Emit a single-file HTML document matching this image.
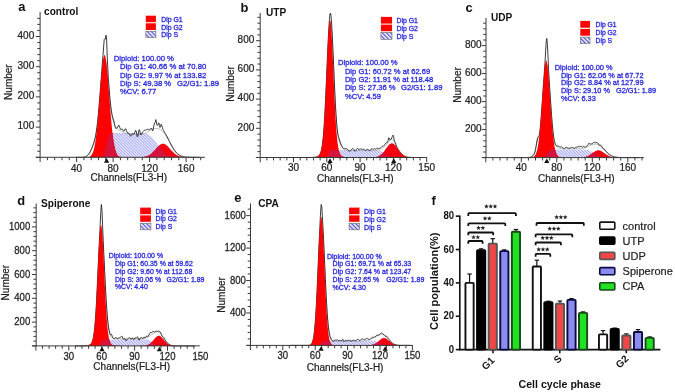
<!DOCTYPE html><html><head><meta charset="utf-8"><style>html,body{margin:0;padding:0;background:#fff;overflow:hidden}svg{display:block;filter:blur(0.4px)}</style></head><body>
<svg width="675" height="392" viewBox="0 0 675 392">
<defs><pattern id="hatch" patternUnits="userSpaceOnUse" width="2.1" height="2.1" patternTransform="rotate(-45)"><rect width="2.1" height="2.1" fill="#eaeafd" fill-opacity="0.85"/><rect width="0.8" height="2.1" fill="#9a9af2"/></pattern>
<pattern id="hatch2" patternUnits="userSpaceOnUse" width="2.9" height="2.9" patternTransform="rotate(-45)"><rect width="2.9" height="2.9" fill="#f4f2ff"/><rect width="1.2" height="2.9" fill="#5050c8"/></pattern></defs>
<rect width="675" height="392" fill="#fff"/>
<defs><clipPath id="csa"><path d="M75,157.3 L75,157.3 75.5,157.3 76,157.3 76.5,157.3 77,157.3 77.5,157.3 78,157.3 78.5,157.3 79,157.3 79.5,157.3 80,157.3 80.5,157.3 81,157.3 81.5,157.3 82,157.3 82.5,157.3 83,157.3 83.5,157.3 84,157.3 84.5,157.3 85,157.3 85.5,157.3 86,157.3 86.5,157.3 87,157.3 87.5,157.3 88,157.3 88.5,157.3 89,157.3 89.5,157.3 90,157.3 90.5,157.3 91,157.3 91.5,157.3 92,157.3 92.5,157.3 93,157.3 93.5,157.3 94,157.3 94.5,157.3 95,157.3 95.5,157.3 96,157.3 96.5,157.3 97,157.3 97.5,157.3 98,157.3 98.5,157.3 99,157.3 99.5,157.29 100,157.29 100.5,157.27 101,157.23 101.5,157.15 102,157 102.5,156.75 103,156.33 103.5,155.68 104,154.73 104.5,153.44 105,151.79 105.5,149.8 106,147.55 106.5,145.15 107,142.75 107.5,140.5 108,138.51 108.5,136.86 109,135.57 109.5,134.62 110,133.97 110.5,133.55 111,133.3 111.5,133.15 112,133.07 112.5,133.03 113,133.01 113.5,133.01 114,133 114.5,133 115,133 115.5,133 116,133 116.5,133 117,133 117.5,133 118,133 118.5,133 119,133 119.5,133 120,133 120.5,133 121,133 121.5,133 122,133 122.5,133 123,133 123.5,133 124,133 124.5,133 125,133 125.5,133 126,133 126.5,133 127,133 127.5,133 128,133 128.5,133 129,133 129.5,133 130,133 130.5,133 131,133 131.5,133 132,133 132.5,133 133,133 133.5,133 134,133 134.5,133 135,133 135.5,133.01 136,133.01 136.5,133.01 137,133.02 137.5,133.02 138,133.03 138.5,133.03 139,133.04 139.5,133.05 140,133.07 140.5,133.09 141,133.11 141.5,133.14 142,133.17 142.5,133.21 143,133.26 143.5,133.31 144,133.38 144.5,133.46 145,133.55 145.5,133.66 146,133.79 146.5,133.93 147,134.1 147.5,134.29 148,134.51 148.5,134.75 149,135.02 149.5,135.32 150,135.65 150.5,136.02 151,136.42 151.5,136.86 152,137.33 152.5,137.83 153,138.37 153.5,138.94 154,139.54 154.5,140.17 155,140.83 155.5,141.51 156,142.21 156.5,142.93 157,143.66 157.5,144.41 158,145.15 158.5,145.89 159,146.64 159.5,147.37 160,148.09 160.5,148.79 161,149.47 161.5,150.13 162,150.76 162.5,151.36 163,151.93 163.5,152.47 164,152.97 164.5,153.44 165,153.88 165.5,154.28 166,154.65 166.5,154.98 167,155.28 167.5,155.55 168,155.79 168.5,156.01 169,156.2 169.5,156.37 170,156.51 170.5,156.64 171,156.75 171.5,156.84 172,156.92 172.5,156.99 173,157.04 173.5,157.09 174,157.13 174.5,157.16 175,157.19 175.5,157.21 176,157.23 176.5,157.25 177,157.26 177.5,157.27 178,157.27 178.5,157.28 179,157.28 179.5,157.29 180,157.29 180.5,157.29 181,157.3 181.5,157.3 182,157.3 182.5,157.3 183,157.3 183.5,157.3 184,157.3 184.5,157.3 185,157.3 185.5,157.3 186,157.3 186.5,157.3 187,157.3 187.5,157.3 188,157.3 188.5,157.3 189,157.3 189.5,157.3 190,157.3 190.5,157.3 191,157.3 191.5,157.3 192,157.3 192.5,157.3 193,157.3 193.5,157.3 194,157.3 194.5,157.3 195,157.3 195.5,157.3 196,157.3 196.5,157.3 197,157.3 197.5,157.3 198,157.3 198.5,157.3 199,157.3 199.5,157.3 200,157.3 L200,157.3 Z"/></clipPath></defs>
<path d="M75,157.3 L75,157.3 75.5,157.3 76,157.3 76.5,157.3 77,157.3 77.5,157.3 78,157.3 78.5,157.3 79,157.3 79.5,157.3 80,157.3 80.5,157.3 81,157.3 81.5,157.3 82,157.3 82.5,157.3 83,157.3 83.5,157.3 84,157.3 84.5,157.3 85,157.3 85.5,157.3 86,157.3 86.5,157.3 87,157.3 87.5,157.3 88,157.3 88.5,157.3 89,157.3 89.5,157.3 90,157.3 90.5,157.3 91,157.3 91.5,157.3 92,157.3 92.5,157.3 93,157.3 93.5,157.3 94,157.3 94.5,157.3 95,157.3 95.5,157.3 96,157.3 96.5,157.3 97,157.3 97.5,157.3 98,157.3 98.5,157.3 99,157.3 99.5,157.29 100,157.29 100.5,157.27 101,157.23 101.5,157.15 102,157 102.5,156.75 103,156.33 103.5,155.68 104,154.73 104.5,153.44 105,151.79 105.5,149.8 106,147.55 106.5,145.15 107,142.75 107.5,140.5 108,138.51 108.5,136.86 109,135.57 109.5,134.62 110,133.97 110.5,133.55 111,133.3 111.5,133.15 112,133.07 112.5,133.03 113,133.01 113.5,133.01 114,133 114.5,133 115,133 115.5,133 116,133 116.5,133 117,133 117.5,133 118,133 118.5,133 119,133 119.5,133 120,133 120.5,133 121,133 121.5,133 122,133 122.5,133 123,133 123.5,133 124,133 124.5,133 125,133 125.5,133 126,133 126.5,133 127,133 127.5,133 128,133 128.5,133 129,133 129.5,133 130,133 130.5,133 131,133 131.5,133 132,133 132.5,133 133,133 133.5,133 134,133 134.5,133 135,133 135.5,133.01 136,133.01 136.5,133.01 137,133.02 137.5,133.02 138,133.03 138.5,133.03 139,133.04 139.5,133.05 140,133.07 140.5,133.09 141,133.11 141.5,133.14 142,133.17 142.5,133.21 143,133.26 143.5,133.31 144,133.38 144.5,133.46 145,133.55 145.5,133.66 146,133.79 146.5,133.93 147,134.1 147.5,134.29 148,134.51 148.5,134.75 149,135.02 149.5,135.32 150,135.65 150.5,136.02 151,136.42 151.5,136.86 152,137.33 152.5,137.83 153,138.37 153.5,138.94 154,139.54 154.5,140.17 155,140.83 155.5,141.51 156,142.21 156.5,142.93 157,143.66 157.5,144.41 158,145.15 158.5,145.89 159,146.64 159.5,147.37 160,148.09 160.5,148.79 161,149.47 161.5,150.13 162,150.76 162.5,151.36 163,151.93 163.5,152.47 164,152.97 164.5,153.44 165,153.88 165.5,154.28 166,154.65 166.5,154.98 167,155.28 167.5,155.55 168,155.79 168.5,156.01 169,156.2 169.5,156.37 170,156.51 170.5,156.64 171,156.75 171.5,156.84 172,156.92 172.5,156.99 173,157.04 173.5,157.09 174,157.13 174.5,157.16 175,157.19 175.5,157.21 176,157.23 176.5,157.25 177,157.26 177.5,157.27 178,157.27 178.5,157.28 179,157.28 179.5,157.29 180,157.29 180.5,157.29 181,157.3 181.5,157.3 182,157.3 182.5,157.3 183,157.3 183.5,157.3 184,157.3 184.5,157.3 185,157.3 185.5,157.3 186,157.3 186.5,157.3 187,157.3 187.5,157.3 188,157.3 188.5,157.3 189,157.3 189.5,157.3 190,157.3 190.5,157.3 191,157.3 191.5,157.3 192,157.3 192.5,157.3 193,157.3 193.5,157.3 194,157.3 194.5,157.3 195,157.3 195.5,157.3 196,157.3 196.5,157.3 197,157.3 197.5,157.3 198,157.3 198.5,157.3 199,157.3 199.5,157.3 200,157.3 L200,157.3 Z" fill="url(#hatch)"/>
<path d="M85,157.49 85.6,157.29 86.2,157.01 86.8,156.63 87.4,156.15 88,155.55 88.6,154.82 89.2,153.96 89.8,152.98 90.4,151.89 91,150.69 91.6,149.41 92.2,148.04 92.8,146.56 93.4,144.92 94,143.1 94.6,141.06 95.2,138.67 95.8,135.81 96.4,132.35 97,128.19 97.6,123.26 98.2,117.58 98.8,111.2 99.4,104.28 100,97 100.6,89.62 101.2,82.42 101.8,75.71 102.4,69.78 103,64.9 103.6,61.32 104.2,59.21 104.8,58.68 105.4,59.75 106,62.36 106.6,66.37 107.2,71.57 107.8,77.65 108.4,84.26 109,91.02 109.6,97.55 110.2,103.5 110.8,108.64 111.4,112.87 112,116.22 112.6,118.84 113.2,120.92 113.8,122.61 114.4,124.04 115,125.26 115.6,126.29 116.2,127.16 116.8,127.89 117.4,128.53 118,129.16 118.6,129.72 119.2,130.18 119.8,130.58 120.4,130.93 121,131.25 121.6,131.55 122.2,131.85 122.8,132.13 123.4,132.4 124,132.65 124.6,132.9 125.2,133.12 125.8,133.32 126.4,133.5 127,133.66 127.6,133.79 128.2,133.9 128.8,134 129.4,134.08 130,134.14 130.6,134.19 131.2,134.22 131.8,134.25 132.4,134.27 133,134.29 133.6,134.3 134.2,134.31 134.8,134.31 135.4,134.31 136,134.31 136.6,134.31 137.2,134.31 137.8,134.3 138.4,134.29 139,134.28 139.6,134.26 140.2,134.24 140.8,134.2 141.4,134.15 142,134.09 142.6,134.01 143.2,133.9 143.8,133.76 144.4,133.58 145,133.37 145.6,133.12 146.2,132.83 146.8,132.5 147.4,132.13 148,131.74 148.6,131.33 149.2,130.91 149.8,130.5 150.4,130.11 151,129.75 151.6,129.43 152.2,129.17 152.8,128.95 153.4,128.79 154,128.67 154.6,128.6 155.2,128.57 155.8,128.56 156.4,128.59 157,128.64 157.6,128.72 158.2,128.83 158.8,128.97 159.4,129.16 160,129.39 160.6,129.69 161.2,130.06 161.8,130.51 162.4,131.05 163,131.68 163.6,132.39 164.2,133.17 164.8,134.03 165.4,134.95 166,135.93 166.6,136.97 167.2,138.05 167.8,139.17 168.4,140.31 169,141.46 169.6,142.62 170.2,143.76 170.8,144.89 171.4,146 172,147.06 172.6,148.08 173.2,149.06 173.8,149.98 174.4,150.84 175,151.64 175.6,152.38 176.2,153.06 176.8,153.68 177.4,154.23 178,154.73 178.6,155.18 179.2,155.58 179.8,155.92 180.4,156.23 181,156.49 181.6,156.72 182.2,156.92 182.8,157.08 183.4,157.23 184,157.34 184.6,157.45" fill="none" stroke="#9a9a9a" stroke-width="0.7"/>
<path d="M76,157.3 76.6,157.3 77.2,157.3 77.8,157.3 78.4,157.3 79,157.3 79.6,157.3 80.2,157.29 80.8,157.29 81.4,157.28 82,157.26 82.6,157.24 83.2,157.2 83.8,157.13 84.4,157.03 85,156.88 85.6,156.67 86.2,156.38 86.8,156 87.4,155.5 88,154.87 88.6,154.12 89.2,153.23 89.8,152.22 90.4,151.1 91,149.87 91.6,148.55 92.2,147.14 92.8,145.6 93.4,143.92 94,142.04 94.6,139.94 95.2,137.48 95.8,134.53 96.4,130.96 97,126.67 97.6,121.59 98.2,115.72 98.8,109.14 99.4,101.96 100,94.36 100.6,86.51 101.2,78.59 101.8,70.75 102.4,63.13 103,55.55 103.6,47.02 104.2,39.67 104.8,38.78 105.4,39.15 106,35.16 106.6,39.03 107.2,55.05 107.8,68.97 108.4,78.6 109,86.9 109.6,94.39 110.2,100.92 110.8,106.4 111.4,110.84 112,114.32 112.6,116.89 113.2,118.89 113.8,120.77 114.4,123.73 115,126.48 115.6,128.27 116.2,128.35 116.8,128.28 117.4,127.61 118,126.38 118.6,125.09 119.2,125.84 119.8,127.57 120.4,129.26 121,129.4 121.6,129.21 122.2,129.01 122.8,129.92 123.4,130.83 124,131.38 124.6,130.2 125.2,129 125.8,128.76 126.4,130.45 127,132.11 127.6,133 128.2,133.11 128.8,133.2 129.4,134.01 130,135.16 130.6,136.3 131.2,135.66 131.8,134.67 132.4,133.67 133,133.85 133.6,134.01 134.2,133.88 134.8,132.26 135.4,130.64 136,130.56 136.6,133.6 137.2,136.64 137.8,136.46 138.4,133.07 139,129.67 139.6,130.16 140.2,132.58 140.8,135 141.4,134.39 142,133.16 142.6,131.91 143.2,131.35 143.8,130.76 144.4,130.24 145,130.2 145.6,130.12 146.2,129.94 146.8,129.58 147.4,129.19 148,129.21 148.6,129.64 149.2,130.06 149.8,129.66 150.4,128.86 151,128.09 151.6,128.78 152.2,129.79 152.8,130.86 153.4,128.01 154,125.2 154.6,122.99 155.2,122.63 155.8,119.6 156.4,121.75 157,125.22 157.6,125.39 158.2,124.57 158.8,122.84 159.4,125.37 160,127.45 160.6,126.06 161.2,124.12 161.8,125.39 162.4,127.39 163,129.47 163.6,130.49 164.2,131.57 164.8,132.69 165.4,133.64 166,134.65 166.6,135.72 167.2,136.84 167.8,137.99 168.4,139.16 169,140.35 169.6,141.54 170.2,142.73 170.8,143.89 171.4,145.03 172,146.13 172.6,147.18 173.2,148.18 173.8,149.13 174.4,150.02 175,150.85 175.6,151.61 176.2,152.31 176.8,152.95 177.4,153.52 178,154.04 178.6,154.5 179.2,154.9 179.8,155.26 180.4,155.58 181,155.85 181.6,156.08 182.2,156.29 182.8,156.46 183.4,156.6 184,156.73 184.6,156.83 185.2,156.92 185.8,156.99 186.4,157.05 187,157.1 187.6,157.14 188.2,157.17 188.8,157.2 189.4,157.22 190,157.24 190.6,157.25 191.2,157.26 191.8,157.27 192.4,157.28 193,157.28 193.6,157.29 194.2,157.29 194.8,157.29 195.4,157.29 196,157.3 196.6,157.3 197.2,157.3 197.8,157.3 198.4,157.3 199,157.3 199.6,157.3" fill="none" stroke="#1a1a1a" stroke-width="0.85"/>
<path d="M75,157.3 L75,157.3 75.5,157.3 76,157.3 76.5,157.3 77,157.3 77.5,157.3 78,157.3 78.5,157.3 79,157.3 79.5,157.3 80,157.3 80.5,157.3 81,157.3 81.5,157.3 82,157.3 82.5,157.3 83,157.3 83.5,157.3 84,157.29 84.5,157.29 85,157.28 85.5,157.27 86,157.26 86.5,157.23 87,157.2 87.5,157.15 88,157.08 88.5,156.99 89,156.86 89.5,156.67 90,156.42 90.5,156.09 91,155.65 91.5,155.07 92,154.32 92.5,153.37 93,152.17 93.5,150.69 94,148.86 94.5,146.66 95,144.03 95.5,140.95 96,137.36 96.5,133.27 97,128.66 97.5,123.56 98,117.99 98.5,112.01 99,105.72 99.5,99.21 100,92.61 100.5,86.08 101,79.77 101.5,73.85 102,68.5 102.5,63.86 103,60.08 103.5,57.29 104,55.58 104.5,55 105,55.58 105.5,57.29 106,60.08 106.5,63.86 107,68.5 107.5,73.85 108,79.77 108.5,86.08 109,92.61 109.5,99.21 110,105.72 110.5,112.01 111,117.99 111.5,123.56 112,128.66 112.5,133.27 113,137.36 113.5,140.95 114,144.03 114.5,146.66 115,148.86 115.5,150.69 116,152.17 116.5,153.37 117,154.32 117.5,155.07 118,155.65 118.5,156.09 119,156.42 119.5,156.67 120,156.86 120.5,156.99 121,157.08 121.5,157.15 122,157.2 122.5,157.23 123,157.26 123.5,157.27 124,157.28 124.5,157.29 125,157.29 125.5,157.3 126,157.3 126.5,157.3 127,157.3 127.5,157.3 128,157.3 128.5,157.3 129,157.3 129.5,157.3 130,157.3 130.5,157.3 131,157.3 131.5,157.3 132,157.3 132.5,157.3 133,157.3 133.5,157.3 134,157.3 134.5,157.3 135,157.3 135.5,157.3 136,157.3 136.5,157.3 137,157.3 137.5,157.3 138,157.3 138.5,157.3 139,157.3 139.5,157.3 140,157.3 140.5,157.3 141,157.3 141.5,157.3 142,157.3 142.5,157.3 143,157.3 143.5,157.3 144,157.3 144.5,157.3 145,157.3 145.5,157.3 146,157.3 146.5,157.3 147,157.3 147.5,157.3 148,157.3 148.5,157.3 149,157.3 149.5,157.3 150,157.3 150.5,157.3 151,157.3 151.5,157.3 152,157.3 152.5,157.3 153,157.3 153.5,157.3 154,157.3 154.5,157.3 155,157.3 155.5,157.3 156,157.3 156.5,157.3 157,157.3 157.5,157.3 158,157.3 158.5,157.3 159,157.3 159.5,157.3 160,157.3 160.5,157.3 161,157.3 161.5,157.3 162,157.3 162.5,157.3 163,157.3 163.5,157.3 164,157.3 164.5,157.3 165,157.3 165.5,157.3 166,157.3 166.5,157.3 167,157.3 167.5,157.3 168,157.3 168.5,157.3 169,157.3 169.5,157.3 170,157.3 170.5,157.3 171,157.3 171.5,157.3 172,157.3 172.5,157.3 173,157.3 173.5,157.3 174,157.3 174.5,157.3 175,157.3 175.5,157.3 176,157.3 176.5,157.3 177,157.3 177.5,157.3 178,157.3 178.5,157.3 179,157.3 179.5,157.3 180,157.3 180.5,157.3 181,157.3 181.5,157.3 182,157.3 182.5,157.3 183,157.3 183.5,157.3 184,157.3 184.5,157.3 185,157.3 185.5,157.3 186,157.3 186.5,157.3 187,157.3 187.5,157.3 188,157.3 188.5,157.3 189,157.3 189.5,157.3 190,157.3 190.5,157.3 191,157.3 191.5,157.3 192,157.3 192.5,157.3 193,157.3 193.5,157.3 194,157.3 194.5,157.3 195,157.3 195.5,157.3 196,157.3 196.5,157.3 197,157.3 197.5,157.3 198,157.3 198.5,157.3 199,157.3 199.5,157.3 200,157.3 L200,157.3 Z" fill="#ff0000"/>
<path d="M75,157.3 L75,157.3 75.5,157.3 76,157.3 76.5,157.3 77,157.3 77.5,157.3 78,157.3 78.5,157.3 79,157.3 79.5,157.3 80,157.3 80.5,157.3 81,157.3 81.5,157.3 82,157.3 82.5,157.3 83,157.3 83.5,157.3 84,157.3 84.5,157.3 85,157.3 85.5,157.3 86,157.3 86.5,157.3 87,157.3 87.5,157.3 88,157.3 88.5,157.3 89,157.3 89.5,157.3 90,157.3 90.5,157.3 91,157.3 91.5,157.3 92,157.3 92.5,157.3 93,157.3 93.5,157.3 94,157.3 94.5,157.3 95,157.3 95.5,157.3 96,157.3 96.5,157.3 97,157.3 97.5,157.3 98,157.3 98.5,157.3 99,157.3 99.5,157.3 100,157.3 100.5,157.3 101,157.3 101.5,157.3 102,157.3 102.5,157.3 103,157.3 103.5,157.3 104,157.3 104.5,157.3 105,157.3 105.5,157.3 106,157.3 106.5,157.3 107,157.3 107.5,157.3 108,157.3 108.5,157.3 109,157.3 109.5,157.3 110,157.3 110.5,157.3 111,157.3 111.5,157.3 112,157.3 112.5,157.3 113,157.3 113.5,157.3 114,157.3 114.5,157.3 115,157.3 115.5,157.3 116,157.3 116.5,157.3 117,157.3 117.5,157.3 118,157.3 118.5,157.3 119,157.3 119.5,157.3 120,157.3 120.5,157.3 121,157.3 121.5,157.3 122,157.3 122.5,157.3 123,157.3 123.5,157.3 124,157.3 124.5,157.3 125,157.3 125.5,157.3 126,157.3 126.5,157.3 127,157.3 127.5,157.3 128,157.3 128.5,157.3 129,157.3 129.5,157.3 130,157.3 130.5,157.3 131,157.3 131.5,157.3 132,157.3 132.5,157.3 133,157.3 133.5,157.3 134,157.3 134.5,157.29 135,157.29 135.5,157.29 136,157.29 136.5,157.28 137,157.28 137.5,157.27 138,157.27 138.5,157.26 139,157.25 139.5,157.23 140,157.22 140.5,157.2 141,157.17 141.5,157.14 142,157.11 142.5,157.06 143,157.01 143.5,156.95 144,156.88 144.5,156.8 145,156.7 145.5,156.59 146,156.46 146.5,156.32 147,156.15 147.5,155.96 148,155.75 148.5,155.51 149,155.25 149.5,154.96 150,154.64 150.5,154.29 151,153.91 151.5,153.5 152,153.07 152.5,152.6 153,152.12 153.5,151.6 154,151.07 154.5,150.53 155,149.96 155.5,149.39 156,148.82 156.5,148.25 157,147.69 157.5,147.14 158,146.61 158.5,146.11 159,145.64 159.5,145.22 160,144.83 160.5,144.5 161,144.21 161.5,143.99 162,143.83 162.5,143.73 163,143.7 163.5,143.73 164,143.83 164.5,143.99 165,144.21 165.5,144.5 166,144.83 166.5,145.22 167,145.64 167.5,146.11 168,146.61 168.5,147.14 169,147.69 169.5,148.25 170,148.82 170.5,149.39 171,149.96 171.5,150.53 172,151.07 172.5,151.6 173,152.12 173.5,152.6 174,153.07 174.5,153.5 175,153.91 175.5,154.29 176,154.64 176.5,154.96 177,155.25 177.5,155.51 178,155.75 178.5,155.96 179,156.15 179.5,156.32 180,156.46 180.5,156.59 181,156.7 181.5,156.8 182,156.88 182.5,156.95 183,157.01 183.5,157.06 184,157.11 184.5,157.14 185,157.17 185.5,157.2 186,157.22 186.5,157.23 187,157.25 187.5,157.26 188,157.27 188.5,157.27 189,157.28 189.5,157.28 190,157.29 190.5,157.29 191,157.29 191.5,157.29 192,157.3 192.5,157.3 193,157.3 193.5,157.3 194,157.3 194.5,157.3 195,157.3 195.5,157.3 196,157.3 196.5,157.3 197,157.3 197.5,157.3 198,157.3 198.5,157.3 199,157.3 199.5,157.3 200,157.3 L200,157.3 Z" fill="#f00010"/>
<g clip-path="url(#csa)"><path d="M75,157.3 L75,157.3 75.5,157.3 76,157.3 76.5,157.3 77,157.3 77.5,157.3 78,157.3 78.5,157.3 79,157.3 79.5,157.3 80,157.3 80.5,157.3 81,157.3 81.5,157.3 82,157.3 82.5,157.3 83,157.3 83.5,157.3 84,157.29 84.5,157.29 85,157.28 85.5,157.27 86,157.26 86.5,157.23 87,157.2 87.5,157.15 88,157.08 88.5,156.99 89,156.86 89.5,156.67 90,156.42 90.5,156.09 91,155.65 91.5,155.07 92,154.32 92.5,153.37 93,152.17 93.5,150.69 94,148.86 94.5,146.66 95,144.03 95.5,140.95 96,137.36 96.5,133.27 97,128.66 97.5,123.56 98,117.99 98.5,112.01 99,105.72 99.5,99.21 100,92.61 100.5,86.08 101,79.77 101.5,73.85 102,68.5 102.5,63.86 103,60.08 103.5,57.29 104,55.58 104.5,55 105,55.58 105.5,57.29 106,60.08 106.5,63.86 107,68.5 107.5,73.85 108,79.77 108.5,86.08 109,92.61 109.5,99.21 110,105.72 110.5,112.01 111,117.99 111.5,123.56 112,128.66 112.5,133.27 113,137.36 113.5,140.95 114,144.03 114.5,146.66 115,148.86 115.5,150.69 116,152.17 116.5,153.37 117,154.32 117.5,155.07 118,155.65 118.5,156.09 119,156.42 119.5,156.67 120,156.86 120.5,156.99 121,157.08 121.5,157.15 122,157.2 122.5,157.23 123,157.26 123.5,157.27 124,157.28 124.5,157.29 125,157.29 125.5,157.3 126,157.3 126.5,157.3 127,157.3 127.5,157.3 128,157.3 128.5,157.3 129,157.3 129.5,157.3 130,157.3 130.5,157.3 131,157.3 131.5,157.3 132,157.3 132.5,157.3 133,157.3 133.5,157.3 134,157.3 134.5,157.3 135,157.3 135.5,157.3 136,157.3 136.5,157.3 137,157.3 137.5,157.3 138,157.3 138.5,157.3 139,157.3 139.5,157.3 140,157.3 140.5,157.3 141,157.3 141.5,157.3 142,157.3 142.5,157.3 143,157.3 143.5,157.3 144,157.3 144.5,157.3 145,157.3 145.5,157.3 146,157.3 146.5,157.3 147,157.3 147.5,157.3 148,157.3 148.5,157.3 149,157.3 149.5,157.3 150,157.3 150.5,157.3 151,157.3 151.5,157.3 152,157.3 152.5,157.3 153,157.3 153.5,157.3 154,157.3 154.5,157.3 155,157.3 155.5,157.3 156,157.3 156.5,157.3 157,157.3 157.5,157.3 158,157.3 158.5,157.3 159,157.3 159.5,157.3 160,157.3 160.5,157.3 161,157.3 161.5,157.3 162,157.3 162.5,157.3 163,157.3 163.5,157.3 164,157.3 164.5,157.3 165,157.3 165.5,157.3 166,157.3 166.5,157.3 167,157.3 167.5,157.3 168,157.3 168.5,157.3 169,157.3 169.5,157.3 170,157.3 170.5,157.3 171,157.3 171.5,157.3 172,157.3 172.5,157.3 173,157.3 173.5,157.3 174,157.3 174.5,157.3 175,157.3 175.5,157.3 176,157.3 176.5,157.3 177,157.3 177.5,157.3 178,157.3 178.5,157.3 179,157.3 179.5,157.3 180,157.3 180.5,157.3 181,157.3 181.5,157.3 182,157.3 182.5,157.3 183,157.3 183.5,157.3 184,157.3 184.5,157.3 185,157.3 185.5,157.3 186,157.3 186.5,157.3 187,157.3 187.5,157.3 188,157.3 188.5,157.3 189,157.3 189.5,157.3 190,157.3 190.5,157.3 191,157.3 191.5,157.3 192,157.3 192.5,157.3 193,157.3 193.5,157.3 194,157.3 194.5,157.3 195,157.3 195.5,157.3 196,157.3 196.5,157.3 197,157.3 197.5,157.3 198,157.3 198.5,157.3 199,157.3 199.5,157.3 200,157.3 L200,157.3 Z" fill="#d4143c"/><path d="M75,157.3 L75,157.3 75.5,157.3 76,157.3 76.5,157.3 77,157.3 77.5,157.3 78,157.3 78.5,157.3 79,157.3 79.5,157.3 80,157.3 80.5,157.3 81,157.3 81.5,157.3 82,157.3 82.5,157.3 83,157.3 83.5,157.3 84,157.3 84.5,157.3 85,157.3 85.5,157.3 86,157.3 86.5,157.3 87,157.3 87.5,157.3 88,157.3 88.5,157.3 89,157.3 89.5,157.3 90,157.3 90.5,157.3 91,157.3 91.5,157.3 92,157.3 92.5,157.3 93,157.3 93.5,157.3 94,157.3 94.5,157.3 95,157.3 95.5,157.3 96,157.3 96.5,157.3 97,157.3 97.5,157.3 98,157.3 98.5,157.3 99,157.3 99.5,157.3 100,157.3 100.5,157.3 101,157.3 101.5,157.3 102,157.3 102.5,157.3 103,157.3 103.5,157.3 104,157.3 104.5,157.3 105,157.3 105.5,157.3 106,157.3 106.5,157.3 107,157.3 107.5,157.3 108,157.3 108.5,157.3 109,157.3 109.5,157.3 110,157.3 110.5,157.3 111,157.3 111.5,157.3 112,157.3 112.5,157.3 113,157.3 113.5,157.3 114,157.3 114.5,157.3 115,157.3 115.5,157.3 116,157.3 116.5,157.3 117,157.3 117.5,157.3 118,157.3 118.5,157.3 119,157.3 119.5,157.3 120,157.3 120.5,157.3 121,157.3 121.5,157.3 122,157.3 122.5,157.3 123,157.3 123.5,157.3 124,157.3 124.5,157.3 125,157.3 125.5,157.3 126,157.3 126.5,157.3 127,157.3 127.5,157.3 128,157.3 128.5,157.3 129,157.3 129.5,157.3 130,157.3 130.5,157.3 131,157.3 131.5,157.3 132,157.3 132.5,157.3 133,157.3 133.5,157.3 134,157.3 134.5,157.29 135,157.29 135.5,157.29 136,157.29 136.5,157.28 137,157.28 137.5,157.27 138,157.27 138.5,157.26 139,157.25 139.5,157.23 140,157.22 140.5,157.2 141,157.17 141.5,157.14 142,157.11 142.5,157.06 143,157.01 143.5,156.95 144,156.88 144.5,156.8 145,156.7 145.5,156.59 146,156.46 146.5,156.32 147,156.15 147.5,155.96 148,155.75 148.5,155.51 149,155.25 149.5,154.96 150,154.64 150.5,154.29 151,153.91 151.5,153.5 152,153.07 152.5,152.6 153,152.12 153.5,151.6 154,151.07 154.5,150.53 155,149.96 155.5,149.39 156,148.82 156.5,148.25 157,147.69 157.5,147.14 158,146.61 158.5,146.11 159,145.64 159.5,145.22 160,144.83 160.5,144.5 161,144.21 161.5,143.99 162,143.83 162.5,143.73 163,143.7 163.5,143.73 164,143.83 164.5,143.99 165,144.21 165.5,144.5 166,144.83 166.5,145.22 167,145.64 167.5,146.11 168,146.61 168.5,147.14 169,147.69 169.5,148.25 170,148.82 170.5,149.39 171,149.96 171.5,150.53 172,151.07 172.5,151.6 173,152.12 173.5,152.6 174,153.07 174.5,153.5 175,153.91 175.5,154.29 176,154.64 176.5,154.96 177,155.25 177.5,155.51 178,155.75 178.5,155.96 179,156.15 179.5,156.32 180,156.46 180.5,156.59 181,156.7 181.5,156.8 182,156.88 182.5,156.95 183,157.01 183.5,157.06 184,157.11 184.5,157.14 185,157.17 185.5,157.2 186,157.22 186.5,157.23 187,157.25 187.5,157.26 188,157.27 188.5,157.27 189,157.28 189.5,157.28 190,157.29 190.5,157.29 191,157.29 191.5,157.29 192,157.3 192.5,157.3 193,157.3 193.5,157.3 194,157.3 194.5,157.3 195,157.3 195.5,157.3 196,157.3 196.5,157.3 197,157.3 197.5,157.3 198,157.3 198.5,157.3 199,157.3 199.5,157.3 200,157.3 L200,157.3 Z" fill="#d4143c"/></g>
<g stroke="#3a3a3a" stroke-width="1" fill="none">
<line x1="40.1" y1="12" x2="40.1" y2="157.3"/>
<line x1="35.9" y1="157.3" x2="204.9" y2="157.3"/>
<line x1="35.8" y1="157.3" x2="40.1" y2="157.3"/>
<line x1="37.3" y1="151.26" x2="40.1" y2="151.26"/>
<line x1="37.3" y1="145.22" x2="40.1" y2="145.22"/>
<line x1="37.3" y1="139.18" x2="40.1" y2="139.18"/>
<line x1="37.3" y1="133.14" x2="40.1" y2="133.14"/>
<line x1="35.8" y1="127.1" x2="40.1" y2="127.1"/>
<line x1="37.3" y1="121.06" x2="40.1" y2="121.06"/>
<line x1="37.3" y1="115.02" x2="40.1" y2="115.02"/>
<line x1="37.3" y1="108.98" x2="40.1" y2="108.98"/>
<line x1="37.3" y1="102.94" x2="40.1" y2="102.94"/>
<line x1="35.8" y1="96.9" x2="40.1" y2="96.9"/>
<line x1="37.3" y1="90.86" x2="40.1" y2="90.86"/>
<line x1="37.3" y1="84.82" x2="40.1" y2="84.82"/>
<line x1="37.3" y1="78.78" x2="40.1" y2="78.78"/>
<line x1="37.3" y1="72.74" x2="40.1" y2="72.74"/>
<line x1="35.8" y1="66.7" x2="40.1" y2="66.7"/>
<line x1="37.3" y1="60.66" x2="40.1" y2="60.66"/>
<line x1="37.3" y1="54.62" x2="40.1" y2="54.62"/>
<line x1="37.3" y1="48.58" x2="40.1" y2="48.58"/>
<line x1="37.3" y1="42.54" x2="40.1" y2="42.54"/>
<line x1="35.8" y1="36.5" x2="40.1" y2="36.5"/>
<line x1="37.3" y1="30.46" x2="40.1" y2="30.46"/>
<line x1="37.3" y1="24.42" x2="40.1" y2="24.42"/>
<line x1="37.3" y1="18.38" x2="40.1" y2="18.38"/>
<line x1="40.1" y1="157.3" x2="40.1" y2="162"/>
<line x1="47.4" y1="157.3" x2="47.4" y2="160.2"/>
<line x1="54.7" y1="157.3" x2="54.7" y2="160.2"/>
<line x1="62" y1="157.3" x2="62" y2="160.2"/>
<line x1="69.3" y1="157.3" x2="69.3" y2="160.2"/>
<line x1="76.6" y1="157.3" x2="76.6" y2="162"/>
<line x1="83.9" y1="157.3" x2="83.9" y2="160.2"/>
<line x1="91.2" y1="157.3" x2="91.2" y2="160.2"/>
<line x1="98.5" y1="157.3" x2="98.5" y2="160.2"/>
<line x1="105.8" y1="157.3" x2="105.8" y2="160.2"/>
<line x1="113.1" y1="157.3" x2="113.1" y2="162"/>
<line x1="120.4" y1="157.3" x2="120.4" y2="160.2"/>
<line x1="127.7" y1="157.3" x2="127.7" y2="160.2"/>
<line x1="135" y1="157.3" x2="135" y2="160.2"/>
<line x1="142.3" y1="157.3" x2="142.3" y2="160.2"/>
<line x1="149.6" y1="157.3" x2="149.6" y2="162"/>
<line x1="156.9" y1="157.3" x2="156.9" y2="160.2"/>
<line x1="164.2" y1="157.3" x2="164.2" y2="160.2"/>
<line x1="171.5" y1="157.3" x2="171.5" y2="160.2"/>
<line x1="178.8" y1="157.3" x2="178.8" y2="160.2"/>
<line x1="186.1" y1="157.3" x2="186.1" y2="162"/>
<line x1="193.4" y1="157.3" x2="193.4" y2="160.2"/>
<line x1="200.7" y1="157.3" x2="200.7" y2="160.2"/>
</g>
<g font-family='"Liberation Sans", sans-serif' font-size="10" fill="#222" stroke="#222" stroke-width="0.22">
<text transform="translate(34.2,129.4) scale(1,1)" text-anchor="end">100</text>
<text transform="translate(34.2,99.2) scale(1,1)" text-anchor="end">200</text>
<text transform="translate(34.2,69) scale(1,1)" text-anchor="end">300</text>
<text transform="translate(34.2,38.8) scale(1,1)" text-anchor="end">400</text>
<text transform="translate(76.6,171.6) scale(1,1)" text-anchor="middle">40</text>
<text transform="translate(113.1,171.6) scale(1,1)" text-anchor="middle">80</text>
<text transform="translate(149.6,171.6) scale(1,1)" text-anchor="middle">120</text>
<text transform="translate(186.1,171.6) scale(1,1)" text-anchor="middle">160</text>
</g>
<text x="128.8" y="181.4" font-family='"Liberation Sans", sans-serif' font-size="10" fill="#222" stroke="#222" stroke-width="0.22" text-anchor="middle">Channels(FL3-H)</text>
<text transform="translate(8.3,82.1) rotate(-90)" font-family='"Liberation Sans", sans-serif' font-size="10" fill="#222" stroke="#222" stroke-width="0.22" text-anchor="middle" dominant-baseline="central">Number</text>
<path d="M106.6,158.1 L104,162.7 L109.2,162.7 Z" fill="#111"/>
<text x="18.2" y="10.8" font-family='"Liberation Sans", sans-serif' font-size="12.9" font-weight="bold" fill="#111">a</text>
<text x="44.1" y="14.5" font-family='"Liberation Sans", sans-serif' font-size="10.1" font-weight="bold" fill="#111">control</text>
<rect x="145.8" y="15.7" width="10.1" height="6.5" fill="#ff0000" stroke="none" stroke-width="0.6"/>
<text x="161.2" y="21.83" font-family='"Liberation Sans", sans-serif' font-size="6.9" fill="#2626dc" stroke="#2626dc" stroke-width="0.28">Dip G1</text>
<rect x="145.8" y="23.3" width="10.1" height="6.7" fill="#ff0000" stroke="none" stroke-width="0.6"/>
<text x="161.2" y="29.53" font-family='"Liberation Sans", sans-serif' font-size="6.9" fill="#2626dc" stroke="#2626dc" stroke-width="0.28">Dip G2</text>
<rect x="145.8" y="31.3" width="10.1" height="6.2" fill="url(#hatch2)" stroke="#666" stroke-width="0.6"/>
<text x="161.2" y="37.28" font-family='"Liberation Sans", sans-serif' font-size="6.9" fill="#2626dc" stroke="#2626dc" stroke-width="0.28">Dip S</text>
<text x="113.7" y="60.97" font-family='"Liberation Sans", sans-serif' font-size="7.7" fill="#2626dc" stroke="#2626dc" stroke-width="0.28">Diploid: 100.00 %</text>
<text x="119.9" y="68.97" font-family='"Liberation Sans", sans-serif' font-size="7.7" fill="#2626dc" stroke="#2626dc" stroke-width="0.28">Dip G1: 40.66 % at 70.80</text>
<text x="119.9" y="77.67" font-family='"Liberation Sans", sans-serif' font-size="7.7" fill="#2626dc" stroke="#2626dc" stroke-width="0.28">Dip G2: 9.97 % at 133.82</text>
<text x="119.9" y="86.17" font-family='"Liberation Sans", sans-serif' font-size="7.7" fill="#2626dc" stroke="#2626dc" stroke-width="0.28">Dip S: 49.38 %</text>
<text x="219" y="86.17" font-family='"Liberation Sans", sans-serif' font-size="7.7" fill="#2626dc" stroke="#2626dc" stroke-width="0.28" text-anchor="end">G2/G1: 1.89</text>
<text x="119.9" y="94.27" font-family='"Liberation Sans", sans-serif' font-size="7.7" fill="#2626dc" stroke="#2626dc" stroke-width="0.28">%CV: 6.77</text>
<defs><clipPath id="csb"><path d="M300,157.5 L300,157.5 300.5,157.5 301,157.5 301.5,157.5 302,157.5 302.5,157.5 303,157.5 303.5,157.5 304,157.5 304.5,157.5 305,157.5 305.5,157.5 306,157.5 306.5,157.5 307,157.5 307.5,157.5 308,157.5 308.5,157.5 309,157.5 309.5,157.5 310,157.5 310.5,157.5 311,157.5 311.5,157.5 312,157.5 312.5,157.5 313,157.5 313.5,157.5 314,157.5 314.5,157.5 315,157.5 315.5,157.5 316,157.5 316.5,157.5 317,157.5 317.5,157.5 318,157.5 318.5,157.5 319,157.5 319.5,157.5 320,157.5 320.5,157.5 321,157.5 321.5,157.5 322,157.5 322.5,157.5 323,157.5 323.5,157.49 324,157.48 324.5,157.46 325,157.4 325.5,157.27 326,157.03 326.5,156.64 327,156.05 327.5,155.27 328,154.34 328.5,153.35 329,152.4 329.5,151.59 330,150.96 330.5,150.53 331,150.27 331.5,150.12 332,150.05 332.5,150.02 333,150.01 333.5,150 334,150 334.5,150 335,150 335.5,150 336,150 336.5,150 337,150 337.5,150 338,150 338.5,150 339,150 339.5,150 340,150 340.5,150 341,150 341.5,150 342,150 342.5,150 343,150 343.5,150 344,150 344.5,150 345,150 345.5,150 346,150 346.5,150 347,150 347.5,150 348,150 348.5,150 349,150 349.5,150 350,150 350.5,150 351,150 351.5,150 352,150 352.5,150 353,150 353.5,150 354,150 354.5,150 355,150 355.5,150 356,150 356.5,150 357,150 357.5,150 358,150 358.5,150 359,150 359.5,150 360,150 360.5,150 361,150 361.5,150 362,150 362.5,150 363,150 363.5,150 364,150 364.5,150 365,150 365.5,150 366,150 366.5,150 367,150 367.5,150 368,150 368.5,150 369,150 369.5,150 370,150 370.5,150 371,150 371.5,150 372,150 372.5,150 373,150 373.5,150 374,150 374.5,150.01 375,150.01 375.5,150.02 376,150.03 376.5,150.05 377,150.07 377.5,150.11 378,150.17 378.5,150.25 379,150.36 379.5,150.5 380,150.68 380.5,150.91 381,151.19 381.5,151.52 382,151.89 382.5,152.31 383,152.77 383.5,153.25 384,153.75 384.5,154.25 385,154.73 385.5,155.19 386,155.61 386.5,155.98 387,156.31 387.5,156.59 388,156.82 388.5,157 389,157.14 389.5,157.25 390,157.33 390.5,157.39 391,157.43 391.5,157.45 392,157.47 392.5,157.48 393,157.49 393.5,157.49 394,157.5 394.5,157.5 395,157.5 395.5,157.5 396,157.5 396.5,157.5 397,157.5 397.5,157.5 398,157.5 398.5,157.5 399,157.5 399.5,157.5 400,157.5 400.5,157.5 401,157.5 401.5,157.5 402,157.5 402.5,157.5 403,157.5 403.5,157.5 404,157.5 404.5,157.5 405,157.5 405.5,157.5 406,157.5 406.5,157.5 407,157.5 407.5,157.5 408,157.5 408.5,157.5 409,157.5 409.5,157.5 410,157.5 410.5,157.5 411,157.5 411.5,157.5 412,157.5 412.5,157.5 413,157.5 413.5,157.5 414,157.5 414.5,157.5 415,157.5 415.5,157.5 416,157.5 416.5,157.5 417,157.5 417.5,157.5 418,157.5 418.5,157.5 419,157.5 419.5,157.5 420,157.5 420.5,157.5 421,157.5 421.5,157.5 422,157.5 422.5,157.5 423,157.5 423.5,157.5 424,157.5 424.5,157.5 425,157.5 L425,157.5 Z"/></clipPath></defs>
<path d="M300,157.5 L300,157.5 300.5,157.5 301,157.5 301.5,157.5 302,157.5 302.5,157.5 303,157.5 303.5,157.5 304,157.5 304.5,157.5 305,157.5 305.5,157.5 306,157.5 306.5,157.5 307,157.5 307.5,157.5 308,157.5 308.5,157.5 309,157.5 309.5,157.5 310,157.5 310.5,157.5 311,157.5 311.5,157.5 312,157.5 312.5,157.5 313,157.5 313.5,157.5 314,157.5 314.5,157.5 315,157.5 315.5,157.5 316,157.5 316.5,157.5 317,157.5 317.5,157.5 318,157.5 318.5,157.5 319,157.5 319.5,157.5 320,157.5 320.5,157.5 321,157.5 321.5,157.5 322,157.5 322.5,157.5 323,157.5 323.5,157.49 324,157.48 324.5,157.46 325,157.4 325.5,157.27 326,157.03 326.5,156.64 327,156.05 327.5,155.27 328,154.34 328.5,153.35 329,152.4 329.5,151.59 330,150.96 330.5,150.53 331,150.27 331.5,150.12 332,150.05 332.5,150.02 333,150.01 333.5,150 334,150 334.5,150 335,150 335.5,150 336,150 336.5,150 337,150 337.5,150 338,150 338.5,150 339,150 339.5,150 340,150 340.5,150 341,150 341.5,150 342,150 342.5,150 343,150 343.5,150 344,150 344.5,150 345,150 345.5,150 346,150 346.5,150 347,150 347.5,150 348,150 348.5,150 349,150 349.5,150 350,150 350.5,150 351,150 351.5,150 352,150 352.5,150 353,150 353.5,150 354,150 354.5,150 355,150 355.5,150 356,150 356.5,150 357,150 357.5,150 358,150 358.5,150 359,150 359.5,150 360,150 360.5,150 361,150 361.5,150 362,150 362.5,150 363,150 363.5,150 364,150 364.5,150 365,150 365.5,150 366,150 366.5,150 367,150 367.5,150 368,150 368.5,150 369,150 369.5,150 370,150 370.5,150 371,150 371.5,150 372,150 372.5,150 373,150 373.5,150 374,150 374.5,150.01 375,150.01 375.5,150.02 376,150.03 376.5,150.05 377,150.07 377.5,150.11 378,150.17 378.5,150.25 379,150.36 379.5,150.5 380,150.68 380.5,150.91 381,151.19 381.5,151.52 382,151.89 382.5,152.31 383,152.77 383.5,153.25 384,153.75 384.5,154.25 385,154.73 385.5,155.19 386,155.61 386.5,155.98 387,156.31 387.5,156.59 388,156.82 388.5,157 389,157.14 389.5,157.25 390,157.33 390.5,157.39 391,157.43 391.5,157.45 392,157.47 392.5,157.48 393,157.49 393.5,157.49 394,157.5 394.5,157.5 395,157.5 395.5,157.5 396,157.5 396.5,157.5 397,157.5 397.5,157.5 398,157.5 398.5,157.5 399,157.5 399.5,157.5 400,157.5 400.5,157.5 401,157.5 401.5,157.5 402,157.5 402.5,157.5 403,157.5 403.5,157.5 404,157.5 404.5,157.5 405,157.5 405.5,157.5 406,157.5 406.5,157.5 407,157.5 407.5,157.5 408,157.5 408.5,157.5 409,157.5 409.5,157.5 410,157.5 410.5,157.5 411,157.5 411.5,157.5 412,157.5 412.5,157.5 413,157.5 413.5,157.5 414,157.5 414.5,157.5 415,157.5 415.5,157.5 416,157.5 416.5,157.5 417,157.5 417.5,157.5 418,157.5 418.5,157.5 419,157.5 419.5,157.5 420,157.5 420.5,157.5 421,157.5 421.5,157.5 422,157.5 422.5,157.5 423,157.5 423.5,157.5 424,157.5 424.5,157.5 425,157.5 L425,157.5 Z" fill="url(#hatch)"/>
<path d="M315.6,157.69 316.2,157.56 316.8,157.41 317.4,157.2 318,156.92 318.6,156.53 319.2,155.98 319.8,155.2 320.4,154.08 321,152.47 321.6,150.19 322.2,147.01 322.8,142.69 323.4,136.99 324,129.69 324.6,120.67 325.2,109.95 325.8,97.71 326.4,84.37 327,70.54 327.6,57 328.2,44.63 328.8,34.29 329.4,26.73 330,22.55 330.6,22.1 331.2,25.47 331.8,32.44 332.4,42.44 333,54.62 333.6,67.99 334.2,81.57 334.8,94.52 335.4,106.21 336,116.23 336.6,124.37 337.2,130.59 337.8,135.07 338.4,138.17 339,140.4 339.6,142.26 340.2,143.78 340.8,144.98 341.4,145.99 342,146.85 342.6,147.61 343.2,148.27 343.8,148.83 344.4,149.29 345,149.67 345.6,149.96 346.2,150.18 346.8,150.33 347.4,150.45 348,150.52 348.6,150.57 349.2,150.61 349.8,150.63 350.4,150.65 351,150.66 351.6,150.67 352.2,150.67 352.8,150.67 353.4,150.68 354,150.68 354.6,150.68 355.2,150.68 355.8,150.68 356.4,150.68 357,150.68 357.6,150.68 358.2,150.68 358.8,150.68 359.4,150.68 360,150.68 360.6,150.68 361.2,150.68 361.8,150.68 362.4,150.68 363,150.68 363.6,150.68 364.2,150.68 364.8,150.68 365.4,150.68 366,150.68 366.6,150.68 367.2,150.68 367.8,150.67 368.4,150.67 369,150.67 369.6,150.66 370.2,150.66 370.8,150.65 371.4,150.64 372,150.62 372.6,150.6 373.2,150.56 373.8,150.52 374.4,150.47 375,150.4 375.6,150.32 376.2,150.21 376.8,150.09 377.4,149.94 378,149.77 378.6,149.59 379.2,149.38 379.8,149.17 380.4,148.94 381,148.7 381.6,148.45 382.2,148.17 382.8,147.87 383.4,147.53 384,147.12 384.6,146.65 385.2,146.1 385.8,145.46 386.4,144.75 387,143.98 387.6,143.17 388.2,142.36 388.8,141.59 389.4,140.88 390,140.29 390.6,139.83 391.2,139.55 391.8,139.45 392.4,139.59 393,140.11 393.6,140.98 394.2,142.09 394.8,143.35 395.4,144.67 396,145.97 396.6,147.21 397.2,148.36 397.8,149.42 398.4,150.4 399,151.3 399.6,152.14 400.2,152.91 400.8,153.62 401.4,154.27 402,154.85 402.6,155.37 403.2,155.83 403.8,156.24 404.4,156.58 405,156.88 405.6,157.12 406.2,157.33 406.8,157.49 407.4,157.63" fill="none" stroke="#9a9a9a" stroke-width="0.7"/>
<path d="M300,157.5 300.6,157.5 301.2,157.5 301.8,157.5 302.4,157.5 303,157.5 303.6,157.5 304.2,157.5 304.8,157.5 305.4,157.5 306,157.5 306.6,157.5 307.2,157.49 307.8,157.49 308.4,157.49 309,157.48 309.6,157.48 310.2,157.47 310.8,157.46 311.4,157.44 312,157.42 312.6,157.39 313.2,157.36 313.8,157.31 314.4,157.25 315,157.17 315.6,157.07 316.2,156.95 316.8,156.78 317.4,156.57 318,156.28 318.6,155.88 319.2,155.32 319.8,154.51 320.4,153.36 321,151.7 321.6,149.34 322.2,146.07 322.8,141.62 323.4,135.74 324,128.21 324.6,118.92 325.2,107.86 325.8,95.24 326.4,81.49 327,67.22 327.6,53.24 328.2,40.3 328.8,28.97 329.4,19.75 330,13.86 330.6,13.1 331.2,17.87 331.8,26.67 332.4,37.9 333,50.75 333.6,64.6 334.2,78.6 334.8,91.96 335.4,104.01 336,114.34 336.6,122.72 337.2,129.14 337.8,133.76 338.4,136.55 339,138.24 339.6,140.09 340.2,142.15 340.8,143.83 341.4,145.18 342,146.38 342.6,147.49 343.2,148.5 343.8,148.6 344.4,148.61 345,148.66 345.6,148.65 346.2,148.71 346.8,148.76 347.4,149.18 348,149.97 348.6,150.63 349.2,151.07 349.8,151.33 350.4,150.72 351,150.1 351.6,149.41 352.2,148.72 352.8,148.72 353.4,148.84 354,149.68 354.6,150.86 355.2,151.13 355.8,150.48 356.4,149.75 357,148.86 357.6,148.24 358.2,149.01 358.8,149.77 359.4,149.27 360,148.77 360.6,148.89 361.2,149.14 361.8,149.26 362.4,149.33 363,149.31 363.6,149.21 364.2,149.33 364.8,149.92 365.4,150.36 366,150.07 366.6,149.78 367.2,149.54 367.8,149.3 368.4,149.64 369,150.1 369.6,150.37 370.2,150.56 370.8,150.08 371.4,148.92 372,148.36 372.6,148.97 373.2,149.42 373.8,149.04 374.4,148.65 375,148.96 375.6,149.24 376.2,148.77 376.8,148.12 377.4,148.2 378,148.63 378.6,148.73 379.2,148.5 379.8,148.21 380.4,147.85 381,147.45 381.6,146.84 382.2,146.22 382.8,146.21 383.4,146.15 384,145.52 384.6,144.71 385.2,143.95 385.8,143.18 386.4,142.75 387,142.68 387.6,142.09 388.2,140.12 388.8,137.7 389.4,138.42 390,140.03 390.6,139.62 391.2,139.12 391.8,137.92 392.4,136.36 393,135.11 393.6,136.36 394.2,139.98 394.8,141.55 395.4,142.73 396,144.59 396.6,146.3 397.2,147.49 397.8,148.59 398.4,149.58 399,150.49 399.6,151.35 400.2,152.15 400.8,152.88 401.4,153.55 402,154.15 402.6,154.69 403.2,155.16 403.8,155.58 404.4,155.93 405,156.24 405.6,156.49 406.2,156.7 406.8,156.88 407.4,157.02 408,157.13 408.6,157.22 409.2,157.29 409.8,157.34 410.4,157.38 411,157.42 411.6,157.44 412.2,157.46 412.8,157.47 413.4,157.48 414,157.48 414.6,157.49 415.2,157.49 415.8,157.5 416.4,157.5 417,157.5 417.6,157.5 418.2,157.5 418.8,157.5 419.4,157.5 420,157.5 420.6,157.5 421.2,157.5 421.8,157.5 422.4,157.5 423,157.5 423.6,157.5 424.2,157.5 424.8,157.5" fill="none" stroke="#1a1a1a" stroke-width="0.85"/>
<path d="M300,157.5 L300,157.5 300.5,157.5 301,157.5 301.5,157.5 302,157.5 302.5,157.5 303,157.5 303.5,157.5 304,157.5 304.5,157.5 305,157.5 305.5,157.5 306,157.5 306.5,157.5 307,157.49 307.5,157.49 308,157.49 308.5,157.49 309,157.48 309.5,157.48 310,157.47 310.5,157.46 311,157.45 311.5,157.43 312,157.41 312.5,157.39 313,157.36 313.5,157.32 314,157.27 314.5,157.21 315,157.14 315.5,157.05 316,156.95 316.5,156.81 317,156.65 317.5,156.44 318,156.16 318.5,155.8 319,155.32 319.5,154.67 320,153.79 320.5,152.6 321,151 321.5,148.87 322,146.07 322.5,142.45 323,137.87 323.5,132.19 324,125.31 324.5,117.19 325,107.86 325.5,97.44 326,86.17 326.5,74.4 327,62.56 327.5,51.19 328,40.84 328.5,32.07 329,25.4 329.5,21.22 330,19.8 330.5,21.22 331,25.4 331.5,32.07 332,40.84 332.5,51.19 333,62.56 333.5,74.4 334,86.17 334.5,97.44 335,107.86 335.5,117.19 336,125.31 336.5,132.19 337,137.87 337.5,142.45 338,146.07 338.5,148.87 339,151 339.5,152.6 340,153.79 340.5,154.67 341,155.32 341.5,155.8 342,156.16 342.5,156.44 343,156.65 343.5,156.81 344,156.95 344.5,157.05 345,157.14 345.5,157.21 346,157.27 346.5,157.32 347,157.36 347.5,157.39 348,157.41 348.5,157.43 349,157.45 349.5,157.46 350,157.47 350.5,157.48 351,157.48 351.5,157.49 352,157.49 352.5,157.49 353,157.49 353.5,157.5 354,157.5 354.5,157.5 355,157.5 355.5,157.5 356,157.5 356.5,157.5 357,157.5 357.5,157.5 358,157.5 358.5,157.5 359,157.5 359.5,157.5 360,157.5 360.5,157.5 361,157.5 361.5,157.5 362,157.5 362.5,157.5 363,157.5 363.5,157.5 364,157.5 364.5,157.5 365,157.5 365.5,157.5 366,157.5 366.5,157.5 367,157.5 367.5,157.5 368,157.5 368.5,157.5 369,157.5 369.5,157.5 370,157.5 370.5,157.5 371,157.5 371.5,157.5 372,157.5 372.5,157.5 373,157.5 373.5,157.5 374,157.5 374.5,157.5 375,157.5 375.5,157.5 376,157.5 376.5,157.5 377,157.5 377.5,157.5 378,157.5 378.5,157.5 379,157.5 379.5,157.5 380,157.5 380.5,157.5 381,157.5 381.5,157.5 382,157.5 382.5,157.5 383,157.5 383.5,157.5 384,157.5 384.5,157.5 385,157.5 385.5,157.5 386,157.5 386.5,157.5 387,157.5 387.5,157.5 388,157.5 388.5,157.5 389,157.5 389.5,157.5 390,157.5 390.5,157.5 391,157.5 391.5,157.5 392,157.5 392.5,157.5 393,157.5 393.5,157.5 394,157.5 394.5,157.5 395,157.5 395.5,157.5 396,157.5 396.5,157.5 397,157.5 397.5,157.5 398,157.5 398.5,157.5 399,157.5 399.5,157.5 400,157.5 400.5,157.5 401,157.5 401.5,157.5 402,157.5 402.5,157.5 403,157.5 403.5,157.5 404,157.5 404.5,157.5 405,157.5 405.5,157.5 406,157.5 406.5,157.5 407,157.5 407.5,157.5 408,157.5 408.5,157.5 409,157.5 409.5,157.5 410,157.5 410.5,157.5 411,157.5 411.5,157.5 412,157.5 412.5,157.5 413,157.5 413.5,157.5 414,157.5 414.5,157.5 415,157.5 415.5,157.5 416,157.5 416.5,157.5 417,157.5 417.5,157.5 418,157.5 418.5,157.5 419,157.5 419.5,157.5 420,157.5 420.5,157.5 421,157.5 421.5,157.5 422,157.5 422.5,157.5 423,157.5 423.5,157.5 424,157.5 424.5,157.5 425,157.5 L425,157.5 Z" fill="#ff0000"/>
<path d="M300,157.5 L300,157.5 300.5,157.5 301,157.5 301.5,157.5 302,157.5 302.5,157.5 303,157.5 303.5,157.5 304,157.5 304.5,157.5 305,157.5 305.5,157.5 306,157.5 306.5,157.5 307,157.5 307.5,157.5 308,157.5 308.5,157.5 309,157.5 309.5,157.5 310,157.5 310.5,157.5 311,157.5 311.5,157.5 312,157.5 312.5,157.5 313,157.5 313.5,157.5 314,157.5 314.5,157.5 315,157.5 315.5,157.5 316,157.5 316.5,157.5 317,157.5 317.5,157.5 318,157.5 318.5,157.5 319,157.5 319.5,157.5 320,157.5 320.5,157.5 321,157.5 321.5,157.5 322,157.5 322.5,157.5 323,157.5 323.5,157.5 324,157.5 324.5,157.5 325,157.5 325.5,157.5 326,157.5 326.5,157.5 327,157.5 327.5,157.5 328,157.5 328.5,157.5 329,157.5 329.5,157.5 330,157.5 330.5,157.5 331,157.5 331.5,157.5 332,157.5 332.5,157.5 333,157.5 333.5,157.5 334,157.5 334.5,157.5 335,157.5 335.5,157.5 336,157.5 336.5,157.5 337,157.5 337.5,157.5 338,157.5 338.5,157.5 339,157.5 339.5,157.5 340,157.5 340.5,157.5 341,157.5 341.5,157.5 342,157.5 342.5,157.5 343,157.5 343.5,157.5 344,157.5 344.5,157.5 345,157.5 345.5,157.5 346,157.5 346.5,157.5 347,157.5 347.5,157.5 348,157.5 348.5,157.5 349,157.5 349.5,157.5 350,157.5 350.5,157.5 351,157.5 351.5,157.5 352,157.5 352.5,157.5 353,157.5 353.5,157.5 354,157.5 354.5,157.5 355,157.5 355.5,157.5 356,157.5 356.5,157.5 357,157.5 357.5,157.5 358,157.5 358.5,157.5 359,157.5 359.5,157.5 360,157.5 360.5,157.5 361,157.5 361.5,157.5 362,157.5 362.5,157.5 363,157.5 363.5,157.5 364,157.5 364.5,157.5 365,157.5 365.5,157.5 366,157.5 366.5,157.5 367,157.5 367.5,157.5 368,157.49 368.5,157.49 369,157.49 369.5,157.49 370,157.48 370.5,157.47 371,157.47 371.5,157.45 372,157.44 372.5,157.42 373,157.4 373.5,157.36 374,157.33 374.5,157.28 375,157.22 375.5,157.15 376,157.06 376.5,156.95 377,156.82 377.5,156.67 378,156.49 378.5,156.28 379,156.04 379.5,155.76 380,155.45 380.5,155.09 381,154.69 381.5,154.25 382,153.76 382.5,153.23 383,152.66 383.5,152.05 384,151.4 384.5,150.73 385,150.03 385.5,149.32 386,148.6 386.5,147.89 387,147.19 387.5,146.52 388,145.88 388.5,145.29 389,144.77 389.5,144.31 390,143.92 390.5,143.63 391,143.43 391.5,143.32 392,143.31 392.5,143.4 393,143.58 393.5,143.86 394,144.22 394.5,144.67 395,145.18 395.5,145.76 396,146.39 396.5,147.05 397,147.75 397.5,148.46 398,149.17 398.5,149.89 399,150.59 399.5,151.27 400,151.92 400.5,152.54 401,153.12 401.5,153.66 402,154.15 402.5,154.6 403,155.01 403.5,155.38 404,155.7 404.5,155.99 405,156.24 405.5,156.45 406,156.64 406.5,156.79 407,156.93 407.5,157.04 408,157.13 408.5,157.2 409,157.27 409.5,157.32 410,157.36 410.5,157.39 411,157.42 411.5,157.44 412,157.45 412.5,157.46 413,157.47 413.5,157.48 414,157.48 414.5,157.49 415,157.49 415.5,157.49 416,157.5 416.5,157.5 417,157.5 417.5,157.5 418,157.5 418.5,157.5 419,157.5 419.5,157.5 420,157.5 420.5,157.5 421,157.5 421.5,157.5 422,157.5 422.5,157.5 423,157.5 423.5,157.5 424,157.5 424.5,157.5 425,157.5 L425,157.5 Z" fill="#f00010"/>
<g clip-path="url(#csb)"><path d="M300,157.5 L300,157.5 300.5,157.5 301,157.5 301.5,157.5 302,157.5 302.5,157.5 303,157.5 303.5,157.5 304,157.5 304.5,157.5 305,157.5 305.5,157.5 306,157.5 306.5,157.5 307,157.49 307.5,157.49 308,157.49 308.5,157.49 309,157.48 309.5,157.48 310,157.47 310.5,157.46 311,157.45 311.5,157.43 312,157.41 312.5,157.39 313,157.36 313.5,157.32 314,157.27 314.5,157.21 315,157.14 315.5,157.05 316,156.95 316.5,156.81 317,156.65 317.5,156.44 318,156.16 318.5,155.8 319,155.32 319.5,154.67 320,153.79 320.5,152.6 321,151 321.5,148.87 322,146.07 322.5,142.45 323,137.87 323.5,132.19 324,125.31 324.5,117.19 325,107.86 325.5,97.44 326,86.17 326.5,74.4 327,62.56 327.5,51.19 328,40.84 328.5,32.07 329,25.4 329.5,21.22 330,19.8 330.5,21.22 331,25.4 331.5,32.07 332,40.84 332.5,51.19 333,62.56 333.5,74.4 334,86.17 334.5,97.44 335,107.86 335.5,117.19 336,125.31 336.5,132.19 337,137.87 337.5,142.45 338,146.07 338.5,148.87 339,151 339.5,152.6 340,153.79 340.5,154.67 341,155.32 341.5,155.8 342,156.16 342.5,156.44 343,156.65 343.5,156.81 344,156.95 344.5,157.05 345,157.14 345.5,157.21 346,157.27 346.5,157.32 347,157.36 347.5,157.39 348,157.41 348.5,157.43 349,157.45 349.5,157.46 350,157.47 350.5,157.48 351,157.48 351.5,157.49 352,157.49 352.5,157.49 353,157.49 353.5,157.5 354,157.5 354.5,157.5 355,157.5 355.5,157.5 356,157.5 356.5,157.5 357,157.5 357.5,157.5 358,157.5 358.5,157.5 359,157.5 359.5,157.5 360,157.5 360.5,157.5 361,157.5 361.5,157.5 362,157.5 362.5,157.5 363,157.5 363.5,157.5 364,157.5 364.5,157.5 365,157.5 365.5,157.5 366,157.5 366.5,157.5 367,157.5 367.5,157.5 368,157.5 368.5,157.5 369,157.5 369.5,157.5 370,157.5 370.5,157.5 371,157.5 371.5,157.5 372,157.5 372.5,157.5 373,157.5 373.5,157.5 374,157.5 374.5,157.5 375,157.5 375.5,157.5 376,157.5 376.5,157.5 377,157.5 377.5,157.5 378,157.5 378.5,157.5 379,157.5 379.5,157.5 380,157.5 380.5,157.5 381,157.5 381.5,157.5 382,157.5 382.5,157.5 383,157.5 383.5,157.5 384,157.5 384.5,157.5 385,157.5 385.5,157.5 386,157.5 386.5,157.5 387,157.5 387.5,157.5 388,157.5 388.5,157.5 389,157.5 389.5,157.5 390,157.5 390.5,157.5 391,157.5 391.5,157.5 392,157.5 392.5,157.5 393,157.5 393.5,157.5 394,157.5 394.5,157.5 395,157.5 395.5,157.5 396,157.5 396.5,157.5 397,157.5 397.5,157.5 398,157.5 398.5,157.5 399,157.5 399.5,157.5 400,157.5 400.5,157.5 401,157.5 401.5,157.5 402,157.5 402.5,157.5 403,157.5 403.5,157.5 404,157.5 404.5,157.5 405,157.5 405.5,157.5 406,157.5 406.5,157.5 407,157.5 407.5,157.5 408,157.5 408.5,157.5 409,157.5 409.5,157.5 410,157.5 410.5,157.5 411,157.5 411.5,157.5 412,157.5 412.5,157.5 413,157.5 413.5,157.5 414,157.5 414.5,157.5 415,157.5 415.5,157.5 416,157.5 416.5,157.5 417,157.5 417.5,157.5 418,157.5 418.5,157.5 419,157.5 419.5,157.5 420,157.5 420.5,157.5 421,157.5 421.5,157.5 422,157.5 422.5,157.5 423,157.5 423.5,157.5 424,157.5 424.5,157.5 425,157.5 L425,157.5 Z" fill="#d4143c"/><path d="M300,157.5 L300,157.5 300.5,157.5 301,157.5 301.5,157.5 302,157.5 302.5,157.5 303,157.5 303.5,157.5 304,157.5 304.5,157.5 305,157.5 305.5,157.5 306,157.5 306.5,157.5 307,157.5 307.5,157.5 308,157.5 308.5,157.5 309,157.5 309.5,157.5 310,157.5 310.5,157.5 311,157.5 311.5,157.5 312,157.5 312.5,157.5 313,157.5 313.5,157.5 314,157.5 314.5,157.5 315,157.5 315.5,157.5 316,157.5 316.5,157.5 317,157.5 317.5,157.5 318,157.5 318.5,157.5 319,157.5 319.5,157.5 320,157.5 320.5,157.5 321,157.5 321.5,157.5 322,157.5 322.5,157.5 323,157.5 323.5,157.5 324,157.5 324.5,157.5 325,157.5 325.5,157.5 326,157.5 326.5,157.5 327,157.5 327.5,157.5 328,157.5 328.5,157.5 329,157.5 329.5,157.5 330,157.5 330.5,157.5 331,157.5 331.5,157.5 332,157.5 332.5,157.5 333,157.5 333.5,157.5 334,157.5 334.5,157.5 335,157.5 335.5,157.5 336,157.5 336.5,157.5 337,157.5 337.5,157.5 338,157.5 338.5,157.5 339,157.5 339.5,157.5 340,157.5 340.5,157.5 341,157.5 341.5,157.5 342,157.5 342.5,157.5 343,157.5 343.5,157.5 344,157.5 344.5,157.5 345,157.5 345.5,157.5 346,157.5 346.5,157.5 347,157.5 347.5,157.5 348,157.5 348.5,157.5 349,157.5 349.5,157.5 350,157.5 350.5,157.5 351,157.5 351.5,157.5 352,157.5 352.5,157.5 353,157.5 353.5,157.5 354,157.5 354.5,157.5 355,157.5 355.5,157.5 356,157.5 356.5,157.5 357,157.5 357.5,157.5 358,157.5 358.5,157.5 359,157.5 359.5,157.5 360,157.5 360.5,157.5 361,157.5 361.5,157.5 362,157.5 362.5,157.5 363,157.5 363.5,157.5 364,157.5 364.5,157.5 365,157.5 365.5,157.5 366,157.5 366.5,157.5 367,157.5 367.5,157.5 368,157.49 368.5,157.49 369,157.49 369.5,157.49 370,157.48 370.5,157.47 371,157.47 371.5,157.45 372,157.44 372.5,157.42 373,157.4 373.5,157.36 374,157.33 374.5,157.28 375,157.22 375.5,157.15 376,157.06 376.5,156.95 377,156.82 377.5,156.67 378,156.49 378.5,156.28 379,156.04 379.5,155.76 380,155.45 380.5,155.09 381,154.69 381.5,154.25 382,153.76 382.5,153.23 383,152.66 383.5,152.05 384,151.4 384.5,150.73 385,150.03 385.5,149.32 386,148.6 386.5,147.89 387,147.19 387.5,146.52 388,145.88 388.5,145.29 389,144.77 389.5,144.31 390,143.92 390.5,143.63 391,143.43 391.5,143.32 392,143.31 392.5,143.4 393,143.58 393.5,143.86 394,144.22 394.5,144.67 395,145.18 395.5,145.76 396,146.39 396.5,147.05 397,147.75 397.5,148.46 398,149.17 398.5,149.89 399,150.59 399.5,151.27 400,151.92 400.5,152.54 401,153.12 401.5,153.66 402,154.15 402.5,154.6 403,155.01 403.5,155.38 404,155.7 404.5,155.99 405,156.24 405.5,156.45 406,156.64 406.5,156.79 407,156.93 407.5,157.04 408,157.13 408.5,157.2 409,157.27 409.5,157.32 410,157.36 410.5,157.39 411,157.42 411.5,157.44 412,157.45 412.5,157.46 413,157.47 413.5,157.48 414,157.48 414.5,157.49 415,157.49 415.5,157.49 416,157.5 416.5,157.5 417,157.5 417.5,157.5 418,157.5 418.5,157.5 419,157.5 419.5,157.5 420,157.5 420.5,157.5 421,157.5 421.5,157.5 422,157.5 422.5,157.5 423,157.5 423.5,157.5 424,157.5 424.5,157.5 425,157.5 L425,157.5 Z" fill="#d4143c"/></g>
<g stroke="#3a3a3a" stroke-width="1" fill="none">
<line x1="260.2" y1="13" x2="260.2" y2="157.5"/>
<line x1="256.5" y1="157.5" x2="427" y2="157.5"/>
<line x1="255.9" y1="157.5" x2="260.2" y2="157.5"/>
<line x1="257.4" y1="151.66" x2="260.2" y2="151.66"/>
<line x1="257.4" y1="145.82" x2="260.2" y2="145.82"/>
<line x1="257.4" y1="139.98" x2="260.2" y2="139.98"/>
<line x1="257.4" y1="134.14" x2="260.2" y2="134.14"/>
<line x1="255.9" y1="128.3" x2="260.2" y2="128.3"/>
<line x1="257.4" y1="122.46" x2="260.2" y2="122.46"/>
<line x1="257.4" y1="116.62" x2="260.2" y2="116.62"/>
<line x1="257.4" y1="110.78" x2="260.2" y2="110.78"/>
<line x1="257.4" y1="104.94" x2="260.2" y2="104.94"/>
<line x1="255.9" y1="99.1" x2="260.2" y2="99.1"/>
<line x1="257.4" y1="93.26" x2="260.2" y2="93.26"/>
<line x1="257.4" y1="87.42" x2="260.2" y2="87.42"/>
<line x1="257.4" y1="81.58" x2="260.2" y2="81.58"/>
<line x1="257.4" y1="75.74" x2="260.2" y2="75.74"/>
<line x1="255.9" y1="69.9" x2="260.2" y2="69.9"/>
<line x1="257.4" y1="64.06" x2="260.2" y2="64.06"/>
<line x1="257.4" y1="58.22" x2="260.2" y2="58.22"/>
<line x1="257.4" y1="52.38" x2="260.2" y2="52.38"/>
<line x1="257.4" y1="46.54" x2="260.2" y2="46.54"/>
<line x1="255.9" y1="40.7" x2="260.2" y2="40.7"/>
<line x1="257.4" y1="34.86" x2="260.2" y2="34.86"/>
<line x1="257.4" y1="29.02" x2="260.2" y2="29.02"/>
<line x1="257.4" y1="23.18" x2="260.2" y2="23.18"/>
<line x1="257.4" y1="17.34" x2="260.2" y2="17.34"/>
<line x1="260.2" y1="157.5" x2="260.2" y2="162.2"/>
<line x1="266.86" y1="157.5" x2="266.86" y2="160.4"/>
<line x1="273.52" y1="157.5" x2="273.52" y2="160.4"/>
<line x1="280.18" y1="157.5" x2="280.18" y2="160.4"/>
<line x1="286.84" y1="157.5" x2="286.84" y2="160.4"/>
<line x1="293.5" y1="157.5" x2="293.5" y2="162.2"/>
<line x1="300.16" y1="157.5" x2="300.16" y2="160.4"/>
<line x1="306.82" y1="157.5" x2="306.82" y2="160.4"/>
<line x1="313.48" y1="157.5" x2="313.48" y2="160.4"/>
<line x1="320.14" y1="157.5" x2="320.14" y2="160.4"/>
<line x1="326.8" y1="157.5" x2="326.8" y2="162.2"/>
<line x1="333.46" y1="157.5" x2="333.46" y2="160.4"/>
<line x1="340.12" y1="157.5" x2="340.12" y2="160.4"/>
<line x1="346.78" y1="157.5" x2="346.78" y2="160.4"/>
<line x1="353.44" y1="157.5" x2="353.44" y2="160.4"/>
<line x1="360.1" y1="157.5" x2="360.1" y2="162.2"/>
<line x1="366.76" y1="157.5" x2="366.76" y2="160.4"/>
<line x1="373.42" y1="157.5" x2="373.42" y2="160.4"/>
<line x1="380.08" y1="157.5" x2="380.08" y2="160.4"/>
<line x1="386.74" y1="157.5" x2="386.74" y2="160.4"/>
<line x1="393.4" y1="157.5" x2="393.4" y2="162.2"/>
<line x1="400.06" y1="157.5" x2="400.06" y2="160.4"/>
<line x1="406.72" y1="157.5" x2="406.72" y2="160.4"/>
<line x1="413.38" y1="157.5" x2="413.38" y2="160.4"/>
<line x1="420.04" y1="157.5" x2="420.04" y2="160.4"/>
<line x1="426.7" y1="157.5" x2="426.7" y2="162.2"/>
</g>
<g font-family='"Liberation Sans", sans-serif' font-size="10" fill="#222" stroke="#222" stroke-width="0.22">
<text transform="translate(254.3,130.6) scale(1,1)" text-anchor="end">200</text>
<text transform="translate(254.3,101.4) scale(1,1)" text-anchor="end">400</text>
<text transform="translate(254.3,72.2) scale(1,1)" text-anchor="end">600</text>
<text transform="translate(254.3,43) scale(1,1)" text-anchor="end">800</text>
<text transform="translate(293.5,171.4) scale(1,1)" text-anchor="middle">30</text>
<text transform="translate(326.8,171.4) scale(1,1)" text-anchor="middle">60</text>
<text transform="translate(360.1,171.4) scale(1,1)" text-anchor="middle">90</text>
<text transform="translate(393.4,171.4) scale(1,1)" text-anchor="middle">120</text>
<text transform="translate(426.7,171.4) scale(1,1)" text-anchor="middle">150</text>
</g>
<text x="355.3" y="181.5" font-family='"Liberation Sans", sans-serif' font-size="10" fill="#222" stroke="#222" stroke-width="0.22" text-anchor="middle">Channels(FL3-H)</text>
<text transform="translate(230.4,84) rotate(-90)" font-family='"Liberation Sans", sans-serif' font-size="10" fill="#222" stroke="#222" stroke-width="0.22" text-anchor="middle" dominant-baseline="central">Number</text>
<path d="M330,158.3 L327.4,162.9 L332.6,162.9 Z" fill="#111"/>
<path d="M393.8,158.3 L391.2,162.9 L396.4,162.9 Z" fill="#111"/>
<text x="240.5" y="11.5" font-family='"Liberation Sans", sans-serif' font-size="12.9" font-weight="bold" fill="#111">b</text>
<text x="266" y="15.8" font-family='"Liberation Sans", sans-serif' font-size="10.1" font-weight="bold" fill="#111">UTP</text>
<rect x="380.9" y="16.9" width="11.1" height="6.7" fill="#ff0000" stroke="none" stroke-width="0.6"/>
<text x="396.5" y="23.13" font-family='"Liberation Sans", sans-serif' font-size="6.9" fill="#2626dc" stroke="#2626dc" stroke-width="0.28">Dip G1</text>
<rect x="380.9" y="24.6" width="11.1" height="6.6" fill="#ff0000" stroke="none" stroke-width="0.6"/>
<text x="396.5" y="30.78" font-family='"Liberation Sans", sans-serif' font-size="6.9" fill="#2626dc" stroke="#2626dc" stroke-width="0.28">Dip G2</text>
<rect x="380.9" y="32.4" width="11.1" height="6.9" fill="url(#hatch2)" stroke="#666" stroke-width="0.6"/>
<text x="396.5" y="38.73" font-family='"Liberation Sans", sans-serif' font-size="6.9" fill="#2626dc" stroke="#2626dc" stroke-width="0.28">Dip S</text>
<text x="338" y="65.04" font-family='"Liberation Sans", sans-serif' font-size="7.6" fill="#2626dc" stroke="#2626dc" stroke-width="0.28">Diploid: 100.00 %</text>
<text x="344.9" y="73.54" font-family='"Liberation Sans", sans-serif' font-size="7.6" fill="#2626dc" stroke="#2626dc" stroke-width="0.28">Dip G1: 60.72 % at 62.69</text>
<text x="344.9" y="81.54" font-family='"Liberation Sans", sans-serif' font-size="7.6" fill="#2626dc" stroke="#2626dc" stroke-width="0.28">Dip G2: 11.91 % at 118.48</text>
<text x="344.9" y="90.34" font-family='"Liberation Sans", sans-serif' font-size="7.6" fill="#2626dc" stroke="#2626dc" stroke-width="0.28">Dip S: 27.36 %</text>
<text x="442.4" y="90.34" font-family='"Liberation Sans", sans-serif' font-size="7.6" fill="#2626dc" stroke="#2626dc" stroke-width="0.28" text-anchor="end">G2/G1: 1.89</text>
<text x="344.9" y="98.74" font-family='"Liberation Sans", sans-serif' font-size="7.6" fill="#2626dc" stroke="#2626dc" stroke-width="0.28">%CV: 4.59</text>
<defs><clipPath id="csc"><path d="M520,157.6 L520,157.6 520.5,157.6 521,157.6 521.5,157.6 522,157.6 522.5,157.6 523,157.6 523.5,157.6 524,157.6 524.5,157.6 525,157.6 525.5,157.6 526,157.6 526.5,157.6 527,157.6 527.5,157.6 528,157.6 528.5,157.6 529,157.6 529.5,157.6 530,157.6 530.5,157.6 531,157.6 531.5,157.6 532,157.6 532.5,157.6 533,157.6 533.5,157.6 534,157.6 534.5,157.6 535,157.6 535.5,157.6 536,157.6 536.5,157.6 537,157.6 537.5,157.6 538,157.6 538.5,157.6 539,157.6 539.5,157.6 540,157.6 540.5,157.6 541,157.59 541.5,157.58 542,157.56 542.5,157.52 543,157.44 543.5,157.29 544,157.06 544.5,156.7 545,156.2 545.5,155.55 546,154.78 546.5,153.91 547,153.01 547.5,152.16 548,151.4 548.5,150.79 549,150.32 549.5,149.99 550,149.77 550.5,149.64 551,149.57 551.5,149.53 552,149.51 552.5,149.51 553,149.5 553.5,149.5 554,149.5 554.5,149.5 555,149.5 555.5,149.5 556,149.5 556.5,149.5 557,149.5 557.5,149.5 558,149.5 558.5,149.5 559,149.5 559.5,149.5 560,149.5 560.5,149.5 561,149.5 561.5,149.5 562,149.5 562.5,149.5 563,149.5 563.5,149.5 564,149.5 564.5,149.5 565,149.5 565.5,149.5 566,149.5 566.5,149.5 567,149.5 567.5,149.5 568,149.5 568.5,149.5 569,149.5 569.5,149.5 570,149.5 570.5,149.5 571,149.5 571.5,149.5 572,149.5 572.5,149.5 573,149.5 573.5,149.5 574,149.5 574.5,149.5 575,149.5 575.5,149.5 576,149.5 576.5,149.5 577,149.5 577.5,149.5 578,149.5 578.5,149.5 579,149.5 579.5,149.5 580,149.5 580.5,149.5 581,149.5 581.5,149.51 582,149.51 582.5,149.52 583,149.52 583.5,149.54 584,149.55 584.5,149.57 585,149.6 585.5,149.64 586,149.68 586.5,149.75 587,149.82 587.5,149.92 588,150.04 588.5,150.18 589,150.36 589.5,150.56 590,150.79 590.5,151.05 591,151.34 591.5,151.65 592,152 592.5,152.37 593,152.75 593.5,153.15 594,153.55 594.5,153.95 595,154.35 595.5,154.73 596,155.1 596.5,155.45 597,155.76 597.5,156.05 598,156.31 598.5,156.54 599,156.74 599.5,156.92 600,157.06 600.5,157.18 601,157.28 601.5,157.35 602,157.42 602.5,157.46 603,157.5 603.5,157.53 604,157.55 604.5,157.56 605,157.58 605.5,157.58 606,157.59 606.5,157.59 607,157.6 607.5,157.6 608,157.6 608.5,157.6 609,157.6 609.5,157.6 610,157.6 610.5,157.6 611,157.6 611.5,157.6 612,157.6 612.5,157.6 613,157.6 613.5,157.6 614,157.6 614.5,157.6 615,157.6 615.5,157.6 616,157.6 616.5,157.6 617,157.6 617.5,157.6 618,157.6 618.5,157.6 619,157.6 619.5,157.6 620,157.6 620.5,157.6 621,157.6 621.5,157.6 622,157.6 622.5,157.6 623,157.6 623.5,157.6 624,157.6 624.5,157.6 625,157.6 625.5,157.6 626,157.6 626.5,157.6 627,157.6 627.5,157.6 628,157.6 628.5,157.6 629,157.6 629.5,157.6 630,157.6 630.5,157.6 631,157.6 631.5,157.6 632,157.6 632.5,157.6 633,157.6 633.5,157.6 634,157.6 634.5,157.6 635,157.6 635.5,157.6 636,157.6 636.5,157.6 637,157.6 637.5,157.6 638,157.6 638.5,157.6 639,157.6 639.5,157.6 640,157.6 L640,157.6 Z"/></clipPath></defs>
<path d="M520,157.6 L520,157.6 520.5,157.6 521,157.6 521.5,157.6 522,157.6 522.5,157.6 523,157.6 523.5,157.6 524,157.6 524.5,157.6 525,157.6 525.5,157.6 526,157.6 526.5,157.6 527,157.6 527.5,157.6 528,157.6 528.5,157.6 529,157.6 529.5,157.6 530,157.6 530.5,157.6 531,157.6 531.5,157.6 532,157.6 532.5,157.6 533,157.6 533.5,157.6 534,157.6 534.5,157.6 535,157.6 535.5,157.6 536,157.6 536.5,157.6 537,157.6 537.5,157.6 538,157.6 538.5,157.6 539,157.6 539.5,157.6 540,157.6 540.5,157.6 541,157.59 541.5,157.58 542,157.56 542.5,157.52 543,157.44 543.5,157.29 544,157.06 544.5,156.7 545,156.2 545.5,155.55 546,154.78 546.5,153.91 547,153.01 547.5,152.16 548,151.4 548.5,150.79 549,150.32 549.5,149.99 550,149.77 550.5,149.64 551,149.57 551.5,149.53 552,149.51 552.5,149.51 553,149.5 553.5,149.5 554,149.5 554.5,149.5 555,149.5 555.5,149.5 556,149.5 556.5,149.5 557,149.5 557.5,149.5 558,149.5 558.5,149.5 559,149.5 559.5,149.5 560,149.5 560.5,149.5 561,149.5 561.5,149.5 562,149.5 562.5,149.5 563,149.5 563.5,149.5 564,149.5 564.5,149.5 565,149.5 565.5,149.5 566,149.5 566.5,149.5 567,149.5 567.5,149.5 568,149.5 568.5,149.5 569,149.5 569.5,149.5 570,149.5 570.5,149.5 571,149.5 571.5,149.5 572,149.5 572.5,149.5 573,149.5 573.5,149.5 574,149.5 574.5,149.5 575,149.5 575.5,149.5 576,149.5 576.5,149.5 577,149.5 577.5,149.5 578,149.5 578.5,149.5 579,149.5 579.5,149.5 580,149.5 580.5,149.5 581,149.5 581.5,149.51 582,149.51 582.5,149.52 583,149.52 583.5,149.54 584,149.55 584.5,149.57 585,149.6 585.5,149.64 586,149.68 586.5,149.75 587,149.82 587.5,149.92 588,150.04 588.5,150.18 589,150.36 589.5,150.56 590,150.79 590.5,151.05 591,151.34 591.5,151.65 592,152 592.5,152.37 593,152.75 593.5,153.15 594,153.55 594.5,153.95 595,154.35 595.5,154.73 596,155.1 596.5,155.45 597,155.76 597.5,156.05 598,156.31 598.5,156.54 599,156.74 599.5,156.92 600,157.06 600.5,157.18 601,157.28 601.5,157.35 602,157.42 602.5,157.46 603,157.5 603.5,157.53 604,157.55 604.5,157.56 605,157.58 605.5,157.58 606,157.59 606.5,157.59 607,157.6 607.5,157.6 608,157.6 608.5,157.6 609,157.6 609.5,157.6 610,157.6 610.5,157.6 611,157.6 611.5,157.6 612,157.6 612.5,157.6 613,157.6 613.5,157.6 614,157.6 614.5,157.6 615,157.6 615.5,157.6 616,157.6 616.5,157.6 617,157.6 617.5,157.6 618,157.6 618.5,157.6 619,157.6 619.5,157.6 620,157.6 620.5,157.6 621,157.6 621.5,157.6 622,157.6 622.5,157.6 623,157.6 623.5,157.6 624,157.6 624.5,157.6 625,157.6 625.5,157.6 626,157.6 626.5,157.6 627,157.6 627.5,157.6 628,157.6 628.5,157.6 629,157.6 629.5,157.6 630,157.6 630.5,157.6 631,157.6 631.5,157.6 632,157.6 632.5,157.6 633,157.6 633.5,157.6 634,157.6 634.5,157.6 635,157.6 635.5,157.6 636,157.6 636.5,157.6 637,157.6 637.5,157.6 638,157.6 638.5,157.6 639,157.6 639.5,157.6 640,157.6 L640,157.6 Z" fill="url(#hatch)"/>
<path d="M530.6,157.68 531.2,157.42 531.8,157.08 532.4,156.67 533,156.16 533.6,155.49 534.2,154.49 534.8,152.91 535.4,150.58 536,147.52 536.6,144.11 537.2,140.91 537.8,138.46 538.4,137.67 539,137.14 539.6,134.92 540.2,130.4 540.8,124.05 541.4,116.51 542,108.24 542.6,99.63 543.2,91.06 543.8,82.98 544.4,75.85 545,70.09 545.6,66.09 546.2,64.11 546.8,64.29 547.4,66.62 548,70.94 548.6,76.95 549.2,84.27 549.8,92.45 550.4,101.02 551,109.53 551.6,117.59 552.2,124.85 552.8,131.07 553.4,136.12 554,139.96 554.6,142.7 555.2,144.52 555.8,145.67 556.4,146.4 557,146.89 557.6,147.27 558.2,147.58 558.8,147.85 559.4,148.07 560,148.25 560.6,148.38 561.2,148.48 561.8,148.55 562.4,148.61 563,148.65 563.6,148.68 564.2,148.7 564.8,148.72 565.4,148.73 566,148.74 566.6,148.75 567.2,148.75 567.8,148.76 568.4,148.76 569,148.76 569.6,148.77 570.2,148.77 570.8,148.77 571.4,148.77 572,148.77 572.6,148.77 573.2,148.77 573.8,148.77 574.4,148.77 575,148.76 575.6,148.76 576.2,148.76 576.8,148.75 577.4,148.74 578,148.73 578.6,148.72 579.2,148.69 579.8,148.67 580.4,148.63 581,148.58 581.6,148.52 582.2,148.45 582.8,148.36 583.4,148.25 584,148.11 584.6,147.96 585.2,147.77 585.8,147.57 586.4,147.34 587,147.08 587.6,146.81 588.2,146.52 588.8,146.22 589.4,145.92 590,145.62 590.6,145.33 591.2,145.05 591.8,144.81 592.4,144.59 593,144.41 593.6,144.26 594.2,144.16 594.8,144.11 595.4,144.11 596,144.17 596.6,144.28 597.2,144.45 597.8,144.69 598.4,145 599,145.35 599.6,145.74 600.2,146.19 600.8,146.68 601.4,147.22 602,147.79 602.6,148.4 603.2,149.03 603.8,149.68 604.4,150.34 605,151 605.6,151.65 606.2,152.28 606.8,152.89 607.4,153.47 608,154.01 608.6,154.51 609.2,154.98 609.8,155.4 610.4,155.78 611,156.12 611.6,156.43 612.2,156.69 612.8,156.93 613.4,157.13 614,157.3 614.6,157.45 615.2,157.58 615.8,157.69 616.4,157.78" fill="none" stroke="#9a9a9a" stroke-width="0.7"/>
<path d="M515,157.6 515.6,157.6 516.2,157.6 516.8,157.6 517.4,157.6 518,157.6 518.6,157.6 519.2,157.6 519.8,157.6 520.4,157.6 521,157.6 521.6,157.6 522.2,157.6 522.8,157.6 523.4,157.59 524,157.59 524.6,157.59 525.2,157.59 525.8,157.58 526.4,157.57 527,157.56 527.6,157.55 528.2,157.52 528.8,157.47 529.4,157.39 530,157.26 530.6,157.07 531.2,156.8 531.8,156.45 532.4,156.02 533,155.5 533.6,154.81 534.2,153.77 534.8,152.15 535.4,149.74 536,146.59 536.6,143.08 537.2,139.78 537.8,137.25 538.4,136.44 539,135.89 539.6,133.6 540.2,128.94 540.8,122.4 541.4,114.62 542,106.09 542.6,97.21 543.2,88.35 543.8,79.81 544.4,71.44 545,62.33 545.6,51.73 546.2,41.89 546.8,38.38 547.4,44.48 548,56.73 548.6,69.4 549.2,80.13 549.8,89.57 550.4,98.62 551,107.42 551.6,115.73 552.2,123.22 552.8,129.64 553.4,134.84 554,138.8 554.6,141.62 555.2,143.53 555.8,144.83 556.4,145.64 557,145.94 557.6,146.11 558.2,146.21 558.8,146.26 559.4,146.58 560,146.92 560.6,146.98 561.2,146.89 561.8,147.06 562.4,147.5 563,147.96 563.6,148.46 564.2,148.76 564.8,148.11 565.4,147.44 566,147.41 566.6,147.37 567.2,147.71 567.8,148.12 568.4,148.23 569,148.18 569.6,148.11 570.2,148.02 570.8,147.83 571.4,147.45 572,147.19 572.6,147.52 573.2,147.85 573.8,148.12 574.4,148.39 575,147.8 575.6,147.05 576.2,147.01 576.8,147.33 577.4,147.22 578,146.67 578.6,146.38 579.2,146.58 579.8,146.71 580.4,146.46 581,146.21 581.6,146.75 582.2,147.26 582.8,146.95 583.4,146.45 584,146.57 584.6,146.97 585.2,147.05 585.8,146.79 586.4,146.48 587,146.09 587.6,145.56 588.2,144.4 588.8,143.23 589.4,143.65 590,144.07 590.6,144.05 591.2,143.95 591.8,143.79 592.4,143.63 593,143.17 593.6,142.41 594.2,142.03 594.8,142.37 595.4,142.66 596,142.53 596.6,142.47 597.2,142.71 597.8,143.02 598.4,143.92 599,144.97 599.6,145.15 600.2,144.92 600.8,145.22 601.4,146.06 602,146.96 602.6,147.92 603.2,148.76 603.8,148.89 604.4,149.03 605,149.88 605.6,150.73 606.2,151.48 606.8,152.18 607.4,152.8 608,153.34 608.6,153.84 609.2,154.29 609.8,154.71 610.4,155.11 611,155.46 611.6,155.77 612.2,156.05 612.8,156.29 613.4,156.5 614,156.67 614.6,156.83 615.2,156.96 615.8,157.07 616.4,157.16 617,157.24 617.6,157.31 618.2,157.36 618.8,157.41 619.4,157.44 620,157.47 620.6,157.5 621.2,157.52 621.8,157.54 622.4,157.55 623,157.56 623.6,157.57 624.2,157.58 624.8,157.58 625.4,157.59 626,157.59 626.6,157.59 627.2,157.59 627.8,157.6 628.4,157.6 629,157.6 629.6,157.6 630.2,157.6 630.8,157.6 631.4,157.6 632,157.6 632.6,157.6 633.2,157.6 633.8,157.6 634.4,157.6 635,157.6 635.6,157.6 636.2,157.6 636.8,157.6 637.4,157.6 638,157.6 638.6,157.6 639.2,157.6 639.8,157.6" fill="none" stroke="#1a1a1a" stroke-width="0.85"/>
<path d="M520,157.6 L520,157.6 520.5,157.6 521,157.6 521.5,157.6 522,157.6 522.5,157.6 523,157.59 523.5,157.59 524,157.59 524.5,157.59 525,157.59 525.5,157.58 526,157.58 526.5,157.57 527,157.56 527.5,157.55 528,157.54 528.5,157.52 529,157.5 529.5,157.48 530,157.45 530.5,157.41 531,157.36 531.5,157.29 532,157.2 532.5,157.08 533,156.91 533.5,156.69 534,156.38 534.5,155.96 535,155.4 535.5,154.64 536,153.64 536.5,152.34 537,150.67 537.5,148.55 538,145.92 538.5,142.7 539,138.84 539.5,134.3 540,129.07 540.5,123.18 541,116.69 541.5,109.72 542,102.42 542.5,94.99 543,87.67 543.5,80.72 544,74.42 544.5,69.04 545,64.81 545.5,61.92 546,60.53 546.5,60.68 547,62.38 547.5,65.55 548,70.03 548.5,75.62 549,82.07 549.5,89.11 550,96.47 550.5,103.89 551,111.15 551.5,118.04 552,124.41 552.5,130.17 553,135.26 553.5,139.66 554,143.39 554.5,146.49 555,149.01 555.5,151.04 556,152.63 556.5,153.86 557,154.81 557.5,155.52 558,156.05 558.5,156.45 559,156.74 559.5,156.95 560,157.11 560.5,157.22 561,157.31 561.5,157.37 562,157.42 562.5,157.46 563,157.48 563.5,157.51 564,157.53 564.5,157.54 565,157.55 565.5,157.56 566,157.57 566.5,157.58 567,157.58 567.5,157.59 568,157.59 568.5,157.59 569,157.59 569.5,157.6 570,157.6 570.5,157.6 571,157.6 571.5,157.6 572,157.6 572.5,157.6 573,157.6 573.5,157.6 574,157.6 574.5,157.6 575,157.6 575.5,157.6 576,157.6 576.5,157.6 577,157.6 577.5,157.6 578,157.6 578.5,157.6 579,157.6 579.5,157.6 580,157.6 580.5,157.6 581,157.6 581.5,157.6 582,157.6 582.5,157.6 583,157.6 583.5,157.6 584,157.6 584.5,157.6 585,157.6 585.5,157.6 586,157.6 586.5,157.6 587,157.6 587.5,157.6 588,157.6 588.5,157.6 589,157.6 589.5,157.6 590,157.6 590.5,157.6 591,157.6 591.5,157.6 592,157.6 592.5,157.6 593,157.6 593.5,157.6 594,157.6 594.5,157.6 595,157.6 595.5,157.6 596,157.6 596.5,157.6 597,157.6 597.5,157.6 598,157.6 598.5,157.6 599,157.6 599.5,157.6 600,157.6 600.5,157.6 601,157.6 601.5,157.6 602,157.6 602.5,157.6 603,157.6 603.5,157.6 604,157.6 604.5,157.6 605,157.6 605.5,157.6 606,157.6 606.5,157.6 607,157.6 607.5,157.6 608,157.6 608.5,157.6 609,157.6 609.5,157.6 610,157.6 610.5,157.6 611,157.6 611.5,157.6 612,157.6 612.5,157.6 613,157.6 613.5,157.6 614,157.6 614.5,157.6 615,157.6 615.5,157.6 616,157.6 616.5,157.6 617,157.6 617.5,157.6 618,157.6 618.5,157.6 619,157.6 619.5,157.6 620,157.6 620.5,157.6 621,157.6 621.5,157.6 622,157.6 622.5,157.6 623,157.6 623.5,157.6 624,157.6 624.5,157.6 625,157.6 625.5,157.6 626,157.6 626.5,157.6 627,157.6 627.5,157.6 628,157.6 628.5,157.6 629,157.6 629.5,157.6 630,157.6 630.5,157.6 631,157.6 631.5,157.6 632,157.6 632.5,157.6 633,157.6 633.5,157.6 634,157.6 634.5,157.6 635,157.6 635.5,157.6 636,157.6 636.5,157.6 637,157.6 637.5,157.6 638,157.6 638.5,157.6 639,157.6 639.5,157.6 640,157.6 L640,157.6 Z" fill="#ff0000"/>
<path d="M520,157.6 L520,157.6 520.5,157.6 521,157.6 521.5,157.6 522,157.6 522.5,157.6 523,157.6 523.5,157.6 524,157.6 524.5,157.6 525,157.6 525.5,157.6 526,157.6 526.5,157.6 527,157.6 527.5,157.6 528,157.6 528.5,157.6 529,157.6 529.5,157.6 530,157.6 530.5,157.6 531,157.6 531.5,157.6 532,157.6 532.5,157.6 533,157.6 533.5,157.6 534,157.6 534.5,157.6 535,157.6 535.5,157.6 536,157.6 536.5,157.6 537,157.6 537.5,157.6 538,157.6 538.5,157.6 539,157.6 539.5,157.6 540,157.6 540.5,157.6 541,157.6 541.5,157.6 542,157.6 542.5,157.6 543,157.6 543.5,157.6 544,157.6 544.5,157.6 545,157.6 545.5,157.6 546,157.6 546.5,157.6 547,157.6 547.5,157.6 548,157.6 548.5,157.6 549,157.6 549.5,157.6 550,157.6 550.5,157.6 551,157.6 551.5,157.6 552,157.6 552.5,157.6 553,157.6 553.5,157.6 554,157.6 554.5,157.6 555,157.6 555.5,157.6 556,157.6 556.5,157.6 557,157.6 557.5,157.6 558,157.6 558.5,157.6 559,157.6 559.5,157.6 560,157.6 560.5,157.6 561,157.6 561.5,157.6 562,157.6 562.5,157.6 563,157.6 563.5,157.6 564,157.6 564.5,157.6 565,157.6 565.5,157.6 566,157.6 566.5,157.6 567,157.6 567.5,157.6 568,157.6 568.5,157.6 569,157.6 569.5,157.6 570,157.6 570.5,157.6 571,157.6 571.5,157.6 572,157.6 572.5,157.6 573,157.6 573.5,157.6 574,157.6 574.5,157.6 575,157.6 575.5,157.59 576,157.59 576.5,157.59 577,157.59 577.5,157.58 578,157.58 578.5,157.57 579,157.56 579.5,157.55 580,157.53 580.5,157.51 581,157.49 581.5,157.46 582,157.43 582.5,157.38 583,157.33 583.5,157.27 584,157.19 584.5,157.1 585,157 585.5,156.88 586,156.74 586.5,156.58 587,156.4 587.5,156.2 588,155.97 588.5,155.73 589,155.46 589.5,155.17 590,154.86 590.5,154.53 591,154.19 591.5,153.83 592,153.47 592.5,153.1 593,152.73 593.5,152.37 594,152.02 594.5,151.69 595,151.38 595.5,151.1 596,150.86 596.5,150.66 597,150.5 597.5,150.38 598,150.32 598.5,150.3 599,150.34 599.5,150.42 600,150.55 600.5,150.73 601,150.95 601.5,151.21 602,151.5 602.5,151.82 603,152.16 603.5,152.51 604,152.88 604.5,153.25 605,153.61 605.5,153.98 606,154.33 606.5,154.67 607,154.99 607.5,155.29 608,155.57 608.5,155.83 609,156.07 609.5,156.28 610,156.47 610.5,156.64 611,156.8 611.5,156.93 612,157.04 612.5,157.14 613,157.22 613.5,157.29 614,157.35 614.5,157.4 615,157.44 615.5,157.47 616,157.5 616.5,157.52 617,157.54 617.5,157.55 618,157.56 618.5,157.57 619,157.58 619.5,157.58 620,157.59 620.5,157.59 621,157.59 621.5,157.6 622,157.6 622.5,157.6 623,157.6 623.5,157.6 624,157.6 624.5,157.6 625,157.6 625.5,157.6 626,157.6 626.5,157.6 627,157.6 627.5,157.6 628,157.6 628.5,157.6 629,157.6 629.5,157.6 630,157.6 630.5,157.6 631,157.6 631.5,157.6 632,157.6 632.5,157.6 633,157.6 633.5,157.6 634,157.6 634.5,157.6 635,157.6 635.5,157.6 636,157.6 636.5,157.6 637,157.6 637.5,157.6 638,157.6 638.5,157.6 639,157.6 639.5,157.6 640,157.6 L640,157.6 Z" fill="#f00010"/>
<g clip-path="url(#csc)"><path d="M520,157.6 L520,157.6 520.5,157.6 521,157.6 521.5,157.6 522,157.6 522.5,157.6 523,157.59 523.5,157.59 524,157.59 524.5,157.59 525,157.59 525.5,157.58 526,157.58 526.5,157.57 527,157.56 527.5,157.55 528,157.54 528.5,157.52 529,157.5 529.5,157.48 530,157.45 530.5,157.41 531,157.36 531.5,157.29 532,157.2 532.5,157.08 533,156.91 533.5,156.69 534,156.38 534.5,155.96 535,155.4 535.5,154.64 536,153.64 536.5,152.34 537,150.67 537.5,148.55 538,145.92 538.5,142.7 539,138.84 539.5,134.3 540,129.07 540.5,123.18 541,116.69 541.5,109.72 542,102.42 542.5,94.99 543,87.67 543.5,80.72 544,74.42 544.5,69.04 545,64.81 545.5,61.92 546,60.53 546.5,60.68 547,62.38 547.5,65.55 548,70.03 548.5,75.62 549,82.07 549.5,89.11 550,96.47 550.5,103.89 551,111.15 551.5,118.04 552,124.41 552.5,130.17 553,135.26 553.5,139.66 554,143.39 554.5,146.49 555,149.01 555.5,151.04 556,152.63 556.5,153.86 557,154.81 557.5,155.52 558,156.05 558.5,156.45 559,156.74 559.5,156.95 560,157.11 560.5,157.22 561,157.31 561.5,157.37 562,157.42 562.5,157.46 563,157.48 563.5,157.51 564,157.53 564.5,157.54 565,157.55 565.5,157.56 566,157.57 566.5,157.58 567,157.58 567.5,157.59 568,157.59 568.5,157.59 569,157.59 569.5,157.6 570,157.6 570.5,157.6 571,157.6 571.5,157.6 572,157.6 572.5,157.6 573,157.6 573.5,157.6 574,157.6 574.5,157.6 575,157.6 575.5,157.6 576,157.6 576.5,157.6 577,157.6 577.5,157.6 578,157.6 578.5,157.6 579,157.6 579.5,157.6 580,157.6 580.5,157.6 581,157.6 581.5,157.6 582,157.6 582.5,157.6 583,157.6 583.5,157.6 584,157.6 584.5,157.6 585,157.6 585.5,157.6 586,157.6 586.5,157.6 587,157.6 587.5,157.6 588,157.6 588.5,157.6 589,157.6 589.5,157.6 590,157.6 590.5,157.6 591,157.6 591.5,157.6 592,157.6 592.5,157.6 593,157.6 593.5,157.6 594,157.6 594.5,157.6 595,157.6 595.5,157.6 596,157.6 596.5,157.6 597,157.6 597.5,157.6 598,157.6 598.5,157.6 599,157.6 599.5,157.6 600,157.6 600.5,157.6 601,157.6 601.5,157.6 602,157.6 602.5,157.6 603,157.6 603.5,157.6 604,157.6 604.5,157.6 605,157.6 605.5,157.6 606,157.6 606.5,157.6 607,157.6 607.5,157.6 608,157.6 608.5,157.6 609,157.6 609.5,157.6 610,157.6 610.5,157.6 611,157.6 611.5,157.6 612,157.6 612.5,157.6 613,157.6 613.5,157.6 614,157.6 614.5,157.6 615,157.6 615.5,157.6 616,157.6 616.5,157.6 617,157.6 617.5,157.6 618,157.6 618.5,157.6 619,157.6 619.5,157.6 620,157.6 620.5,157.6 621,157.6 621.5,157.6 622,157.6 622.5,157.6 623,157.6 623.5,157.6 624,157.6 624.5,157.6 625,157.6 625.5,157.6 626,157.6 626.5,157.6 627,157.6 627.5,157.6 628,157.6 628.5,157.6 629,157.6 629.5,157.6 630,157.6 630.5,157.6 631,157.6 631.5,157.6 632,157.6 632.5,157.6 633,157.6 633.5,157.6 634,157.6 634.5,157.6 635,157.6 635.5,157.6 636,157.6 636.5,157.6 637,157.6 637.5,157.6 638,157.6 638.5,157.6 639,157.6 639.5,157.6 640,157.6 L640,157.6 Z" fill="#d4143c"/><path d="M520,157.6 L520,157.6 520.5,157.6 521,157.6 521.5,157.6 522,157.6 522.5,157.6 523,157.6 523.5,157.6 524,157.6 524.5,157.6 525,157.6 525.5,157.6 526,157.6 526.5,157.6 527,157.6 527.5,157.6 528,157.6 528.5,157.6 529,157.6 529.5,157.6 530,157.6 530.5,157.6 531,157.6 531.5,157.6 532,157.6 532.5,157.6 533,157.6 533.5,157.6 534,157.6 534.5,157.6 535,157.6 535.5,157.6 536,157.6 536.5,157.6 537,157.6 537.5,157.6 538,157.6 538.5,157.6 539,157.6 539.5,157.6 540,157.6 540.5,157.6 541,157.6 541.5,157.6 542,157.6 542.5,157.6 543,157.6 543.5,157.6 544,157.6 544.5,157.6 545,157.6 545.5,157.6 546,157.6 546.5,157.6 547,157.6 547.5,157.6 548,157.6 548.5,157.6 549,157.6 549.5,157.6 550,157.6 550.5,157.6 551,157.6 551.5,157.6 552,157.6 552.5,157.6 553,157.6 553.5,157.6 554,157.6 554.5,157.6 555,157.6 555.5,157.6 556,157.6 556.5,157.6 557,157.6 557.5,157.6 558,157.6 558.5,157.6 559,157.6 559.5,157.6 560,157.6 560.5,157.6 561,157.6 561.5,157.6 562,157.6 562.5,157.6 563,157.6 563.5,157.6 564,157.6 564.5,157.6 565,157.6 565.5,157.6 566,157.6 566.5,157.6 567,157.6 567.5,157.6 568,157.6 568.5,157.6 569,157.6 569.5,157.6 570,157.6 570.5,157.6 571,157.6 571.5,157.6 572,157.6 572.5,157.6 573,157.6 573.5,157.6 574,157.6 574.5,157.6 575,157.6 575.5,157.59 576,157.59 576.5,157.59 577,157.59 577.5,157.58 578,157.58 578.5,157.57 579,157.56 579.5,157.55 580,157.53 580.5,157.51 581,157.49 581.5,157.46 582,157.43 582.5,157.38 583,157.33 583.5,157.27 584,157.19 584.5,157.1 585,157 585.5,156.88 586,156.74 586.5,156.58 587,156.4 587.5,156.2 588,155.97 588.5,155.73 589,155.46 589.5,155.17 590,154.86 590.5,154.53 591,154.19 591.5,153.83 592,153.47 592.5,153.1 593,152.73 593.5,152.37 594,152.02 594.5,151.69 595,151.38 595.5,151.1 596,150.86 596.5,150.66 597,150.5 597.5,150.38 598,150.32 598.5,150.3 599,150.34 599.5,150.42 600,150.55 600.5,150.73 601,150.95 601.5,151.21 602,151.5 602.5,151.82 603,152.16 603.5,152.51 604,152.88 604.5,153.25 605,153.61 605.5,153.98 606,154.33 606.5,154.67 607,154.99 607.5,155.29 608,155.57 608.5,155.83 609,156.07 609.5,156.28 610,156.47 610.5,156.64 611,156.8 611.5,156.93 612,157.04 612.5,157.14 613,157.22 613.5,157.29 614,157.35 614.5,157.4 615,157.44 615.5,157.47 616,157.5 616.5,157.52 617,157.54 617.5,157.55 618,157.56 618.5,157.57 619,157.58 619.5,157.58 620,157.59 620.5,157.59 621,157.59 621.5,157.6 622,157.6 622.5,157.6 623,157.6 623.5,157.6 624,157.6 624.5,157.6 625,157.6 625.5,157.6 626,157.6 626.5,157.6 627,157.6 627.5,157.6 628,157.6 628.5,157.6 629,157.6 629.5,157.6 630,157.6 630.5,157.6 631,157.6 631.5,157.6 632,157.6 632.5,157.6 633,157.6 633.5,157.6 634,157.6 634.5,157.6 635,157.6 635.5,157.6 636,157.6 636.5,157.6 637,157.6 637.5,157.6 638,157.6 638.5,157.6 639,157.6 639.5,157.6 640,157.6 L640,157.6 Z" fill="#d4143c"/></g>
<g stroke="#3a3a3a" stroke-width="1" fill="none">
<line x1="486" y1="18" x2="486" y2="157.6"/>
<line x1="483" y1="157.6" x2="643.8" y2="157.6"/>
<line x1="481.7" y1="157.6" x2="486" y2="157.6"/>
<line x1="483.2" y1="152" x2="486" y2="152"/>
<line x1="483.2" y1="146.4" x2="486" y2="146.4"/>
<line x1="483.2" y1="140.8" x2="486" y2="140.8"/>
<line x1="483.2" y1="135.2" x2="486" y2="135.2"/>
<line x1="481.7" y1="129.6" x2="486" y2="129.6"/>
<line x1="483.2" y1="124" x2="486" y2="124"/>
<line x1="483.2" y1="118.4" x2="486" y2="118.4"/>
<line x1="483.2" y1="112.8" x2="486" y2="112.8"/>
<line x1="483.2" y1="107.2" x2="486" y2="107.2"/>
<line x1="481.7" y1="101.6" x2="486" y2="101.6"/>
<line x1="483.2" y1="96" x2="486" y2="96"/>
<line x1="483.2" y1="90.4" x2="486" y2="90.4"/>
<line x1="483.2" y1="84.8" x2="486" y2="84.8"/>
<line x1="483.2" y1="79.2" x2="486" y2="79.2"/>
<line x1="481.7" y1="73.6" x2="486" y2="73.6"/>
<line x1="483.2" y1="68" x2="486" y2="68"/>
<line x1="483.2" y1="62.4" x2="486" y2="62.4"/>
<line x1="483.2" y1="56.8" x2="486" y2="56.8"/>
<line x1="483.2" y1="51.2" x2="486" y2="51.2"/>
<line x1="481.7" y1="45.6" x2="486" y2="45.6"/>
<line x1="483.2" y1="40" x2="486" y2="40"/>
<line x1="483.2" y1="34.4" x2="486" y2="34.4"/>
<line x1="483.2" y1="28.8" x2="486" y2="28.8"/>
<line x1="483.2" y1="23.2" x2="486" y2="23.2"/>
<line x1="485.8" y1="157.6" x2="485.8" y2="162.3"/>
<line x1="492.9" y1="157.6" x2="492.9" y2="160.5"/>
<line x1="500" y1="157.6" x2="500" y2="160.5"/>
<line x1="507.1" y1="157.6" x2="507.1" y2="160.5"/>
<line x1="514.2" y1="157.6" x2="514.2" y2="160.5"/>
<line x1="521.3" y1="157.6" x2="521.3" y2="162.3"/>
<line x1="528.4" y1="157.6" x2="528.4" y2="160.5"/>
<line x1="535.5" y1="157.6" x2="535.5" y2="160.5"/>
<line x1="542.6" y1="157.6" x2="542.6" y2="160.5"/>
<line x1="549.7" y1="157.6" x2="549.7" y2="160.5"/>
<line x1="556.8" y1="157.6" x2="556.8" y2="162.3"/>
<line x1="563.9" y1="157.6" x2="563.9" y2="160.5"/>
<line x1="571" y1="157.6" x2="571" y2="160.5"/>
<line x1="578.1" y1="157.6" x2="578.1" y2="160.5"/>
<line x1="585.2" y1="157.6" x2="585.2" y2="160.5"/>
<line x1="592.3" y1="157.6" x2="592.3" y2="162.3"/>
<line x1="599.4" y1="157.6" x2="599.4" y2="160.5"/>
<line x1="606.5" y1="157.6" x2="606.5" y2="160.5"/>
<line x1="613.6" y1="157.6" x2="613.6" y2="160.5"/>
<line x1="620.7" y1="157.6" x2="620.7" y2="160.5"/>
<line x1="627.8" y1="157.6" x2="627.8" y2="162.3"/>
<line x1="634.9" y1="157.6" x2="634.9" y2="160.5"/>
<line x1="642" y1="157.6" x2="642" y2="160.5"/>
</g>
<g font-family='"Liberation Sans", sans-serif' font-size="10" fill="#222" stroke="#222" stroke-width="0.22">
<text transform="translate(481.6,131.9) scale(1,1)" text-anchor="end">200</text>
<text transform="translate(481.6,103.9) scale(1,1)" text-anchor="end">400</text>
<text transform="translate(481.6,75.9) scale(1,1)" text-anchor="end">600</text>
<text transform="translate(481.6,47.9) scale(1,1)" text-anchor="end">800</text>
<text transform="translate(521.3,170.9) scale(1,1)" text-anchor="middle">40</text>
<text transform="translate(556.8,170.9) scale(1,1)" text-anchor="middle">80</text>
<text transform="translate(592.3,170.9) scale(1,1)" text-anchor="middle">120</text>
<text transform="translate(627.8,170.9) scale(1,1)" text-anchor="middle">160</text>
</g>
<text x="576.3" y="182" font-family='"Liberation Sans", sans-serif' font-size="10" fill="#222" stroke="#222" stroke-width="0.22" text-anchor="middle">Channels(FL3-H)</text>
<text transform="translate(457.6,85) rotate(-90)" font-family='"Liberation Sans", sans-serif' font-size="10" fill="#222" stroke="#222" stroke-width="0.22" text-anchor="middle" dominant-baseline="central">Number</text>
<path d="M546.8,158.4 L544.2,163 L549.4,163 Z" fill="#111"/>
<text x="465.5" y="11.5" font-family='"Liberation Sans", sans-serif' font-size="12.9" font-weight="bold" fill="#111">c</text>
<text x="491" y="21.1" font-family='"Liberation Sans", sans-serif' font-size="10.1" font-weight="bold" fill="#111">UDP</text>
<rect x="580.3" y="20.9" width="9.7" height="6.8" fill="#ff0000" stroke="none" stroke-width="0.6"/>
<text x="595.5" y="27.15" font-family='"Liberation Sans", sans-serif' font-size="6.8" fill="#2626dc" stroke="#2626dc" stroke-width="0.28">Dip G1</text>
<rect x="580.3" y="28.9" width="9.7" height="6.8" fill="#ff0000" stroke="none" stroke-width="0.6"/>
<text x="595.5" y="35.15" font-family='"Liberation Sans", sans-serif' font-size="6.8" fill="#2626dc" stroke="#2626dc" stroke-width="0.28">Dip G2</text>
<rect x="580.3" y="37.1" width="9.7" height="6.3" fill="url(#hatch2)" stroke="#666" stroke-width="0.6"/>
<text x="595.5" y="43.1" font-family='"Liberation Sans", sans-serif' font-size="6.8" fill="#2626dc" stroke="#2626dc" stroke-width="0.28">Dip S</text>
<text x="554.8" y="70.05" font-family='"Liberation Sans", sans-serif' font-size="7.36" fill="#2626dc" stroke="#2626dc" stroke-width="0.28">Diploid: 100.00 %</text>
<text x="560.9" y="77.55" font-family='"Liberation Sans", sans-serif' font-size="7.36" fill="#2626dc" stroke="#2626dc" stroke-width="0.28">Dip G1: 62.06 % at 67.72</text>
<text x="560.9" y="85.35" font-family='"Liberation Sans", sans-serif' font-size="7.36" fill="#2626dc" stroke="#2626dc" stroke-width="0.28">Dip G2: 8.84 % at 127.99</text>
<text x="560.9" y="93.05" font-family='"Liberation Sans", sans-serif' font-size="7.36" fill="#2626dc" stroke="#2626dc" stroke-width="0.28">Dip S: 29.10 %</text>
<text x="656.1" y="93.05" font-family='"Liberation Sans", sans-serif' font-size="7.36" fill="#2626dc" stroke="#2626dc" stroke-width="0.28" text-anchor="end">G2/G1: 1.89</text>
<text x="560.9" y="101.05" font-family='"Liberation Sans", sans-serif' font-size="7.36" fill="#2626dc" stroke="#2626dc" stroke-width="0.28">%CV: 6.33</text>
<defs><clipPath id="csd"><path d="M80,345.9 L80,345.9 80.5,345.9 81,345.9 81.5,345.9 82,345.9 82.5,345.9 83,345.9 83.5,345.9 84,345.9 84.5,345.9 85,345.9 85.5,345.9 86,345.9 86.5,345.9 87,345.9 87.5,345.9 88,345.9 88.5,345.9 89,345.9 89.5,345.9 90,345.9 90.5,345.9 91,345.9 91.5,345.9 92,345.9 92.5,345.9 93,345.9 93.5,345.9 94,345.9 94.5,345.9 95,345.9 95.5,345.9 96,345.89 96.5,345.88 97,345.86 97.5,345.81 98,345.73 98.5,345.59 99,345.36 99.5,345.03 100,344.58 100.5,344.02 101,343.36 101.5,342.65 102,341.94 102.5,341.28 103,340.72 103.5,340.27 104,339.94 104.5,339.71 105,339.57 105.5,339.49 106,339.44 106.5,339.42 107,339.41 107.5,339.4 108,339.4 108.5,339.4 109,339.4 109.5,339.4 110,339.4 110.5,339.4 111,339.4 111.5,339.4 112,339.4 112.5,339.4 113,339.4 113.5,339.4 114,339.4 114.5,339.4 115,339.4 115.5,339.4 116,339.4 116.5,339.4 117,339.4 117.5,339.4 118,339.4 118.5,339.4 119,339.4 119.5,339.4 120,339.4 120.5,339.4 121,339.4 121.5,339.4 122,339.4 122.5,339.4 123,339.4 123.5,339.4 124,339.4 124.5,339.4 125,339.4 125.5,339.4 126,339.4 126.5,339.4 127,339.4 127.5,339.4 128,339.4 128.5,339.4 129,339.4 129.5,339.4 130,339.4 130.5,339.4 131,339.4 131.5,339.4 132,339.4 132.5,339.4 133,339.4 133.5,339.4 134,339.4 134.5,339.4 135,339.4 135.5,339.4 136,339.4 136.5,339.4 137,339.4 137.5,339.4 138,339.4 138.5,339.4 139,339.4 139.5,339.4 140,339.4 140.5,339.4 141,339.4 141.5,339.4 142,339.4 142.5,339.4 143,339.4 143.5,339.41 144,339.41 144.5,339.41 145,339.42 145.5,339.44 146,339.46 146.5,339.5 147,339.55 147.5,339.62 148,339.71 148.5,339.83 149,339.99 149.5,340.19 150,340.43 150.5,340.72 151,341.04 151.5,341.41 152,341.8 152.5,342.22 153,342.65 153.5,343.08 154,343.5 154.5,343.89 155,344.26 155.5,344.58 156,344.87 156.5,345.11 157,345.31 157.5,345.47 158,345.59 158.5,345.68 159,345.75 159.5,345.8 160,345.84 160.5,345.86 161,345.88 161.5,345.89 162,345.89 162.5,345.89 163,345.9 163.5,345.9 164,345.9 164.5,345.9 165,345.9 165.5,345.9 166,345.9 166.5,345.9 167,345.9 167.5,345.9 168,345.9 168.5,345.9 169,345.9 169.5,345.9 170,345.9 170.5,345.9 171,345.9 171.5,345.9 172,345.9 172.5,345.9 173,345.9 173.5,345.9 174,345.9 174.5,345.9 175,345.9 175.5,345.9 176,345.9 176.5,345.9 177,345.9 177.5,345.9 178,345.9 178.5,345.9 179,345.9 179.5,345.9 180,345.9 180.5,345.9 181,345.9 181.5,345.9 182,345.9 182.5,345.9 183,345.9 183.5,345.9 184,345.9 184.5,345.9 185,345.9 185.5,345.9 186,345.9 186.5,345.9 187,345.9 187.5,345.9 188,345.9 188.5,345.9 189,345.9 189.5,345.9 190,345.9 190.5,345.9 191,345.9 191.5,345.9 192,345.9 192.5,345.9 193,345.9 193.5,345.9 194,345.9 194.5,345.9 195,345.9 L195,345.9 Z"/></clipPath></defs>
<path d="M80,345.9 L80,345.9 80.5,345.9 81,345.9 81.5,345.9 82,345.9 82.5,345.9 83,345.9 83.5,345.9 84,345.9 84.5,345.9 85,345.9 85.5,345.9 86,345.9 86.5,345.9 87,345.9 87.5,345.9 88,345.9 88.5,345.9 89,345.9 89.5,345.9 90,345.9 90.5,345.9 91,345.9 91.5,345.9 92,345.9 92.5,345.9 93,345.9 93.5,345.9 94,345.9 94.5,345.9 95,345.9 95.5,345.9 96,345.89 96.5,345.88 97,345.86 97.5,345.81 98,345.73 98.5,345.59 99,345.36 99.5,345.03 100,344.58 100.5,344.02 101,343.36 101.5,342.65 102,341.94 102.5,341.28 103,340.72 103.5,340.27 104,339.94 104.5,339.71 105,339.57 105.5,339.49 106,339.44 106.5,339.42 107,339.41 107.5,339.4 108,339.4 108.5,339.4 109,339.4 109.5,339.4 110,339.4 110.5,339.4 111,339.4 111.5,339.4 112,339.4 112.5,339.4 113,339.4 113.5,339.4 114,339.4 114.5,339.4 115,339.4 115.5,339.4 116,339.4 116.5,339.4 117,339.4 117.5,339.4 118,339.4 118.5,339.4 119,339.4 119.5,339.4 120,339.4 120.5,339.4 121,339.4 121.5,339.4 122,339.4 122.5,339.4 123,339.4 123.5,339.4 124,339.4 124.5,339.4 125,339.4 125.5,339.4 126,339.4 126.5,339.4 127,339.4 127.5,339.4 128,339.4 128.5,339.4 129,339.4 129.5,339.4 130,339.4 130.5,339.4 131,339.4 131.5,339.4 132,339.4 132.5,339.4 133,339.4 133.5,339.4 134,339.4 134.5,339.4 135,339.4 135.5,339.4 136,339.4 136.5,339.4 137,339.4 137.5,339.4 138,339.4 138.5,339.4 139,339.4 139.5,339.4 140,339.4 140.5,339.4 141,339.4 141.5,339.4 142,339.4 142.5,339.4 143,339.4 143.5,339.41 144,339.41 144.5,339.41 145,339.42 145.5,339.44 146,339.46 146.5,339.5 147,339.55 147.5,339.62 148,339.71 148.5,339.83 149,339.99 149.5,340.19 150,340.43 150.5,340.72 151,341.04 151.5,341.41 152,341.8 152.5,342.22 153,342.65 153.5,343.08 154,343.5 154.5,343.89 155,344.26 155.5,344.58 156,344.87 156.5,345.11 157,345.31 157.5,345.47 158,345.59 158.5,345.68 159,345.75 159.5,345.8 160,345.84 160.5,345.86 161,345.88 161.5,345.89 162,345.89 162.5,345.89 163,345.9 163.5,345.9 164,345.9 164.5,345.9 165,345.9 165.5,345.9 166,345.9 166.5,345.9 167,345.9 167.5,345.9 168,345.9 168.5,345.9 169,345.9 169.5,345.9 170,345.9 170.5,345.9 171,345.9 171.5,345.9 172,345.9 172.5,345.9 173,345.9 173.5,345.9 174,345.9 174.5,345.9 175,345.9 175.5,345.9 176,345.9 176.5,345.9 177,345.9 177.5,345.9 178,345.9 178.5,345.9 179,345.9 179.5,345.9 180,345.9 180.5,345.9 181,345.9 181.5,345.9 182,345.9 182.5,345.9 183,345.9 183.5,345.9 184,345.9 184.5,345.9 185,345.9 185.5,345.9 186,345.9 186.5,345.9 187,345.9 187.5,345.9 188,345.9 188.5,345.9 189,345.9 189.5,345.9 190,345.9 190.5,345.9 191,345.9 191.5,345.9 192,345.9 192.5,345.9 193,345.9 193.5,345.9 194,345.9 194.5,345.9 195,345.9 L195,345.9 Z" fill="url(#hatch)"/>
<path d="M88.2,346.06 88.8,345.9 89.4,345.7 90,345.4 90.6,344.98 91.2,344.36 91.8,343.44 92.4,342.08 93,340.1 93.6,337.27 94.2,333.34 94.8,328.03 95.4,321.14 96,312.52 96.6,302.22 97.2,290.48 97.8,277.78 98.4,264.85 99,252.6 99.6,242.01 100.2,234.01 100.8,229.34 101.4,228.4 102,231.22 102.6,237.43 103.2,246.38 103.8,257.21 104.4,269.01 105,280.95 105.6,292.3 106.2,302.54 106.8,311.35 107.4,318.58 108,324.27 108.6,328.57 109.2,331.72 109.8,333.94 110.4,335.48 111,336.53 111.6,337.23 112.2,337.71 112.8,338.04 113.4,338.28 114,338.44 114.6,338.57 115.2,338.66 115.8,338.73 116.4,338.78 117,338.82 117.6,338.85 118.2,338.88 118.8,338.89 119.4,338.91 120,338.91 120.6,338.92 121.2,338.92 121.8,338.93 122.4,338.93 123,338.93 123.6,338.93 124.2,338.93 124.8,338.93 125.4,338.93 126,338.93 126.6,338.93 127.2,338.93 127.8,338.93 128.4,338.93 129,338.93 129.6,338.93 130.2,338.93 130.8,338.93 131.4,338.93 132,338.93 132.6,338.93 133.2,338.93 133.8,338.93 134.4,338.93 135,338.93 135.6,338.93 136.2,338.93 136.8,338.93 137.4,338.93 138,338.92 138.6,338.92 139.2,338.91 139.8,338.9 140.4,338.89 141,338.86 141.6,338.83 142.2,338.79 142.8,338.73 143.4,338.65 144,338.55 144.6,338.42 145.2,338.26 145.8,338.06 146.4,337.82 147,337.54 147.6,337.23 148.2,336.88 148.8,336.5 149.4,336.1 150,335.69 150.6,335.27 151.2,334.86 151.8,334.45 152.4,334.05 153,333.66 153.6,333.29 154.2,332.93 154.8,332.6 155.4,332.32 156,332.09 156.6,331.94 157.2,331.87 157.8,331.9 158.4,332.05 159,332.34 159.6,332.77 160.2,333.34 160.8,334.03 161.4,334.82 162,335.71 162.6,336.65 163.2,337.63 163.8,338.62 164.4,339.59 165,340.51 165.6,341.39 166.2,342.19 166.8,342.91 167.4,343.56 168,344.12 168.6,344.59 169.2,345 169.8,345.33 170.4,345.6 171,345.82 171.6,345.99" fill="none" stroke="#9a9a9a" stroke-width="0.7"/>
<path d="M75,345.9 75.6,345.9 76.2,345.9 76.8,345.9 77.4,345.9 78,345.9 78.6,345.9 79.2,345.9 79.8,345.9 80.4,345.89 81,345.89 81.6,345.89 82.2,345.88 82.8,345.87 83.4,345.86 84,345.85 84.6,345.83 85.2,345.8 85.8,345.76 86.4,345.71 87,345.64 87.6,345.56 88.2,345.44 88.8,345.29 89.4,345.07 90,344.77 90.6,344.33 91.2,343.69 91.8,342.75 92.4,341.35 93,339.31 93.6,336.39 94.2,332.33 94.8,326.86 95.4,319.75 96,310.87 96.6,300.25 97.2,288.15 97.8,275.06 98.4,261.72 99,248.95 99.6,237 100.2,224.64 100.8,211.61 101.4,204.5 102,210.77 102.6,225.77 103.2,240.61 103.8,253.53 104.4,265.99 105,278.32 105.6,290.02 106.2,300.58 106.8,309.66 107.4,317.11 108,322.98 108.6,327.42 109.2,330.7 109.8,333.12 110.4,334.65 111,334.76 111.6,334.52 112.2,336.19 112.8,337.71 113.4,338.35 114,338.77 114.6,338.44 115.2,337.73 115.8,337.62 116.4,338.12 117,338.43 117.6,338.37 118.2,338.26 118.8,337.95 119.4,337.64 120,337.41 120.6,337.18 121.2,336.65 121.8,336.06 122.4,337.03 123,338.77 123.6,339.28 124.2,338.54 124.8,338.48 125.4,339.79 126,340.73 126.6,339.87 127.2,339.01 127.8,338.73 128.4,338.45 129,338.01 129.6,337.54 130.2,338.07 130.8,339.11 131.4,339.15 132,338.19 132.6,337.89 133.2,338.95 133.8,339.66 134.4,338.66 135,337.66 135.6,337.96 136.2,338.25 136.8,337.58 137.4,336.71 138,337.72 138.6,339.68 139.2,340.04 139.8,338.79 140.4,337.9 141,337.73 141.6,337.67 142.2,338.24 142.8,338.78 143.4,337.84 144,336.87 144.6,337.29 145.2,337.97 145.8,337.39 146.4,336.16 147,335.81 147.6,336.36 148.2,336.31 148.8,335.12 149.4,333.96 150,333.14 150.6,332.31 151.2,332.51 151.8,332.72 152.4,332.04 153,331.2 153.6,331.35 154.2,332.01 154.8,332.05 155.4,331.48 156,331.15 156.6,331.24 157.2,331.34 157.8,331.16 158.4,331.11 159,331.18 159.6,331.39 160.2,332.1 160.8,333.01 161.4,334.24 162,335.67 162.6,336.59 163.2,336.97 163.8,337.6 164.4,338.69 165,339.73 165.6,340.63 166.2,341.46 166.8,342.2 167.4,342.87 168,343.44 168.6,343.93 169.2,344.35 169.8,344.69 170.4,344.97 171,345.19 171.6,345.37 172.2,345.51 172.8,345.61 173.4,345.69 174,345.75 174.6,345.8 175.2,345.83 175.8,345.85 176.4,345.87 177,345.88 177.6,345.88 178.2,345.89 178.8,345.89 179.4,345.9 180,345.9 180.6,345.9 181.2,345.9 181.8,345.9 182.4,345.9 183,345.9 183.6,345.9 184.2,345.9 184.8,345.9 185.4,345.9 186,345.9 186.6,345.9 187.2,345.9 187.8,345.9 188.4,345.9 189,345.9 189.6,345.9 190.2,345.9 190.8,345.9 191.4,345.9 192,345.9 192.6,345.9 193.2,345.9 193.8,345.9 194.4,345.9 195,345.9" fill="none" stroke="#1a1a1a" stroke-width="0.85"/>
<path d="M80,345.9 L80,345.9 80.5,345.89 81,345.89 81.5,345.89 82,345.88 82.5,345.88 83,345.87 83.5,345.86 84,345.84 84.5,345.82 85,345.8 85.5,345.77 86,345.73 86.5,345.68 87,345.62 87.5,345.54 88,345.44 88.5,345.32 89,345.15 89.5,344.93 90,344.64 90.5,344.24 91,343.69 91.5,342.93 92,341.87 92.5,340.42 93,338.44 93.5,335.8 94,332.33 94.5,327.88 95,322.31 95.5,315.54 96,307.52 96.5,298.33 97,288.15 97.5,277.28 98,266.15 98.5,255.27 99,245.24 99.5,236.66 100,230.07 100.5,225.92 101,224.5 101.5,225.92 102,230.07 102.5,236.66 103,245.24 103.5,255.27 104,266.15 104.5,277.28 105,288.15 105.5,298.33 106,307.52 106.5,315.54 107,322.31 107.5,327.88 108,332.33 108.5,335.8 109,338.44 109.5,340.42 110,341.87 110.5,342.93 111,343.69 111.5,344.24 112,344.64 112.5,344.93 113,345.15 113.5,345.32 114,345.44 114.5,345.54 115,345.62 115.5,345.68 116,345.73 116.5,345.77 117,345.8 117.5,345.82 118,345.84 118.5,345.86 119,345.87 119.5,345.88 120,345.88 120.5,345.89 121,345.89 121.5,345.89 122,345.9 122.5,345.9 123,345.9 123.5,345.9 124,345.9 124.5,345.9 125,345.9 125.5,345.9 126,345.9 126.5,345.9 127,345.9 127.5,345.9 128,345.9 128.5,345.9 129,345.9 129.5,345.9 130,345.9 130.5,345.9 131,345.9 131.5,345.9 132,345.9 132.5,345.9 133,345.9 133.5,345.9 134,345.9 134.5,345.9 135,345.9 135.5,345.9 136,345.9 136.5,345.9 137,345.9 137.5,345.9 138,345.9 138.5,345.9 139,345.9 139.5,345.9 140,345.9 140.5,345.9 141,345.9 141.5,345.9 142,345.9 142.5,345.9 143,345.9 143.5,345.9 144,345.9 144.5,345.9 145,345.9 145.5,345.9 146,345.9 146.5,345.9 147,345.9 147.5,345.9 148,345.9 148.5,345.9 149,345.9 149.5,345.9 150,345.9 150.5,345.9 151,345.9 151.5,345.9 152,345.9 152.5,345.9 153,345.9 153.5,345.9 154,345.9 154.5,345.9 155,345.9 155.5,345.9 156,345.9 156.5,345.9 157,345.9 157.5,345.9 158,345.9 158.5,345.9 159,345.9 159.5,345.9 160,345.9 160.5,345.9 161,345.9 161.5,345.9 162,345.9 162.5,345.9 163,345.9 163.5,345.9 164,345.9 164.5,345.9 165,345.9 165.5,345.9 166,345.9 166.5,345.9 167,345.9 167.5,345.9 168,345.9 168.5,345.9 169,345.9 169.5,345.9 170,345.9 170.5,345.9 171,345.9 171.5,345.9 172,345.9 172.5,345.9 173,345.9 173.5,345.9 174,345.9 174.5,345.9 175,345.9 175.5,345.9 176,345.9 176.5,345.9 177,345.9 177.5,345.9 178,345.9 178.5,345.9 179,345.9 179.5,345.9 180,345.9 180.5,345.9 181,345.9 181.5,345.9 182,345.9 182.5,345.9 183,345.9 183.5,345.9 184,345.9 184.5,345.9 185,345.9 185.5,345.9 186,345.9 186.5,345.9 187,345.9 187.5,345.9 188,345.9 188.5,345.9 189,345.9 189.5,345.9 190,345.9 190.5,345.9 191,345.9 191.5,345.9 192,345.9 192.5,345.9 193,345.9 193.5,345.9 194,345.9 194.5,345.9 195,345.9 L195,345.9 Z" fill="#ff0000"/>
<path d="M80,345.9 L80,345.9 80.5,345.9 81,345.9 81.5,345.9 82,345.9 82.5,345.9 83,345.9 83.5,345.9 84,345.9 84.5,345.9 85,345.9 85.5,345.9 86,345.9 86.5,345.9 87,345.9 87.5,345.9 88,345.9 88.5,345.9 89,345.9 89.5,345.9 90,345.9 90.5,345.9 91,345.9 91.5,345.9 92,345.9 92.5,345.9 93,345.9 93.5,345.9 94,345.9 94.5,345.9 95,345.9 95.5,345.9 96,345.9 96.5,345.9 97,345.9 97.5,345.9 98,345.9 98.5,345.9 99,345.9 99.5,345.9 100,345.9 100.5,345.9 101,345.9 101.5,345.9 102,345.9 102.5,345.9 103,345.9 103.5,345.9 104,345.9 104.5,345.9 105,345.9 105.5,345.9 106,345.9 106.5,345.9 107,345.9 107.5,345.9 108,345.9 108.5,345.9 109,345.9 109.5,345.9 110,345.9 110.5,345.9 111,345.9 111.5,345.9 112,345.9 112.5,345.9 113,345.9 113.5,345.9 114,345.9 114.5,345.9 115,345.9 115.5,345.9 116,345.9 116.5,345.9 117,345.9 117.5,345.9 118,345.9 118.5,345.9 119,345.9 119.5,345.9 120,345.9 120.5,345.9 121,345.9 121.5,345.9 122,345.9 122.5,345.9 123,345.9 123.5,345.9 124,345.9 124.5,345.9 125,345.9 125.5,345.9 126,345.9 126.5,345.9 127,345.9 127.5,345.9 128,345.9 128.5,345.9 129,345.9 129.5,345.9 130,345.9 130.5,345.9 131,345.9 131.5,345.9 132,345.9 132.5,345.9 133,345.9 133.5,345.9 134,345.9 134.5,345.9 135,345.9 135.5,345.9 136,345.9 136.5,345.9 137,345.9 137.5,345.9 138,345.9 138.5,345.9 139,345.9 139.5,345.89 140,345.89 140.5,345.89 141,345.88 141.5,345.87 142,345.86 142.5,345.85 143,345.83 143.5,345.8 144,345.76 144.5,345.72 145,345.66 145.5,345.59 146,345.49 146.5,345.38 147,345.24 147.5,345.07 148,344.87 148.5,344.63 149,344.35 149.5,344.02 150,343.66 150.5,343.24 151,342.78 151.5,342.28 152,341.74 152.5,341.17 153,340.57 153.5,339.96 154,339.34 154.5,338.73 155,338.14 155.5,337.59 156,337.08 156.5,336.64 157,336.27 157.5,335.99 158,335.8 158.5,335.71 159,335.72 159.5,335.83 160,336.04 160.5,336.34 161,336.72 161.5,337.18 162,337.7 162.5,338.26 163,338.85 163.5,339.47 164,340.08 164.5,340.7 165,341.29 165.5,341.85 166,342.39 166.5,342.88 167,343.33 167.5,343.73 168,344.09 168.5,344.41 169,344.68 169.5,344.91 170,345.11 170.5,345.27 171,345.41 171.5,345.51 172,345.6 172.5,345.67 173,345.73 173.5,345.77 174,345.81 174.5,345.83 175,345.85 175.5,345.86 176,345.87 176.5,345.88 177,345.89 177.5,345.89 178,345.89 178.5,345.9 179,345.9 179.5,345.9 180,345.9 180.5,345.9 181,345.9 181.5,345.9 182,345.9 182.5,345.9 183,345.9 183.5,345.9 184,345.9 184.5,345.9 185,345.9 185.5,345.9 186,345.9 186.5,345.9 187,345.9 187.5,345.9 188,345.9 188.5,345.9 189,345.9 189.5,345.9 190,345.9 190.5,345.9 191,345.9 191.5,345.9 192,345.9 192.5,345.9 193,345.9 193.5,345.9 194,345.9 194.5,345.9 195,345.9 L195,345.9 Z" fill="#f00010"/>
<g clip-path="url(#csd)"><path d="M80,345.9 L80,345.9 80.5,345.89 81,345.89 81.5,345.89 82,345.88 82.5,345.88 83,345.87 83.5,345.86 84,345.84 84.5,345.82 85,345.8 85.5,345.77 86,345.73 86.5,345.68 87,345.62 87.5,345.54 88,345.44 88.5,345.32 89,345.15 89.5,344.93 90,344.64 90.5,344.24 91,343.69 91.5,342.93 92,341.87 92.5,340.42 93,338.44 93.5,335.8 94,332.33 94.5,327.88 95,322.31 95.5,315.54 96,307.52 96.5,298.33 97,288.15 97.5,277.28 98,266.15 98.5,255.27 99,245.24 99.5,236.66 100,230.07 100.5,225.92 101,224.5 101.5,225.92 102,230.07 102.5,236.66 103,245.24 103.5,255.27 104,266.15 104.5,277.28 105,288.15 105.5,298.33 106,307.52 106.5,315.54 107,322.31 107.5,327.88 108,332.33 108.5,335.8 109,338.44 109.5,340.42 110,341.87 110.5,342.93 111,343.69 111.5,344.24 112,344.64 112.5,344.93 113,345.15 113.5,345.32 114,345.44 114.5,345.54 115,345.62 115.5,345.68 116,345.73 116.5,345.77 117,345.8 117.5,345.82 118,345.84 118.5,345.86 119,345.87 119.5,345.88 120,345.88 120.5,345.89 121,345.89 121.5,345.89 122,345.9 122.5,345.9 123,345.9 123.5,345.9 124,345.9 124.5,345.9 125,345.9 125.5,345.9 126,345.9 126.5,345.9 127,345.9 127.5,345.9 128,345.9 128.5,345.9 129,345.9 129.5,345.9 130,345.9 130.5,345.9 131,345.9 131.5,345.9 132,345.9 132.5,345.9 133,345.9 133.5,345.9 134,345.9 134.5,345.9 135,345.9 135.5,345.9 136,345.9 136.5,345.9 137,345.9 137.5,345.9 138,345.9 138.5,345.9 139,345.9 139.5,345.9 140,345.9 140.5,345.9 141,345.9 141.5,345.9 142,345.9 142.5,345.9 143,345.9 143.5,345.9 144,345.9 144.5,345.9 145,345.9 145.5,345.9 146,345.9 146.5,345.9 147,345.9 147.5,345.9 148,345.9 148.5,345.9 149,345.9 149.5,345.9 150,345.9 150.5,345.9 151,345.9 151.5,345.9 152,345.9 152.5,345.9 153,345.9 153.5,345.9 154,345.9 154.5,345.9 155,345.9 155.5,345.9 156,345.9 156.5,345.9 157,345.9 157.5,345.9 158,345.9 158.5,345.9 159,345.9 159.5,345.9 160,345.9 160.5,345.9 161,345.9 161.5,345.9 162,345.9 162.5,345.9 163,345.9 163.5,345.9 164,345.9 164.5,345.9 165,345.9 165.5,345.9 166,345.9 166.5,345.9 167,345.9 167.5,345.9 168,345.9 168.5,345.9 169,345.9 169.5,345.9 170,345.9 170.5,345.9 171,345.9 171.5,345.9 172,345.9 172.5,345.9 173,345.9 173.5,345.9 174,345.9 174.5,345.9 175,345.9 175.5,345.9 176,345.9 176.5,345.9 177,345.9 177.5,345.9 178,345.9 178.5,345.9 179,345.9 179.5,345.9 180,345.9 180.5,345.9 181,345.9 181.5,345.9 182,345.9 182.5,345.9 183,345.9 183.5,345.9 184,345.9 184.5,345.9 185,345.9 185.5,345.9 186,345.9 186.5,345.9 187,345.9 187.5,345.9 188,345.9 188.5,345.9 189,345.9 189.5,345.9 190,345.9 190.5,345.9 191,345.9 191.5,345.9 192,345.9 192.5,345.9 193,345.9 193.5,345.9 194,345.9 194.5,345.9 195,345.9 L195,345.9 Z" fill="#d4143c"/><path d="M80,345.9 L80,345.9 80.5,345.9 81,345.9 81.5,345.9 82,345.9 82.5,345.9 83,345.9 83.5,345.9 84,345.9 84.5,345.9 85,345.9 85.5,345.9 86,345.9 86.5,345.9 87,345.9 87.5,345.9 88,345.9 88.5,345.9 89,345.9 89.5,345.9 90,345.9 90.5,345.9 91,345.9 91.5,345.9 92,345.9 92.5,345.9 93,345.9 93.5,345.9 94,345.9 94.5,345.9 95,345.9 95.5,345.9 96,345.9 96.5,345.9 97,345.9 97.5,345.9 98,345.9 98.5,345.9 99,345.9 99.5,345.9 100,345.9 100.5,345.9 101,345.9 101.5,345.9 102,345.9 102.5,345.9 103,345.9 103.5,345.9 104,345.9 104.5,345.9 105,345.9 105.5,345.9 106,345.9 106.5,345.9 107,345.9 107.5,345.9 108,345.9 108.5,345.9 109,345.9 109.5,345.9 110,345.9 110.5,345.9 111,345.9 111.5,345.9 112,345.9 112.5,345.9 113,345.9 113.5,345.9 114,345.9 114.5,345.9 115,345.9 115.5,345.9 116,345.9 116.5,345.9 117,345.9 117.5,345.9 118,345.9 118.5,345.9 119,345.9 119.5,345.9 120,345.9 120.5,345.9 121,345.9 121.5,345.9 122,345.9 122.5,345.9 123,345.9 123.5,345.9 124,345.9 124.5,345.9 125,345.9 125.5,345.9 126,345.9 126.5,345.9 127,345.9 127.5,345.9 128,345.9 128.5,345.9 129,345.9 129.5,345.9 130,345.9 130.5,345.9 131,345.9 131.5,345.9 132,345.9 132.5,345.9 133,345.9 133.5,345.9 134,345.9 134.5,345.9 135,345.9 135.5,345.9 136,345.9 136.5,345.9 137,345.9 137.5,345.9 138,345.9 138.5,345.9 139,345.9 139.5,345.89 140,345.89 140.5,345.89 141,345.88 141.5,345.87 142,345.86 142.5,345.85 143,345.83 143.5,345.8 144,345.76 144.5,345.72 145,345.66 145.5,345.59 146,345.49 146.5,345.38 147,345.24 147.5,345.07 148,344.87 148.5,344.63 149,344.35 149.5,344.02 150,343.66 150.5,343.24 151,342.78 151.5,342.28 152,341.74 152.5,341.17 153,340.57 153.5,339.96 154,339.34 154.5,338.73 155,338.14 155.5,337.59 156,337.08 156.5,336.64 157,336.27 157.5,335.99 158,335.8 158.5,335.71 159,335.72 159.5,335.83 160,336.04 160.5,336.34 161,336.72 161.5,337.18 162,337.7 162.5,338.26 163,338.85 163.5,339.47 164,340.08 164.5,340.7 165,341.29 165.5,341.85 166,342.39 166.5,342.88 167,343.33 167.5,343.73 168,344.09 168.5,344.41 169,344.68 169.5,344.91 170,345.11 170.5,345.27 171,345.41 171.5,345.51 172,345.6 172.5,345.67 173,345.73 173.5,345.77 174,345.81 174.5,345.83 175,345.85 175.5,345.86 176,345.87 176.5,345.88 177,345.89 177.5,345.89 178,345.89 178.5,345.9 179,345.9 179.5,345.9 180,345.9 180.5,345.9 181,345.9 181.5,345.9 182,345.9 182.5,345.9 183,345.9 183.5,345.9 184,345.9 184.5,345.9 185,345.9 185.5,345.9 186,345.9 186.5,345.9 187,345.9 187.5,345.9 188,345.9 188.5,345.9 189,345.9 189.5,345.9 190,345.9 190.5,345.9 191,345.9 191.5,345.9 192,345.9 192.5,345.9 193,345.9 193.5,345.9 194,345.9 194.5,345.9 195,345.9 L195,345.9 Z" fill="#d4143c"/></g>
<g stroke="#3a3a3a" stroke-width="1" fill="none">
<line x1="36.2" y1="203.4" x2="36.2" y2="345.9"/>
<line x1="32.4" y1="345.9" x2="199.8" y2="345.9"/>
<line x1="31.9" y1="345.9" x2="36.2" y2="345.9"/>
<line x1="33.4" y1="341.14" x2="36.2" y2="341.14"/>
<line x1="33.4" y1="336.38" x2="36.2" y2="336.38"/>
<line x1="33.4" y1="331.62" x2="36.2" y2="331.62"/>
<line x1="33.4" y1="326.86" x2="36.2" y2="326.86"/>
<line x1="31.9" y1="322.1" x2="36.2" y2="322.1"/>
<line x1="33.4" y1="317.34" x2="36.2" y2="317.34"/>
<line x1="33.4" y1="312.58" x2="36.2" y2="312.58"/>
<line x1="33.4" y1="307.82" x2="36.2" y2="307.82"/>
<line x1="33.4" y1="303.06" x2="36.2" y2="303.06"/>
<line x1="31.9" y1="298.3" x2="36.2" y2="298.3"/>
<line x1="33.4" y1="293.54" x2="36.2" y2="293.54"/>
<line x1="33.4" y1="288.78" x2="36.2" y2="288.78"/>
<line x1="33.4" y1="284.02" x2="36.2" y2="284.02"/>
<line x1="33.4" y1="279.26" x2="36.2" y2="279.26"/>
<line x1="31.9" y1="274.5" x2="36.2" y2="274.5"/>
<line x1="33.4" y1="269.74" x2="36.2" y2="269.74"/>
<line x1="33.4" y1="264.98" x2="36.2" y2="264.98"/>
<line x1="33.4" y1="260.22" x2="36.2" y2="260.22"/>
<line x1="33.4" y1="255.46" x2="36.2" y2="255.46"/>
<line x1="31.9" y1="250.7" x2="36.2" y2="250.7"/>
<line x1="33.4" y1="245.94" x2="36.2" y2="245.94"/>
<line x1="33.4" y1="241.18" x2="36.2" y2="241.18"/>
<line x1="33.4" y1="236.42" x2="36.2" y2="236.42"/>
<line x1="33.4" y1="231.66" x2="36.2" y2="231.66"/>
<line x1="31.9" y1="226.9" x2="36.2" y2="226.9"/>
<line x1="33.4" y1="222.14" x2="36.2" y2="222.14"/>
<line x1="33.4" y1="217.38" x2="36.2" y2="217.38"/>
<line x1="33.4" y1="212.62" x2="36.2" y2="212.62"/>
<line x1="33.4" y1="207.86" x2="36.2" y2="207.86"/>
<line x1="35.9" y1="345.9" x2="35.9" y2="350.6"/>
<line x1="42.48" y1="345.9" x2="42.48" y2="348.8"/>
<line x1="49.06" y1="345.9" x2="49.06" y2="348.8"/>
<line x1="55.64" y1="345.9" x2="55.64" y2="348.8"/>
<line x1="62.22" y1="345.9" x2="62.22" y2="348.8"/>
<line x1="68.8" y1="345.9" x2="68.8" y2="350.6"/>
<line x1="75.38" y1="345.9" x2="75.38" y2="348.8"/>
<line x1="81.96" y1="345.9" x2="81.96" y2="348.8"/>
<line x1="88.54" y1="345.9" x2="88.54" y2="348.8"/>
<line x1="95.12" y1="345.9" x2="95.12" y2="348.8"/>
<line x1="101.7" y1="345.9" x2="101.7" y2="350.6"/>
<line x1="108.28" y1="345.9" x2="108.28" y2="348.8"/>
<line x1="114.86" y1="345.9" x2="114.86" y2="348.8"/>
<line x1="121.44" y1="345.9" x2="121.44" y2="348.8"/>
<line x1="128.02" y1="345.9" x2="128.02" y2="348.8"/>
<line x1="134.6" y1="345.9" x2="134.6" y2="350.6"/>
<line x1="141.18" y1="345.9" x2="141.18" y2="348.8"/>
<line x1="147.76" y1="345.9" x2="147.76" y2="348.8"/>
<line x1="154.34" y1="345.9" x2="154.34" y2="348.8"/>
<line x1="160.92" y1="345.9" x2="160.92" y2="348.8"/>
<line x1="167.5" y1="345.9" x2="167.5" y2="350.6"/>
<line x1="174.08" y1="345.9" x2="174.08" y2="348.8"/>
<line x1="180.66" y1="345.9" x2="180.66" y2="348.8"/>
<line x1="187.24" y1="345.9" x2="187.24" y2="348.8"/>
<line x1="193.82" y1="345.9" x2="193.82" y2="348.8"/>
</g>
<g font-family='"Liberation Sans", sans-serif' font-size="9.6" fill="#222" stroke="#222" stroke-width="0.22">
<text transform="translate(30.3,325.12) scale(1,1.2)" text-anchor="end">200</text>
<text transform="translate(30.3,301.32) scale(1,1.2)" text-anchor="end">400</text>
<text transform="translate(30.3,277.52) scale(1,1.2)" text-anchor="end">600</text>
<text transform="translate(30.3,253.72) scale(1,1.2)" text-anchor="end">800</text>
<text transform="translate(30.3,229.92) scale(1,1.2)" text-anchor="end">1000</text>
<text transform="translate(68.8,360) scale(1,1.2)" text-anchor="middle">30</text>
<text transform="translate(101.7,360) scale(1,1.2)" text-anchor="middle">60</text>
<text transform="translate(134.6,360) scale(1,1.2)" text-anchor="middle">90</text>
<text transform="translate(167.5,360) scale(1,1.2)" text-anchor="middle">120</text>
<text transform="translate(200.41,360) scale(1,1.2)" text-anchor="middle">150</text>
</g>
<text x="131.7" y="370.3" font-family='"Liberation Sans", sans-serif' font-size="10" fill="#222" stroke="#222" stroke-width="0.22" text-anchor="middle">Channels(FL3-H)</text>
<text transform="translate(5.5,282.6) rotate(-90)" font-family='"Liberation Sans", sans-serif' font-size="10" fill="#222" stroke="#222" stroke-width="0.22" text-anchor="middle" dominant-baseline="central">Number</text>
<path d="M102,346.7 L99.4,351.3 L104.6,351.3 Z" fill="#111"/>
<path d="M159.4,346.7 L156.8,351.3 L162,351.3 Z" fill="#111"/>
<text x="17.3" y="204.5" font-family='"Liberation Sans", sans-serif' font-size="12.9" font-weight="bold" fill="#111">d</text>
<text x="41" y="206.8" font-family='"Liberation Sans", sans-serif' font-size="10.1" font-weight="bold" fill="#111">Spiperone</text>
<rect x="140.2" y="207.6" width="10.7" height="6.6" fill="#ff0000" stroke="none" stroke-width="0.6"/>
<text x="155.5" y="213.78" font-family='"Liberation Sans", sans-serif' font-size="6.9" fill="#2626dc" stroke="#2626dc" stroke-width="0.28">Dip G1</text>
<rect x="140.2" y="215.4" width="10.7" height="6.4" fill="#ff0000" stroke="none" stroke-width="0.6"/>
<text x="155.5" y="221.48" font-family='"Liberation Sans", sans-serif' font-size="6.9" fill="#2626dc" stroke="#2626dc" stroke-width="0.28">Dip G2</text>
<rect x="140.2" y="223.4" width="10.7" height="6.4" fill="url(#hatch2)" stroke="#666" stroke-width="0.6"/>
<text x="155.5" y="229.48" font-family='"Liberation Sans", sans-serif' font-size="6.9" fill="#2626dc" stroke="#2626dc" stroke-width="0.28">Dip S</text>
<text x="108.7" y="258.3" font-family='"Liberation Sans", sans-serif' font-size="6.94" fill="#2626dc" stroke="#2626dc" stroke-width="0.28">Diploid: 100.00 %</text>
<text x="114.9" y="266.1" font-family='"Liberation Sans", sans-serif' font-size="6.94" fill="#2626dc" stroke="#2626dc" stroke-width="0.28">Dip G1: 60.35 % at 59.62</text>
<text x="114.9" y="273.6" font-family='"Liberation Sans", sans-serif' font-size="6.94" fill="#2626dc" stroke="#2626dc" stroke-width="0.28">Dip G2: 9.60 % at 112.68</text>
<text x="114.9" y="281.7" font-family='"Liberation Sans", sans-serif' font-size="6.94" fill="#2626dc" stroke="#2626dc" stroke-width="0.28">Dip S: 30.06 %</text>
<text x="204.4" y="281.7" font-family='"Liberation Sans", sans-serif' font-size="6.94" fill="#2626dc" stroke="#2626dc" stroke-width="0.28" text-anchor="end">G2/G1: 1.89</text>
<text x="114.9" y="289.2" font-family='"Liberation Sans", sans-serif' font-size="6.94" fill="#2626dc" stroke="#2626dc" stroke-width="0.28">%CV: 4.40</text>
<defs><clipPath id="cse"><path d="M295,345.4 L295,345.4 295.5,345.4 296,345.4 296.5,345.4 297,345.4 297.5,345.4 298,345.4 298.5,345.4 299,345.4 299.5,345.4 300,345.4 300.5,345.4 301,345.4 301.5,345.4 302,345.4 302.5,345.4 303,345.4 303.5,345.4 304,345.4 304.5,345.4 305,345.4 305.5,345.4 306,345.4 306.5,345.4 307,345.4 307.5,345.4 308,345.4 308.5,345.4 309,345.4 309.5,345.4 310,345.4 310.5,345.4 311,345.4 311.5,345.4 312,345.4 312.5,345.4 313,345.4 313.5,345.4 314,345.4 314.5,345.4 315,345.4 315.5,345.4 316,345.39 316.5,345.39 317,345.37 317.5,345.34 318,345.28 318.5,345.18 319,345.01 319.5,344.77 320,344.45 320.5,344.04 321,343.56 321.5,343.05 322,342.54 322.5,342.06 323,341.65 323.5,341.33 324,341.09 324.5,340.92 325,340.82 325.5,340.76 326,340.73 326.5,340.71 327,340.71 327.5,340.7 328,340.7 328.5,340.7 329,340.7 329.5,340.7 330,340.7 330.5,340.7 331,340.7 331.5,340.7 332,340.7 332.5,340.7 333,340.7 333.5,340.7 334,340.7 334.5,340.7 335,340.7 335.5,340.7 336,340.7 336.5,340.7 337,340.7 337.5,340.7 338,340.7 338.5,340.7 339,340.7 339.5,340.7 340,340.7 340.5,340.7 341,340.7 341.5,340.7 342,340.7 342.5,340.7 343,340.7 343.5,340.7 344,340.7 344.5,340.7 345,340.7 345.5,340.7 346,340.7 346.5,340.7 347,340.7 347.5,340.7 348,340.7 348.5,340.7 349,340.7 349.5,340.7 350,340.7 350.5,340.7 351,340.7 351.5,340.7 352,340.7 352.5,340.7 353,340.7 353.5,340.7 354,340.7 354.5,340.7 355,340.7 355.5,340.7 356,340.7 356.5,340.7 357,340.7 357.5,340.7 358,340.7 358.5,340.7 359,340.7 359.5,340.7 360,340.7 360.5,340.7 361,340.7 361.5,340.7 362,340.7 362.5,340.7 363,340.7 363.5,340.7 364,340.7 364.5,340.7 365,340.7 365.5,340.7 366,340.7 366.5,340.7 367,340.7 367.5,340.7 368,340.7 368.5,340.7 369,340.7 369.5,340.71 370,340.71 370.5,340.72 371,340.72 371.5,340.74 372,340.75 372.5,340.78 373,340.81 373.5,340.85 374,340.9 374.5,340.97 375,341.06 375.5,341.17 376,341.29 376.5,341.45 377,341.62 377.5,341.82 378,342.03 378.5,342.27 379,342.52 379.5,342.78 380,343.05 380.5,343.32 381,343.58 381.5,343.83 382,344.07 382.5,344.28 383,344.48 383.5,344.65 384,344.81 384.5,344.93 385,345.04 385.5,345.13 386,345.2 386.5,345.25 387,345.29 387.5,345.32 388,345.35 388.5,345.36 389,345.38 389.5,345.38 390,345.39 390.5,345.39 391,345.4 391.5,345.4 392,345.4 392.5,345.4 393,345.4 393.5,345.4 394,345.4 394.5,345.4 395,345.4 395.5,345.4 396,345.4 396.5,345.4 397,345.4 397.5,345.4 398,345.4 398.5,345.4 399,345.4 399.5,345.4 400,345.4 400.5,345.4 401,345.4 401.5,345.4 402,345.4 402.5,345.4 403,345.4 403.5,345.4 404,345.4 404.5,345.4 405,345.4 405.5,345.4 406,345.4 406.5,345.4 407,345.4 407.5,345.4 408,345.4 408.5,345.4 409,345.4 409.5,345.4 410,345.4 L410,345.4 Z"/></clipPath></defs>
<path d="M295,345.4 L295,345.4 295.5,345.4 296,345.4 296.5,345.4 297,345.4 297.5,345.4 298,345.4 298.5,345.4 299,345.4 299.5,345.4 300,345.4 300.5,345.4 301,345.4 301.5,345.4 302,345.4 302.5,345.4 303,345.4 303.5,345.4 304,345.4 304.5,345.4 305,345.4 305.5,345.4 306,345.4 306.5,345.4 307,345.4 307.5,345.4 308,345.4 308.5,345.4 309,345.4 309.5,345.4 310,345.4 310.5,345.4 311,345.4 311.5,345.4 312,345.4 312.5,345.4 313,345.4 313.5,345.4 314,345.4 314.5,345.4 315,345.4 315.5,345.4 316,345.39 316.5,345.39 317,345.37 317.5,345.34 318,345.28 318.5,345.18 319,345.01 319.5,344.77 320,344.45 320.5,344.04 321,343.56 321.5,343.05 322,342.54 322.5,342.06 323,341.65 323.5,341.33 324,341.09 324.5,340.92 325,340.82 325.5,340.76 326,340.73 326.5,340.71 327,340.71 327.5,340.7 328,340.7 328.5,340.7 329,340.7 329.5,340.7 330,340.7 330.5,340.7 331,340.7 331.5,340.7 332,340.7 332.5,340.7 333,340.7 333.5,340.7 334,340.7 334.5,340.7 335,340.7 335.5,340.7 336,340.7 336.5,340.7 337,340.7 337.5,340.7 338,340.7 338.5,340.7 339,340.7 339.5,340.7 340,340.7 340.5,340.7 341,340.7 341.5,340.7 342,340.7 342.5,340.7 343,340.7 343.5,340.7 344,340.7 344.5,340.7 345,340.7 345.5,340.7 346,340.7 346.5,340.7 347,340.7 347.5,340.7 348,340.7 348.5,340.7 349,340.7 349.5,340.7 350,340.7 350.5,340.7 351,340.7 351.5,340.7 352,340.7 352.5,340.7 353,340.7 353.5,340.7 354,340.7 354.5,340.7 355,340.7 355.5,340.7 356,340.7 356.5,340.7 357,340.7 357.5,340.7 358,340.7 358.5,340.7 359,340.7 359.5,340.7 360,340.7 360.5,340.7 361,340.7 361.5,340.7 362,340.7 362.5,340.7 363,340.7 363.5,340.7 364,340.7 364.5,340.7 365,340.7 365.5,340.7 366,340.7 366.5,340.7 367,340.7 367.5,340.7 368,340.7 368.5,340.7 369,340.7 369.5,340.71 370,340.71 370.5,340.72 371,340.72 371.5,340.74 372,340.75 372.5,340.78 373,340.81 373.5,340.85 374,340.9 374.5,340.97 375,341.06 375.5,341.17 376,341.29 376.5,341.45 377,341.62 377.5,341.82 378,342.03 378.5,342.27 379,342.52 379.5,342.78 380,343.05 380.5,343.32 381,343.58 381.5,343.83 382,344.07 382.5,344.28 383,344.48 383.5,344.65 384,344.81 384.5,344.93 385,345.04 385.5,345.13 386,345.2 386.5,345.25 387,345.29 387.5,345.32 388,345.35 388.5,345.36 389,345.38 389.5,345.38 390,345.39 390.5,345.39 391,345.4 391.5,345.4 392,345.4 392.5,345.4 393,345.4 393.5,345.4 394,345.4 394.5,345.4 395,345.4 395.5,345.4 396,345.4 396.5,345.4 397,345.4 397.5,345.4 398,345.4 398.5,345.4 399,345.4 399.5,345.4 400,345.4 400.5,345.4 401,345.4 401.5,345.4 402,345.4 402.5,345.4 403,345.4 403.5,345.4 404,345.4 404.5,345.4 405,345.4 405.5,345.4 406,345.4 406.5,345.4 407,345.4 407.5,345.4 408,345.4 408.5,345.4 409,345.4 409.5,345.4 410,345.4 L410,345.4 Z" fill="url(#hatch)"/>
<path d="M310.4,345.52 311,345.13 311.6,344.48 312.2,343.43 312.8,341.81 313.4,339.37 314,335.87 314.6,331.03 315.2,324.58 315.8,316.35 316.4,306.29 317,294.56 317.6,281.52 318.2,267.8 318.8,254.25 319.4,241.84 320,231.58 320.6,224.35 321.2,220.81 321.8,221.25 322.4,225.58 323,233.35 323.6,243.81 324.2,256.07 324.8,269.16 325.4,282.2 326,294.45 326.6,305.37 327.2,314.65 327.8,322.17 328.4,328.01 329,332.36 329.6,335.46 330.2,337.59 330.8,339 331.4,339.9 332,340.45 332.6,340.77 333.2,340.96 333.8,341.06 334.4,341.11 335,341.14 335.6,341.16 336.2,341.16 336.8,341.17 337.4,341.17 338,341.17 338.6,341.17 339.2,341.17 339.8,341.17 340.4,341.17 341,341.17 341.6,341.17 342.2,341.17 342.8,341.17 343.4,341.17 344,341.17 344.6,341.17 345.2,341.17 345.8,341.17 346.4,341.17 347,341.17 347.6,341.17 348.2,341.17 348.8,341.17 349.4,341.17 350,341.17 350.6,341.16 351.2,341.16 351.8,341.16 352.4,341.16 353,341.16 353.6,341.16 354.2,341.15 354.8,341.15 355.4,341.15 356,341.14 356.6,341.13 357.2,341.13 357.8,341.12 358.4,341.1 359,341.09 359.6,341.07 360.2,341.05 360.8,341.02 361.4,340.99 362,340.96 362.6,340.92 363.2,340.87 363.8,340.82 364.4,340.76 365,340.69 365.6,340.61 366.2,340.52 366.8,340.41 367.4,340.3 368,340.17 368.6,340.03 369.2,339.87 369.8,339.69 370.4,339.5 371,339.28 371.6,339.04 372.2,338.78 372.8,338.49 373.4,338.19 374,337.87 374.6,337.53 375.2,337.18 375.8,336.83 376.4,336.47 377,336.13 377.6,335.8 378.2,335.5 378.8,335.22 379.4,334.98 380,334.78 380.6,334.63 381.2,334.53 381.8,334.52 382.4,334.61 383,334.78 383.6,335.06 384.2,335.43 384.8,335.88 385.4,336.41 386,337.01 386.6,337.66 387.2,338.35 387.8,339.06 388.4,339.77 389,340.48 389.6,341.17 390.2,341.82 390.8,342.43 391.4,342.99 392,343.49 392.6,343.93 393.2,344.32 393.8,344.65 394.4,344.93 395,345.16 395.6,345.35 396.2,345.51" fill="none" stroke="#9a9a9a" stroke-width="0.7"/>
<path d="M290,345.4 290.6,345.4 291.2,345.4 291.8,345.4 292.4,345.4 293,345.4 293.6,345.4 294.2,345.4 294.8,345.4 295.4,345.4 296,345.4 296.6,345.4 297.2,345.4 297.8,345.4 298.4,345.4 299,345.4 299.6,345.4 300.2,345.4 300.8,345.4 301.4,345.4 302,345.4 302.6,345.4 303.2,345.4 303.8,345.4 304.4,345.4 305,345.4 305.6,345.4 306.2,345.4 306.8,345.39 307.4,345.38 308,345.37 308.6,345.33 309.2,345.26 309.8,345.13 310.4,344.9 311,344.5 311.6,343.83 312.2,342.75 312.8,341.08 313.4,338.57 314,334.96 314.6,329.96 315.2,323.32 315.8,314.83 316.4,304.47 317,292.37 317.6,278.92 318.2,264.78 318.8,250.72 319.4,237.3 320,224.23 320.6,211.81 321.2,204.43 321.8,206.92 322.4,216.59 323,228.01 323.6,239.86 324.2,252.67 324.8,266.18 325.4,279.63 326,292.26 326.6,303.51 327.2,313.08 327.8,320.83 328.4,326.85 329,331.34 329.6,334.54 330.2,336.73 330.8,338.19 331.4,339.44 332,340.51 332.6,341.07 333.2,341.22 333.8,341.07 334.4,340.49 335,340 335.6,340.09 336.2,340.17 336.8,340.09 337.4,340.01 338,340.33 338.6,340.74 339.2,340.72 339.8,340.49 340.4,340.52 341,340.82 341.6,340.7 342.2,339.74 342.8,339.15 343.4,340.41 344,341.67 344.6,341.06 345.2,340.44 345.8,340.58 346.4,340.87 347,340.76 347.6,340.46 348.2,340.26 348.8,340.17 349.4,340.22 350,340.53 350.6,340.81 351.2,340.94 351.8,341.07 352.4,340.69 353,340.31 353.6,340.26 354.2,340.28 354.8,340.49 355.4,340.79 356,340.65 356.6,340.07 357.2,339.6 357.8,339.35 358.4,339.26 359,339.95 359.6,340.63 360.2,340.22 360.8,339.8 361.4,339.32 362,338.82 362.6,338.9 363.2,339.26 363.8,339.47 364.4,339.53 365,339.46 365.6,339.11 366.2,338.77 366.8,338.56 367.4,338.33 368,338.76 368.6,339.18 369.2,339.38 369.8,339.51 370.4,339.13 371,338.49 371.6,337.94 372.2,337.48 372.8,337.2 373.4,337.31 374,337.34 374.6,337.12 375.2,336.88 375.8,336.14 376.4,335.4 377,335.25 377.6,335.22 378.2,335.13 378.8,335.03 379.4,334.64 380,333.97 380.6,333.44 381.2,333.11 381.8,332.99 382.4,333.5 383,334.12 383.6,334.36 384.2,334.7 384.8,335.43 385.4,336.29 386,336.42 386.6,336.21 387.2,336.6 387.8,337.56 388.4,338.43 389,339.1 389.6,339.8 390.2,340.78 390.8,341.72 391.4,342.3 392,342.81 392.6,343.27 393.2,343.67 393.8,344.01 394.4,344.3 395,344.54 395.6,344.73 396.2,344.89 396.8,345.02 397.4,345.12 398,345.19 398.6,345.25 399.2,345.29 399.8,345.32 400.4,345.35 401,345.36 401.6,345.38 402.2,345.38 402.8,345.39 403.4,345.39 404,345.4 404.6,345.4 405.2,345.4 405.8,345.4 406.4,345.4 407,345.4 407.6,345.4 408.2,345.4 408.8,345.4 409.4,345.4 410,345.4" fill="none" stroke="#1a1a1a" stroke-width="0.85"/>
<path d="M295,345.4 L295,345.4 295.5,345.4 296,345.4 296.5,345.4 297,345.4 297.5,345.4 298,345.4 298.5,345.4 299,345.4 299.5,345.4 300,345.4 300.5,345.4 301,345.4 301.5,345.4 302,345.4 302.5,345.4 303,345.4 303.5,345.4 304,345.4 304.5,345.4 305,345.4 305.5,345.4 306,345.4 306.5,345.39 307,345.39 307.5,345.38 308,345.36 308.5,345.32 309,345.26 309.5,345.16 310,344.99 310.5,344.73 311,344.31 311.5,343.68 312,342.75 312.5,341.41 313,339.51 313.5,336.92 314,333.46 314.5,328.98 315,323.32 315.5,316.38 316,308.13 316.5,298.61 317,288.01 317.5,276.6 318,264.79 318.5,253.09 319,242.1 319.5,232.43 320,224.65 320.5,219.27 321,216.64 321.5,216.93 322,220.14 322.5,226.03 323,234.23 323.5,244.22 324,255.4 324.5,267.16 325,278.93 325.5,290.21 326,300.61 326.5,309.88 327,317.87 327.5,324.55 328,329.96 328.5,334.23 329,337.5 329.5,339.94 330,341.72 330.5,342.97 331,343.83 331.5,344.41 332,344.79 332.5,345.03 333,345.18 333.5,345.28 334,345.33 334.5,345.36 335,345.38 335.5,345.39 336,345.39 336.5,345.4 337,345.4 337.5,345.4 338,345.4 338.5,345.4 339,345.4 339.5,345.4 340,345.4 340.5,345.4 341,345.4 341.5,345.4 342,345.4 342.5,345.4 343,345.4 343.5,345.4 344,345.4 344.5,345.4 345,345.4 345.5,345.4 346,345.4 346.5,345.4 347,345.4 347.5,345.4 348,345.4 348.5,345.4 349,345.4 349.5,345.4 350,345.4 350.5,345.4 351,345.4 351.5,345.4 352,345.4 352.5,345.4 353,345.4 353.5,345.4 354,345.4 354.5,345.4 355,345.4 355.5,345.4 356,345.4 356.5,345.4 357,345.4 357.5,345.4 358,345.4 358.5,345.4 359,345.4 359.5,345.4 360,345.4 360.5,345.4 361,345.4 361.5,345.4 362,345.4 362.5,345.4 363,345.4 363.5,345.4 364,345.4 364.5,345.4 365,345.4 365.5,345.4 366,345.4 366.5,345.4 367,345.4 367.5,345.4 368,345.4 368.5,345.4 369,345.4 369.5,345.4 370,345.4 370.5,345.4 371,345.4 371.5,345.4 372,345.4 372.5,345.4 373,345.4 373.5,345.4 374,345.4 374.5,345.4 375,345.4 375.5,345.4 376,345.4 376.5,345.4 377,345.4 377.5,345.4 378,345.4 378.5,345.4 379,345.4 379.5,345.4 380,345.4 380.5,345.4 381,345.4 381.5,345.4 382,345.4 382.5,345.4 383,345.4 383.5,345.4 384,345.4 384.5,345.4 385,345.4 385.5,345.4 386,345.4 386.5,345.4 387,345.4 387.5,345.4 388,345.4 388.5,345.4 389,345.4 389.5,345.4 390,345.4 390.5,345.4 391,345.4 391.5,345.4 392,345.4 392.5,345.4 393,345.4 393.5,345.4 394,345.4 394.5,345.4 395,345.4 395.5,345.4 396,345.4 396.5,345.4 397,345.4 397.5,345.4 398,345.4 398.5,345.4 399,345.4 399.5,345.4 400,345.4 400.5,345.4 401,345.4 401.5,345.4 402,345.4 402.5,345.4 403,345.4 403.5,345.4 404,345.4 404.5,345.4 405,345.4 405.5,345.4 406,345.4 406.5,345.4 407,345.4 407.5,345.4 408,345.4 408.5,345.4 409,345.4 409.5,345.4 410,345.4 L410,345.4 Z" fill="#ff0000"/>
<path d="M295,345.4 L295,345.4 295.5,345.4 296,345.4 296.5,345.4 297,345.4 297.5,345.4 298,345.4 298.5,345.4 299,345.4 299.5,345.4 300,345.4 300.5,345.4 301,345.4 301.5,345.4 302,345.4 302.5,345.4 303,345.4 303.5,345.4 304,345.4 304.5,345.4 305,345.4 305.5,345.4 306,345.4 306.5,345.4 307,345.4 307.5,345.4 308,345.4 308.5,345.4 309,345.4 309.5,345.4 310,345.4 310.5,345.4 311,345.4 311.5,345.4 312,345.4 312.5,345.4 313,345.4 313.5,345.4 314,345.4 314.5,345.4 315,345.4 315.5,345.4 316,345.4 316.5,345.4 317,345.4 317.5,345.4 318,345.4 318.5,345.4 319,345.4 319.5,345.4 320,345.4 320.5,345.4 321,345.4 321.5,345.4 322,345.4 322.5,345.4 323,345.4 323.5,345.4 324,345.4 324.5,345.4 325,345.4 325.5,345.4 326,345.4 326.5,345.4 327,345.4 327.5,345.4 328,345.4 328.5,345.4 329,345.4 329.5,345.4 330,345.4 330.5,345.4 331,345.4 331.5,345.4 332,345.4 332.5,345.4 333,345.4 333.5,345.4 334,345.4 334.5,345.4 335,345.4 335.5,345.4 336,345.4 336.5,345.4 337,345.4 337.5,345.4 338,345.4 338.5,345.4 339,345.4 339.5,345.4 340,345.4 340.5,345.4 341,345.4 341.5,345.4 342,345.4 342.5,345.4 343,345.4 343.5,345.4 344,345.4 344.5,345.4 345,345.4 345.5,345.4 346,345.4 346.5,345.4 347,345.4 347.5,345.4 348,345.4 348.5,345.4 349,345.4 349.5,345.4 350,345.4 350.5,345.4 351,345.4 351.5,345.4 352,345.4 352.5,345.4 353,345.4 353.5,345.4 354,345.4 354.5,345.4 355,345.4 355.5,345.4 356,345.4 356.5,345.4 357,345.4 357.5,345.4 358,345.4 358.5,345.4 359,345.4 359.5,345.4 360,345.4 360.5,345.4 361,345.4 361.5,345.4 362,345.4 362.5,345.4 363,345.4 363.5,345.4 364,345.4 364.5,345.39 365,345.39 365.5,345.39 366,345.38 366.5,345.37 367,345.36 367.5,345.35 368,345.33 368.5,345.31 369,345.28 369.5,345.25 370,345.2 370.5,345.15 371,345.07 371.5,344.99 372,344.88 372.5,344.76 373,344.61 373.5,344.44 374,344.24 374.5,344.01 375,343.75 375.5,343.45 376,343.13 376.5,342.78 377,342.41 377.5,342.01 378,341.6 378.5,341.17 379,340.74 379.5,340.31 380,339.9 380.5,339.5 381,339.13 381.5,338.81 382,338.53 382.5,338.3 383,338.14 383.5,338.03 384,338 384.5,338.03 385,338.14 385.5,338.3 386,338.53 386.5,338.81 387,339.13 387.5,339.5 388,339.9 388.5,340.31 389,340.74 389.5,341.17 390,341.6 390.5,342.01 391,342.41 391.5,342.78 392,343.13 392.5,343.45 393,343.75 393.5,344.01 394,344.24 394.5,344.44 395,344.61 395.5,344.76 396,344.88 396.5,344.99 397,345.07 397.5,345.15 398,345.2 398.5,345.25 399,345.28 399.5,345.31 400,345.33 400.5,345.35 401,345.36 401.5,345.37 402,345.38 402.5,345.39 403,345.39 403.5,345.39 404,345.4 404.5,345.4 405,345.4 405.5,345.4 406,345.4 406.5,345.4 407,345.4 407.5,345.4 408,345.4 408.5,345.4 409,345.4 409.5,345.4 410,345.4 L410,345.4 Z" fill="#f00010"/>
<g clip-path="url(#cse)"><path d="M295,345.4 L295,345.4 295.5,345.4 296,345.4 296.5,345.4 297,345.4 297.5,345.4 298,345.4 298.5,345.4 299,345.4 299.5,345.4 300,345.4 300.5,345.4 301,345.4 301.5,345.4 302,345.4 302.5,345.4 303,345.4 303.5,345.4 304,345.4 304.5,345.4 305,345.4 305.5,345.4 306,345.4 306.5,345.39 307,345.39 307.5,345.38 308,345.36 308.5,345.32 309,345.26 309.5,345.16 310,344.99 310.5,344.73 311,344.31 311.5,343.68 312,342.75 312.5,341.41 313,339.51 313.5,336.92 314,333.46 314.5,328.98 315,323.32 315.5,316.38 316,308.13 316.5,298.61 317,288.01 317.5,276.6 318,264.79 318.5,253.09 319,242.1 319.5,232.43 320,224.65 320.5,219.27 321,216.64 321.5,216.93 322,220.14 322.5,226.03 323,234.23 323.5,244.22 324,255.4 324.5,267.16 325,278.93 325.5,290.21 326,300.61 326.5,309.88 327,317.87 327.5,324.55 328,329.96 328.5,334.23 329,337.5 329.5,339.94 330,341.72 330.5,342.97 331,343.83 331.5,344.41 332,344.79 332.5,345.03 333,345.18 333.5,345.28 334,345.33 334.5,345.36 335,345.38 335.5,345.39 336,345.39 336.5,345.4 337,345.4 337.5,345.4 338,345.4 338.5,345.4 339,345.4 339.5,345.4 340,345.4 340.5,345.4 341,345.4 341.5,345.4 342,345.4 342.5,345.4 343,345.4 343.5,345.4 344,345.4 344.5,345.4 345,345.4 345.5,345.4 346,345.4 346.5,345.4 347,345.4 347.5,345.4 348,345.4 348.5,345.4 349,345.4 349.5,345.4 350,345.4 350.5,345.4 351,345.4 351.5,345.4 352,345.4 352.5,345.4 353,345.4 353.5,345.4 354,345.4 354.5,345.4 355,345.4 355.5,345.4 356,345.4 356.5,345.4 357,345.4 357.5,345.4 358,345.4 358.5,345.4 359,345.4 359.5,345.4 360,345.4 360.5,345.4 361,345.4 361.5,345.4 362,345.4 362.5,345.4 363,345.4 363.5,345.4 364,345.4 364.5,345.4 365,345.4 365.5,345.4 366,345.4 366.5,345.4 367,345.4 367.5,345.4 368,345.4 368.5,345.4 369,345.4 369.5,345.4 370,345.4 370.5,345.4 371,345.4 371.5,345.4 372,345.4 372.5,345.4 373,345.4 373.5,345.4 374,345.4 374.5,345.4 375,345.4 375.5,345.4 376,345.4 376.5,345.4 377,345.4 377.5,345.4 378,345.4 378.5,345.4 379,345.4 379.5,345.4 380,345.4 380.5,345.4 381,345.4 381.5,345.4 382,345.4 382.5,345.4 383,345.4 383.5,345.4 384,345.4 384.5,345.4 385,345.4 385.5,345.4 386,345.4 386.5,345.4 387,345.4 387.5,345.4 388,345.4 388.5,345.4 389,345.4 389.5,345.4 390,345.4 390.5,345.4 391,345.4 391.5,345.4 392,345.4 392.5,345.4 393,345.4 393.5,345.4 394,345.4 394.5,345.4 395,345.4 395.5,345.4 396,345.4 396.5,345.4 397,345.4 397.5,345.4 398,345.4 398.5,345.4 399,345.4 399.5,345.4 400,345.4 400.5,345.4 401,345.4 401.5,345.4 402,345.4 402.5,345.4 403,345.4 403.5,345.4 404,345.4 404.5,345.4 405,345.4 405.5,345.4 406,345.4 406.5,345.4 407,345.4 407.5,345.4 408,345.4 408.5,345.4 409,345.4 409.5,345.4 410,345.4 L410,345.4 Z" fill="#d4143c"/><path d="M295,345.4 L295,345.4 295.5,345.4 296,345.4 296.5,345.4 297,345.4 297.5,345.4 298,345.4 298.5,345.4 299,345.4 299.5,345.4 300,345.4 300.5,345.4 301,345.4 301.5,345.4 302,345.4 302.5,345.4 303,345.4 303.5,345.4 304,345.4 304.5,345.4 305,345.4 305.5,345.4 306,345.4 306.5,345.4 307,345.4 307.5,345.4 308,345.4 308.5,345.4 309,345.4 309.5,345.4 310,345.4 310.5,345.4 311,345.4 311.5,345.4 312,345.4 312.5,345.4 313,345.4 313.5,345.4 314,345.4 314.5,345.4 315,345.4 315.5,345.4 316,345.4 316.5,345.4 317,345.4 317.5,345.4 318,345.4 318.5,345.4 319,345.4 319.5,345.4 320,345.4 320.5,345.4 321,345.4 321.5,345.4 322,345.4 322.5,345.4 323,345.4 323.5,345.4 324,345.4 324.5,345.4 325,345.4 325.5,345.4 326,345.4 326.5,345.4 327,345.4 327.5,345.4 328,345.4 328.5,345.4 329,345.4 329.5,345.4 330,345.4 330.5,345.4 331,345.4 331.5,345.4 332,345.4 332.5,345.4 333,345.4 333.5,345.4 334,345.4 334.5,345.4 335,345.4 335.5,345.4 336,345.4 336.5,345.4 337,345.4 337.5,345.4 338,345.4 338.5,345.4 339,345.4 339.5,345.4 340,345.4 340.5,345.4 341,345.4 341.5,345.4 342,345.4 342.5,345.4 343,345.4 343.5,345.4 344,345.4 344.5,345.4 345,345.4 345.5,345.4 346,345.4 346.5,345.4 347,345.4 347.5,345.4 348,345.4 348.5,345.4 349,345.4 349.5,345.4 350,345.4 350.5,345.4 351,345.4 351.5,345.4 352,345.4 352.5,345.4 353,345.4 353.5,345.4 354,345.4 354.5,345.4 355,345.4 355.5,345.4 356,345.4 356.5,345.4 357,345.4 357.5,345.4 358,345.4 358.5,345.4 359,345.4 359.5,345.4 360,345.4 360.5,345.4 361,345.4 361.5,345.4 362,345.4 362.5,345.4 363,345.4 363.5,345.4 364,345.4 364.5,345.39 365,345.39 365.5,345.39 366,345.38 366.5,345.37 367,345.36 367.5,345.35 368,345.33 368.5,345.31 369,345.28 369.5,345.25 370,345.2 370.5,345.15 371,345.07 371.5,344.99 372,344.88 372.5,344.76 373,344.61 373.5,344.44 374,344.24 374.5,344.01 375,343.75 375.5,343.45 376,343.13 376.5,342.78 377,342.41 377.5,342.01 378,341.6 378.5,341.17 379,340.74 379.5,340.31 380,339.9 380.5,339.5 381,339.13 381.5,338.81 382,338.53 382.5,338.3 383,338.14 383.5,338.03 384,338 384.5,338.03 385,338.14 385.5,338.3 386,338.53 386.5,338.81 387,339.13 387.5,339.5 388,339.9 388.5,340.31 389,340.74 389.5,341.17 390,341.6 390.5,342.01 391,342.41 391.5,342.78 392,343.13 392.5,343.45 393,343.75 393.5,344.01 394,344.24 394.5,344.44 395,344.61 395.5,344.76 396,344.88 396.5,344.99 397,345.07 397.5,345.15 398,345.2 398.5,345.25 399,345.28 399.5,345.31 400,345.33 400.5,345.35 401,345.36 401.5,345.37 402,345.38 402.5,345.39 403,345.39 403.5,345.39 404,345.4 404.5,345.4 405,345.4 405.5,345.4 406,345.4 406.5,345.4 407,345.4 407.5,345.4 408,345.4 408.5,345.4 409,345.4 409.5,345.4 410,345.4 L410,345.4 Z" fill="#d4143c"/></g>
<g stroke="#3a3a3a" stroke-width="1" fill="none">
<line x1="250.5" y1="203.4" x2="250.5" y2="345.4"/>
<line x1="246.9" y1="345.4" x2="412.9" y2="345.4"/>
<line x1="246.2" y1="345.4" x2="250.5" y2="345.4"/>
<line x1="247.7" y1="338.91" x2="250.5" y2="338.91"/>
<line x1="247.7" y1="332.42" x2="250.5" y2="332.42"/>
<line x1="247.7" y1="325.94" x2="250.5" y2="325.94"/>
<line x1="247.7" y1="319.45" x2="250.5" y2="319.45"/>
<line x1="246.2" y1="312.96" x2="250.5" y2="312.96"/>
<line x1="247.7" y1="306.47" x2="250.5" y2="306.47"/>
<line x1="247.7" y1="299.98" x2="250.5" y2="299.98"/>
<line x1="247.7" y1="293.5" x2="250.5" y2="293.5"/>
<line x1="247.7" y1="287.01" x2="250.5" y2="287.01"/>
<line x1="246.2" y1="280.52" x2="250.5" y2="280.52"/>
<line x1="247.7" y1="274.03" x2="250.5" y2="274.03"/>
<line x1="247.7" y1="267.54" x2="250.5" y2="267.54"/>
<line x1="247.7" y1="261.06" x2="250.5" y2="261.06"/>
<line x1="247.7" y1="254.57" x2="250.5" y2="254.57"/>
<line x1="246.2" y1="248.08" x2="250.5" y2="248.08"/>
<line x1="247.7" y1="241.59" x2="250.5" y2="241.59"/>
<line x1="247.7" y1="235.1" x2="250.5" y2="235.1"/>
<line x1="247.7" y1="228.62" x2="250.5" y2="228.62"/>
<line x1="247.7" y1="222.13" x2="250.5" y2="222.13"/>
<line x1="246.2" y1="215.64" x2="250.5" y2="215.64"/>
<line x1="247.7" y1="209.15" x2="250.5" y2="209.15"/>
<line x1="250.4" y1="345.4" x2="250.4" y2="350.1"/>
<line x1="256.88" y1="345.4" x2="256.88" y2="348.3"/>
<line x1="263.36" y1="345.4" x2="263.36" y2="348.3"/>
<line x1="269.84" y1="345.4" x2="269.84" y2="348.3"/>
<line x1="276.32" y1="345.4" x2="276.32" y2="348.3"/>
<line x1="282.8" y1="345.4" x2="282.8" y2="350.1"/>
<line x1="289.28" y1="345.4" x2="289.28" y2="348.3"/>
<line x1="295.76" y1="345.4" x2="295.76" y2="348.3"/>
<line x1="302.24" y1="345.4" x2="302.24" y2="348.3"/>
<line x1="308.72" y1="345.4" x2="308.72" y2="348.3"/>
<line x1="315.2" y1="345.4" x2="315.2" y2="350.1"/>
<line x1="321.68" y1="345.4" x2="321.68" y2="348.3"/>
<line x1="328.16" y1="345.4" x2="328.16" y2="348.3"/>
<line x1="334.64" y1="345.4" x2="334.64" y2="348.3"/>
<line x1="341.12" y1="345.4" x2="341.12" y2="348.3"/>
<line x1="347.6" y1="345.4" x2="347.6" y2="350.1"/>
<line x1="354.08" y1="345.4" x2="354.08" y2="348.3"/>
<line x1="360.56" y1="345.4" x2="360.56" y2="348.3"/>
<line x1="367.04" y1="345.4" x2="367.04" y2="348.3"/>
<line x1="373.52" y1="345.4" x2="373.52" y2="348.3"/>
<line x1="380" y1="345.4" x2="380" y2="350.1"/>
<line x1="386.48" y1="345.4" x2="386.48" y2="348.3"/>
<line x1="392.96" y1="345.4" x2="392.96" y2="348.3"/>
<line x1="399.44" y1="345.4" x2="399.44" y2="348.3"/>
<line x1="405.92" y1="345.4" x2="405.92" y2="348.3"/>
<line x1="412.4" y1="345.4" x2="412.4" y2="350.1"/>
</g>
<g font-family='"Liberation Sans", sans-serif' font-size="9.6" fill="#222" stroke="#222" stroke-width="0.22">
<text transform="translate(245.9,315.98) scale(1,1.2)" text-anchor="end">400</text>
<text transform="translate(245.9,283.54) scale(1,1.2)" text-anchor="end">800</text>
<text transform="translate(245.9,251.1) scale(1,1.2)" text-anchor="end">1200</text>
<text transform="translate(245.9,218.66) scale(1,1.2)" text-anchor="end">1600</text>
<text transform="translate(282.8,359.3) scale(1,1.2)" text-anchor="middle">30</text>
<text transform="translate(315.2,359.3) scale(1,1.2)" text-anchor="middle">60</text>
<text transform="translate(347.6,359.3) scale(1,1.2)" text-anchor="middle">90</text>
<text transform="translate(380,359.3) scale(1,1.2)" text-anchor="middle">120</text>
<text transform="translate(412.4,359.3) scale(1,1.2)" text-anchor="middle">150</text>
</g>
<text x="345.1" y="370.5" font-family='"Liberation Sans", sans-serif' font-size="10" fill="#222" stroke="#222" stroke-width="0.22" text-anchor="middle">Channels(FL3-H)</text>
<text transform="translate(221.8,294.9) rotate(-90)" font-family='"Liberation Sans", sans-serif' font-size="10" fill="#222" stroke="#222" stroke-width="0.22" text-anchor="middle" dominant-baseline="central">Number</text>
<path d="M321.1,346.2 L318.5,350.8 L323.7,350.8 Z" fill="#111"/>
<path d="M385.2,346.2 L382.6,350.8 L387.8,350.8 Z" fill="#111"/>
<text x="234.2" y="201.9" font-family='"Liberation Sans", sans-serif' font-size="12.9" font-weight="bold" fill="#111">e</text>
<text x="258.3" y="206.9" font-family='"Liberation Sans", sans-serif' font-size="10.1" font-weight="bold" fill="#111">CPA</text>
<rect x="349.1" y="207.6" width="10.4" height="6.6" fill="#ff0000" stroke="none" stroke-width="0.6"/>
<text x="364.1" y="213.82" font-family='"Liberation Sans", sans-serif' font-size="7" fill="#2626dc" stroke="#2626dc" stroke-width="0.28">Dip G1</text>
<rect x="349.1" y="215.4" width="10.4" height="6.4" fill="#ff0000" stroke="none" stroke-width="0.6"/>
<text x="364.1" y="221.52" font-family='"Liberation Sans", sans-serif' font-size="7" fill="#2626dc" stroke="#2626dc" stroke-width="0.28">Dip G2</text>
<rect x="349.1" y="223.4" width="10.4" height="6.4" fill="url(#hatch2)" stroke="#666" stroke-width="0.6"/>
<text x="364.1" y="229.52" font-family='"Liberation Sans", sans-serif' font-size="7" fill="#2626dc" stroke="#2626dc" stroke-width="0.28">Dip S</text>
<text x="326.9" y="258.72" font-family='"Liberation Sans", sans-serif' font-size="7" fill="#2626dc" stroke="#2626dc" stroke-width="0.28">Diploid: 100.00 %</text>
<text x="332.6" y="266.32" font-family='"Liberation Sans", sans-serif' font-size="7" fill="#2626dc" stroke="#2626dc" stroke-width="0.28">Dip G1: 69.71 % at 65.33</text>
<text x="332.6" y="274.32" font-family='"Liberation Sans", sans-serif' font-size="7" fill="#2626dc" stroke="#2626dc" stroke-width="0.28">Dip G2: 7.64 % at 123.47</text>
<text x="332.6" y="282.12" font-family='"Liberation Sans", sans-serif' font-size="7" fill="#2626dc" stroke="#2626dc" stroke-width="0.28">Dip S: 22.65 %</text>
<text x="424.4" y="282.12" font-family='"Liberation Sans", sans-serif' font-size="7" fill="#2626dc" stroke="#2626dc" stroke-width="0.28" text-anchor="end">G2/G1: 1.89</text>
<text x="332.6" y="289.72" font-family='"Liberation Sans", sans-serif' font-size="7" fill="#2626dc" stroke="#2626dc" stroke-width="0.28">%CV: 4.30</text>
<g stroke="#111" stroke-width="1.6" fill="none">
<line x1="459.8" y1="215.5" x2="459.8" y2="350.2"/>
<line x1="459.2" y1="349.6" x2="660.4" y2="349.6"/>
<line x1="455.8" y1="349.6" x2="459.8" y2="349.6"/>
<line x1="455.8" y1="316.24" x2="459.8" y2="316.24"/>
<line x1="455.8" y1="282.88" x2="459.8" y2="282.88"/>
<line x1="455.8" y1="249.52" x2="459.8" y2="249.52"/>
<line x1="455.8" y1="216.16" x2="459.8" y2="216.16"/>
<line x1="493" y1="349.6" x2="493" y2="353.2"/>
<line x1="559.8" y1="349.6" x2="559.8" y2="353.2"/>
<line x1="626.3" y1="349.6" x2="626.3" y2="353.2"/>
</g>
<g font-family='"Liberation Sans", sans-serif' font-size="9.6" font-weight="bold" fill="#111" text-anchor="end">
<text transform="translate(454.2,352.8) scale(1,1.12)">0</text>
<text transform="translate(454.2,319.44) scale(1,1.12)">20</text>
<text transform="translate(454.2,286.08) scale(1,1.12)">40</text>
<text transform="translate(454.2,252.72) scale(1,1.12)">60</text>
<text transform="translate(454.2,219.36) scale(1,1.12)">80</text>
</g>
<line x1="469.55" y1="282.55" x2="469.55" y2="274.04" stroke="#111" stroke-width="1.2"/>
<line x1="467.35" y1="274.04" x2="471.75" y2="274.04" stroke="#111" stroke-width="1.2"/>
<rect x="465.45" y="282.85" width="8.2" height="66.75" rx="0.8" fill="#ffffff" stroke="#111" stroke-width="1.9"/>
<line x1="481.15" y1="249.85" x2="481.15" y2="248.85" stroke="#111" stroke-width="1.2"/>
<line x1="478.95" y1="248.85" x2="483.35" y2="248.85" stroke="#111" stroke-width="1.2"/>
<rect x="477.05" y="250.15" width="8.2" height="99.45" rx="0.8" fill="#000000" stroke="#000" stroke-width="1.9"/>
<line x1="492.75" y1="243.35" x2="492.75" y2="238.68" stroke="#111" stroke-width="1.2"/>
<line x1="490.55" y1="238.68" x2="494.95" y2="238.68" stroke="#111" stroke-width="1.2"/>
<rect x="488.65" y="243.65" width="8.2" height="105.95" rx="0.8" fill="#f04848" stroke="#555" stroke-width="1.9"/>
<line x1="504.35" y1="250.85" x2="504.35" y2="249.85" stroke="#111" stroke-width="1.2"/>
<line x1="502.15" y1="249.85" x2="506.55" y2="249.85" stroke="#111" stroke-width="1.2"/>
<rect x="500.25" y="251.15" width="8.2" height="98.45" rx="0.8" fill="#8c8cf0" stroke="#0a0a40" stroke-width="1.9"/>
<line x1="515.95" y1="231.51" x2="515.95" y2="229.5" stroke="#111" stroke-width="1.2"/>
<line x1="513.75" y1="229.5" x2="518.15" y2="229.5" stroke="#111" stroke-width="1.2"/>
<rect x="511.85" y="231.81" width="8.2" height="117.79" rx="0.8" fill="#22e022" stroke="#1a4a1a" stroke-width="1.9"/>
<line x1="536.85" y1="266.2" x2="536.85" y2="260.2" stroke="#111" stroke-width="1.2"/>
<line x1="534.65" y1="260.2" x2="539.05" y2="260.2" stroke="#111" stroke-width="1.2"/>
<rect x="532.75" y="266.5" width="8.2" height="83.1" rx="0.8" fill="#ffffff" stroke="#111" stroke-width="1.9"/>
<line x1="548.4" y1="301.9" x2="548.4" y2="301.23" stroke="#111" stroke-width="1.2"/>
<line x1="546.2" y1="301.23" x2="550.6" y2="301.23" stroke="#111" stroke-width="1.2"/>
<rect x="544.3" y="302.2" width="8.2" height="47.4" rx="0.8" fill="#000000" stroke="#000" stroke-width="1.9"/>
<line x1="559.95" y1="303.4" x2="559.95" y2="301.06" stroke="#111" stroke-width="1.2"/>
<line x1="557.75" y1="301.06" x2="562.15" y2="301.06" stroke="#111" stroke-width="1.2"/>
<rect x="555.85" y="303.7" width="8.2" height="45.9" rx="0.8" fill="#f04848" stroke="#555" stroke-width="1.9"/>
<line x1="571.5" y1="299.56" x2="571.5" y2="298.56" stroke="#111" stroke-width="1.2"/>
<line x1="569.3" y1="298.56" x2="573.7" y2="298.56" stroke="#111" stroke-width="1.2"/>
<rect x="567.4" y="299.86" width="8.2" height="49.74" rx="0.8" fill="#8c8cf0" stroke="#0a0a40" stroke-width="1.9"/>
<line x1="583.05" y1="312.57" x2="583.05" y2="311.9" stroke="#111" stroke-width="1.2"/>
<line x1="580.85" y1="311.9" x2="585.25" y2="311.9" stroke="#111" stroke-width="1.2"/>
<rect x="578.95" y="312.87" width="8.2" height="36.73" rx="0.8" fill="#22e022" stroke="#1a4a1a" stroke-width="1.9"/>
<line x1="603.05" y1="334.09" x2="603.05" y2="330.58" stroke="#111" stroke-width="1.2"/>
<line x1="600.85" y1="330.58" x2="605.25" y2="330.58" stroke="#111" stroke-width="1.2"/>
<rect x="598.95" y="334.39" width="8.2" height="15.21" rx="0.8" fill="#ffffff" stroke="#111" stroke-width="1.9"/>
<line x1="614.7" y1="328.75" x2="614.7" y2="328.08" stroke="#111" stroke-width="1.2"/>
<line x1="612.5" y1="328.08" x2="616.9" y2="328.08" stroke="#111" stroke-width="1.2"/>
<rect x="610.6" y="329.05" width="8.2" height="20.55" rx="0.8" fill="#000000" stroke="#000" stroke-width="1.9"/>
<line x1="626.35" y1="335.26" x2="626.35" y2="333.92" stroke="#111" stroke-width="1.2"/>
<line x1="624.15" y1="333.92" x2="628.55" y2="333.92" stroke="#111" stroke-width="1.2"/>
<rect x="622.25" y="335.56" width="8.2" height="14.04" rx="0.8" fill="#f04848" stroke="#555" stroke-width="1.9"/>
<line x1="638" y1="331.75" x2="638" y2="329.58" stroke="#111" stroke-width="1.2"/>
<line x1="635.8" y1="329.58" x2="640.2" y2="329.58" stroke="#111" stroke-width="1.2"/>
<rect x="633.9" y="332.05" width="8.2" height="17.55" rx="0.8" fill="#8c8cf0" stroke="#0a0a40" stroke-width="1.9"/>
<line x1="649.65" y1="337.59" x2="649.65" y2="336.92" stroke="#111" stroke-width="1.2"/>
<line x1="647.45" y1="336.92" x2="651.85" y2="336.92" stroke="#111" stroke-width="1.2"/>
<rect x="645.55" y="337.89" width="8.2" height="11.71" rx="0.8" fill="#22e022" stroke="#1a4a1a" stroke-width="1.9"/>
<path d="M468.3,243.8 L468.3,241.8 Q468.3,241 469.1,241 L481.8,241 Q482.6,241 482.6,241.8 L482.6,243.8" fill="none" stroke="#111" stroke-width="1.8"/>
<polygon points="473.55,234.8 474.17,236.45 475.93,236.53 474.55,237.62 475.02,239.32 473.55,238.35 472.08,239.32 472.55,237.62 471.17,236.53 472.93,236.45" fill="#222"/>
<polygon points="477.85,234.8 478.47,236.45 480.23,236.53 478.85,237.62 479.32,239.32 477.85,238.35 476.38,239.32 476.85,237.62 475.47,236.53 477.23,236.45" fill="#222"/>
<path d="M468.3,235.3 L468.3,233.3 Q468.3,232.5 469.1,232.5 L492.4,232.5 Q493.2,232.5 493.2,233.3 L493.2,235.3" fill="none" stroke="#111" stroke-width="1.8"/>
<polygon points="478.55,225.4 479.17,227.05 480.93,227.13 479.55,228.22 480.02,229.92 478.55,228.95 477.08,229.92 477.55,228.22 476.17,227.13 477.93,227.05" fill="#222"/>
<polygon points="482.85,225.4 483.47,227.05 485.23,227.13 483.85,228.22 484.32,229.92 482.85,228.95 481.38,229.92 481.85,228.22 480.47,227.13 482.23,227.05" fill="#222"/>
<path d="M468.3,226.1 L468.3,224.1 Q468.3,223.3 469.1,223.3 L504.5,223.3 Q505.3,223.3 505.3,224.1 L505.3,226.1" fill="none" stroke="#111" stroke-width="1.8"/>
<polygon points="485.05,215.9 485.67,217.55 487.43,217.63 486.05,218.72 486.52,220.42 485.05,219.45 483.58,220.42 484.05,218.72 482.67,217.63 484.43,217.55" fill="#222"/>
<polygon points="489.35,215.9 489.97,217.55 491.73,217.63 490.35,218.72 490.82,220.42 489.35,219.45 487.88,220.42 488.35,218.72 486.97,217.63 488.73,217.55" fill="#222"/>
<path d="M468.3,216 L468.3,214 Q468.3,213.2 469.1,213.2 L515.1,213.2 Q515.9,213.2 515.9,214 L515.9,216" fill="none" stroke="#111" stroke-width="1.8"/>
<polygon points="486.4,203.9 487.02,205.55 488.78,205.63 487.4,206.72 487.87,208.42 486.4,207.45 484.93,208.42 485.4,206.72 484.02,205.63 485.78,205.55" fill="#222"/>
<polygon points="490.7,203.9 491.32,205.55 493.08,205.63 491.7,206.72 492.17,208.42 490.7,207.45 489.23,208.42 489.7,206.72 488.32,205.63 490.08,205.55" fill="#222"/>
<polygon points="495,203.9 495.62,205.55 497.38,205.63 496,206.72 496.47,208.42 495,207.45 493.53,208.42 494,206.72 492.62,205.63 494.38,205.55" fill="#222"/>
<path d="M535.6,256.7 L535.6,254.7 Q535.6,253.9 536.4,253.9 L549.5,253.9 Q550.3,253.9 550.3,254.7 L550.3,256.7" fill="none" stroke="#111" stroke-width="1.8"/>
<polygon points="538.7,246.9 539.32,248.55 541.08,248.63 539.7,249.72 540.17,251.42 538.7,250.45 537.23,251.42 537.7,249.72 536.32,248.63 538.08,248.55" fill="#222"/>
<polygon points="543,246.9 543.62,248.55 545.38,248.63 544,249.72 544.47,251.42 543,250.45 541.53,251.42 542,249.72 540.62,248.63 542.38,248.55" fill="#222"/>
<polygon points="547.3,246.9 547.92,248.55 549.68,248.63 548.3,249.72 548.77,251.42 547.3,250.45 545.83,251.42 546.3,249.72 544.92,248.63 546.68,248.55" fill="#222"/>
<path d="M535.6,245.3 L535.6,243.3 Q535.6,242.5 536.4,242.5 L560.1,242.5 Q560.9,242.5 560.9,243.3 L560.9,245.3" fill="none" stroke="#111" stroke-width="1.8"/>
<polygon points="542.7,235.4 543.32,237.05 545.08,237.13 543.7,238.22 544.17,239.92 542.7,238.95 541.23,239.92 541.7,238.22 540.32,237.13 542.08,237.05" fill="#222"/>
<polygon points="547,235.4 547.62,237.05 549.38,237.13 548,238.22 548.47,239.92 547,238.95 545.53,239.92 546,238.22 544.62,237.13 546.38,237.05" fill="#222"/>
<polygon points="551.3,235.4 551.92,237.05 553.68,237.13 552.3,238.22 552.77,239.92 551.3,238.95 549.83,239.92 550.3,238.22 548.92,237.13 550.68,237.05" fill="#222"/>
<path d="M535.6,237.2 L535.6,235.2 Q535.6,234.4 536.4,234.4 L571.5,234.4 Q572.3,234.4 572.3,235.2 L572.3,237.2" fill="none" stroke="#111" stroke-width="1.8"/>
<polygon points="549.7,226.2 550.32,227.85 552.08,227.93 550.7,229.02 551.17,230.72 549.7,229.75 548.23,230.72 548.7,229.02 547.32,227.93 549.08,227.85" fill="#222"/>
<polygon points="554,226.2 554.62,227.85 556.38,227.93 555,229.02 555.47,230.72 554,229.75 552.53,230.72 553,229.02 551.62,227.93 553.38,227.85" fill="#222"/>
<polygon points="558.3,226.2 558.92,227.85 560.68,227.93 559.3,229.02 559.77,230.72 558.3,229.75 556.83,230.72 557.3,229.02 555.92,227.93 557.68,227.85" fill="#222"/>
<path d="M536.5,225.8 L536.5,223.8 Q536.5,223 537.3,223 L583,223 Q583.8,223 583.8,223.8 L583.8,225.8" fill="none" stroke="#111" stroke-width="1.8"/>
<polygon points="556.6,214.7 557.22,216.35 558.98,216.43 557.6,217.52 558.07,219.22 556.6,218.25 555.13,219.22 555.6,217.52 554.22,216.43 555.98,216.35" fill="#222"/>
<polygon points="560.9,214.7 561.52,216.35 563.28,216.43 561.9,217.52 562.37,219.22 560.9,218.25 559.43,219.22 559.9,217.52 558.52,216.43 560.28,216.35" fill="#222"/>
<polygon points="565.2,214.7 565.82,216.35 567.58,216.43 566.2,217.52 566.67,219.22 565.2,218.25 563.73,219.22 564.2,217.52 562.82,216.43 564.58,216.35" fill="#222"/>
<rect x="599.8" y="222.1" width="15" height="7.2" rx="1" fill="#ffffff" stroke="#111" stroke-width="1.6"/>
<text x="622.6" y="229.7" font-family='"Liberation Sans", sans-serif' font-size="11" fill="#222" stroke="#222" stroke-width="0.2">control</text>
<rect x="599.8" y="237.1" width="15" height="7.2" rx="1" fill="#000000" stroke="#000" stroke-width="1.6"/>
<text x="622.6" y="244.7" font-family='"Liberation Sans", sans-serif' font-size="11" fill="#222" stroke="#222" stroke-width="0.2">UTP</text>
<rect x="599.8" y="252.2" width="15" height="7.2" rx="1" fill="#f04848" stroke="#555" stroke-width="1.6"/>
<text x="622.6" y="259.8" font-family='"Liberation Sans", sans-serif' font-size="11" fill="#222" stroke="#222" stroke-width="0.2">UDP</text>
<rect x="599.8" y="267.6" width="15" height="7.2" rx="1" fill="#8c8cf0" stroke="#0a0a40" stroke-width="1.6"/>
<text x="622.6" y="275.2" font-family='"Liberation Sans", sans-serif' font-size="11" fill="#222" stroke="#222" stroke-width="0.2">Spiperone</text>
<rect x="599.8" y="282.8" width="15" height="7.2" rx="1" fill="#22e022" stroke="#1a4a1a" stroke-width="1.6"/>
<text x="622.6" y="290.4" font-family='"Liberation Sans", sans-serif' font-size="11" fill="#222" stroke="#222" stroke-width="0.2">CPA</text>
<text x="0" y="0" transform="translate(434.2,281.2) rotate(-90)" font-family='"Liberation Sans", sans-serif' font-size="11.1" font-weight="bold" fill="#111" text-anchor="middle" dominant-baseline="central">Cell population(%)</text>
<text x="559.8" y="388" font-family='"Liberation Sans", sans-serif' font-size="10.6" font-weight="bold" fill="#111" text-anchor="middle">Cell cycle phase</text>
<text x="0" y="0" transform="translate(487.9,363.3) rotate(-45)" font-family='"Liberation Sans", sans-serif' font-size="10" font-weight="bold" fill="#111" text-anchor="middle" dominant-baseline="central">G1</text>
<text x="0" y="0" transform="translate(557.6,359.2) rotate(-45)" font-family='"Liberation Sans", sans-serif' font-size="10" font-weight="bold" fill="#111" text-anchor="middle" dominant-baseline="central">S</text>
<text x="0" y="0" transform="translate(622.1,361.5) rotate(-45)" font-family='"Liberation Sans", sans-serif' font-size="10" font-weight="bold" fill="#111" text-anchor="middle" dominant-baseline="central">G2</text>
<text x="431.6" y="205.2" font-family='"Liberation Sans", sans-serif' font-size="12.9" font-weight="bold" fill="#111">f</text>
</svg></body></html>
